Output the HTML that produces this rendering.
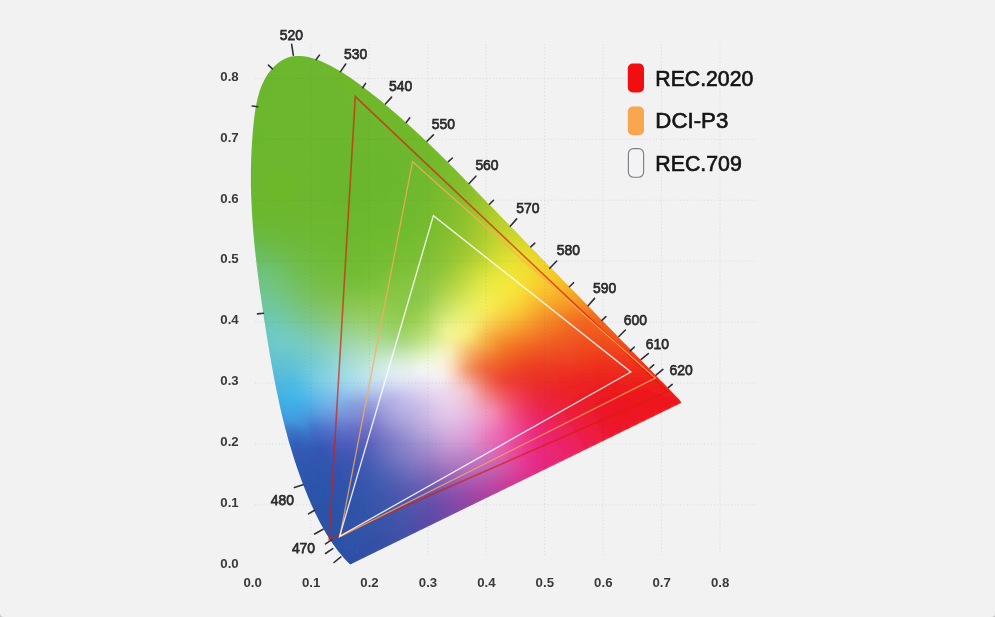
<!DOCTYPE html>
<html lang="en">
<head>
<meta charset="utf-8">
<title>CIE 1931 colour gamut comparison</title>
<style>
html,body{margin:0;padding:0;background:#c6c6c6;}
body{width:995px;height:617px;overflow:hidden;}
#card{position:absolute;left:0;top:0;width:995px;height:617px;background:#f2f2f2;border-radius:0 0 4px 4px;overflow:hidden;}
svg{position:absolute;left:0;top:0;display:block;}
text{font-family:"Liberation Sans",sans-serif;}
.grid line{stroke:#dcdcdc;stroke-width:1;stroke-dasharray:1.2 2.2;}
.grid2 line{stroke:#555;stroke-width:1;stroke-dasharray:1.2 2.2;}
.ticks line{stroke:#2e3037;stroke-width:1.6;stroke-linecap:round;}
.wl text{font-size:15.2px;fill:#2b2b2e;stroke:#2b2b2e;stroke-width:.75;}
.ax text{font-size:12.6px;fill:#3a3a3a;font-weight:700;}
.lg text{font-size:21.6px;fill:#141414;stroke:#141414;stroke-width:.65;}
</style>
</head>
<body>
<div id="card">
<svg width="995" height="617" viewBox="0 0 995 617">
<defs>
<clipPath id="locus"><path d="M350.2,564.4 346.9,561.3 343.8,558 341,554.6 338.2,551.2 335.5,547.6 332.9,544 330.4,540.3 328,536.5 325.7,532.7 323.5,528.8 321.3,524.9 319.2,520.9 317.2,516.9 315.2,512.9 313.3,508.8 311.4,504.7 309.6,500.6 307.9,496.4 306.2,492.3 304.5,488.1 302.9,483.9 301.3,479.7 299.8,475.5 298.3,471.3 296.8,467.1 295.4,462.8 294,458.6 292.7,454.3 291.4,450 290.1,445.7 288.8,441.4 287.6,437.1 286.5,432.8 285.3,428.5 284.2,424.1 283.1,419.8 282.1,415.4 281,411.1 280,406.7 279.1,402.3 278.1,397.9 277.2,393.6 276.3,389.2 275.4,384.8 274.5,380.3 273.7,375.9 272.9,371.5 272.1,367.1 271.3,362.7 270.5,358.3 269.7,353.8 269,349.4 268.2,345 267.5,340.5 266.8,336.1 266.1,331.7 265.4,327.2 264.7,322.8 264,318.4 263.4,313.9 262.7,309.5 262.1,305.1 261.4,300.6 260.8,296.2 260.1,291.8 259.5,287.3 258.9,282.9 258.4,278.5 257.8,274 257.2,269.6 256.7,265.2 256.2,260.7 255.7,256.3 255.2,251.8 254.7,247.4 254.3,242.9 253.9,238.5 253.5,234.1 253.1,229.6 252.8,225.2 252.5,220.7 252.2,216.2 251.9,211.8 251.7,207.3 251.5,202.9 251.3,198.4 251.1,193.9 251,189.4 250.9,185 250.9,180.5 250.9,176 250.9,171.5 251,167 251.1,162.5 251.2,158 251.4,153.5 251.6,149 251.9,144.5 252.2,139.9 252.5,135.4 252.9,130.9 253.3,126.3 253.8,121.8 254.3,117.3 254.9,112.7 255.6,108.2 256.4,103.7 257.4,99.3 258.5,94.9 259.8,90.6 261.3,86.4 263.1,82.4 265.1,78.4 267.5,74.6 270.1,71 273.1,67.6 276.3,64.5 279.7,61.8 283.4,59.5 287.2,57.8 291.2,56.6 295.3,56 299.5,55.9 303.8,56.3 308.1,57 312.5,58.2 316.8,59.6 321.2,61.3 325.4,63.3 329.6,65.3 333.7,67.5 337.7,69.7 341.6,72.1 345.4,74.5 349.2,77 352.9,79.6 356.6,82.2 360.2,84.8 363.8,87.5 367.3,90.2 370.9,92.9 374.4,95.7 377.9,98.5 381.4,101.3 384.8,104.2 388.2,107 391.6,109.9 395,112.8 398.4,115.8 401.8,118.7 405.1,121.7 408.5,124.7 411.8,127.7 415.1,130.7 418.3,133.7 421.6,136.8 424.9,139.9 428.1,143 431.3,146.1 434.6,149.2 437.8,152.3 441,155.4 444.2,158.6 447.4,161.7 450.5,164.9 453.7,168.1 456.9,171.3 460,174.5 463.2,177.7 466.3,180.9 469.4,184.1 472.6,187.3 475.7,190.5 478.8,193.7 482,196.9 485.1,200.2 488.2,203.4 491.3,206.6 494.5,209.8 497.6,213 500.7,216.3 503.8,219.5 507,222.7 510.1,225.9 513.2,229.1 516.3,232.3 519.5,235.5 522.6,238.8 525.7,242 528.8,245.2 532,248.4 535.1,251.6 538.2,254.8 541.3,258 544.5,261.2 547.6,264.4 550.7,267.6 553.8,270.8 557,274.1 560.1,277.3 563.2,280.5 566.4,283.7 569.5,286.9 572.6,290.1 575.7,293.3 578.9,296.5 582,299.7 585.1,302.9 588.2,306.1 591.4,309.3 594.5,312.5 597.6,315.7 600.7,318.9 603.9,322.1 607,325.4 610.1,328.6 613.3,331.8 616.4,335 619.5,338.2 622.6,341.4 625.8,344.6 628.9,347.8 632,351 635.2,354.2 638.3,357.4 641.4,360.6 644.5,363.8 647.7,367 650.8,370.2 653.9,373.5 657,376.7 660.2,379.9 663.3,383.1 666.4,386.3 669.6,389.5 672.7,392.7 675.8,395.9 678.9,399.1 681.6,402.8Z"/></clipPath>
<filter id="soft" x="-5%" y="-5%" width="110%" height="110%"><feGaussianBlur stdDeviation="1.5 2.4"/></filter>
<linearGradient id="g0" gradientUnits="userSpaceOnUse" x1="286.9" x2="310.8" y1="0" y2="0"><stop offset="0%" stop-color="#6cb72e"/><stop offset="33.3%" stop-color="#6cb72e"/><stop offset="66.7%" stop-color="#6db72d"/><stop offset="100%" stop-color="#6db72d"/></linearGradient><linearGradient id="g1" gradientUnits="userSpaceOnUse" x1="278.1" x2="323.2" y1="0" y2="0"><stop offset="0%" stop-color="#6bb72e"/><stop offset="20%" stop-color="#6cb72e"/><stop offset="40%" stop-color="#6cb72e"/><stop offset="60%" stop-color="#6db72d"/><stop offset="80%" stop-color="#6db72d"/><stop offset="100%" stop-color="#6eb72c"/></linearGradient><linearGradient id="g2" gradientUnits="userSpaceOnUse" x1="272.8" x2="332" y1="0" y2="0"><stop offset="0%" stop-color="#6bb72f"/><stop offset="16.7%" stop-color="#6cb72e"/><stop offset="33.3%" stop-color="#6cb72e"/><stop offset="50%" stop-color="#6db72d"/><stop offset="66.7%" stop-color="#6db72d"/><stop offset="83.3%" stop-color="#6eb72c"/><stop offset="100%" stop-color="#6eb72c"/></linearGradient><linearGradient id="g3" gradientUnits="userSpaceOnUse" x1="268.9" x2="339.4" y1="0" y2="0"><stop offset="0%" stop-color="#6bb72f"/><stop offset="14.3%" stop-color="#6bb72e"/><stop offset="28.6%" stop-color="#6cb72e"/><stop offset="42.9%" stop-color="#6cb72e"/><stop offset="57.1%" stop-color="#6db72d"/><stop offset="71.4%" stop-color="#6db72d"/><stop offset="85.7%" stop-color="#6eb72c"/><stop offset="100%" stop-color="#6fb72c"/></linearGradient><linearGradient id="g4" gradientUnits="userSpaceOnUse" x1="265.7" x2="346" y1="0" y2="0"><stop offset="0%" stop-color="#6bb72f"/><stop offset="12.5%" stop-color="#6bb72e"/><stop offset="25%" stop-color="#6cb72e"/><stop offset="37.5%" stop-color="#6cb72e"/><stop offset="50%" stop-color="#6cb72d"/><stop offset="62.5%" stop-color="#6db72d"/><stop offset="75%" stop-color="#6eb72d"/><stop offset="87.5%" stop-color="#6eb72c"/><stop offset="100%" stop-color="#6fb72c"/></linearGradient><linearGradient id="g5" gradientUnits="userSpaceOnUse" x1="263" x2="352.2" y1="0" y2="0"><stop offset="0%" stop-color="#6bb72f"/><stop offset="11.1%" stop-color="#6bb72e"/><stop offset="22.2%" stop-color="#6cb72e"/><stop offset="33.3%" stop-color="#6cb72e"/><stop offset="44.4%" stop-color="#6cb72e"/><stop offset="55.6%" stop-color="#6db72d"/><stop offset="66.7%" stop-color="#6db72d"/><stop offset="77.8%" stop-color="#6eb72c"/><stop offset="88.9%" stop-color="#6eb72c"/><stop offset="100%" stop-color="#6fb72b"/></linearGradient><linearGradient id="g6" gradientUnits="userSpaceOnUse" x1="260.8" x2="357.9" y1="0" y2="0"><stop offset="0%" stop-color="#6bb72f"/><stop offset="11.1%" stop-color="#6bb72e"/><stop offset="22.2%" stop-color="#6cb72e"/><stop offset="33.3%" stop-color="#6cb72e"/><stop offset="44.4%" stop-color="#6cb72e"/><stop offset="55.6%" stop-color="#6db72d"/><stop offset="66.7%" stop-color="#6db72d"/><stop offset="77.8%" stop-color="#6eb72c"/><stop offset="88.9%" stop-color="#6fb72c"/><stop offset="100%" stop-color="#70b72b"/></linearGradient><linearGradient id="g7" gradientUnits="userSpaceOnUse" x1="258.9" x2="363.4" y1="0" y2="0"><stop offset="0%" stop-color="#6bb72f"/><stop offset="10%" stop-color="#6bb72f"/><stop offset="20%" stop-color="#6cb72e"/><stop offset="30%" stop-color="#6cb72e"/><stop offset="40%" stop-color="#6cb72e"/><stop offset="50%" stop-color="#6cb72d"/><stop offset="60%" stop-color="#6db72d"/><stop offset="70%" stop-color="#6db72d"/><stop offset="80%" stop-color="#6eb72c"/><stop offset="90%" stop-color="#6fb72c"/><stop offset="100%" stop-color="#70b82b"/></linearGradient><linearGradient id="g8" gradientUnits="userSpaceOnUse" x1="257.4" x2="368.7" y1="0" y2="0"><stop offset="0%" stop-color="#6bb72f"/><stop offset="9.1%" stop-color="#6bb72f"/><stop offset="18.2%" stop-color="#6cb72e"/><stop offset="27.3%" stop-color="#6cb72e"/><stop offset="36.4%" stop-color="#6cb72e"/><stop offset="45.5%" stop-color="#6cb72e"/><stop offset="54.5%" stop-color="#6cb72d"/><stop offset="63.6%" stop-color="#6db72d"/><stop offset="72.7%" stop-color="#6db72d"/><stop offset="81.8%" stop-color="#6eb72c"/><stop offset="90.9%" stop-color="#6fb72c"/><stop offset="100%" stop-color="#70b82b"/></linearGradient><linearGradient id="g9" gradientUnits="userSpaceOnUse" x1="256.1" x2="373.9" y1="0" y2="0"><stop offset="0%" stop-color="#6bb72f"/><stop offset="9.1%" stop-color="#6bb72e"/><stop offset="18.2%" stop-color="#6cb72e"/><stop offset="27.3%" stop-color="#6cb72e"/><stop offset="36.4%" stop-color="#6cb72e"/><stop offset="45.5%" stop-color="#6cb72e"/><stop offset="54.5%" stop-color="#6cb72e"/><stop offset="63.6%" stop-color="#6db72d"/><stop offset="72.7%" stop-color="#6db72d"/><stop offset="81.8%" stop-color="#6eb72c"/><stop offset="90.9%" stop-color="#6fb72c"/><stop offset="100%" stop-color="#70b82b"/></linearGradient><linearGradient id="g10" gradientUnits="userSpaceOnUse" x1="254.9" x2="379" y1="0" y2="0"><stop offset="0%" stop-color="#6bb72f"/><stop offset="8.3%" stop-color="#6bb72e"/><stop offset="16.7%" stop-color="#6cb72e"/><stop offset="25%" stop-color="#6cb72e"/><stop offset="33.3%" stop-color="#6cb72e"/><stop offset="41.7%" stop-color="#6cb72e"/><stop offset="50%" stop-color="#6cb72e"/><stop offset="58.3%" stop-color="#6cb72e"/><stop offset="66.7%" stop-color="#6db72d"/><stop offset="75%" stop-color="#6eb72d"/><stop offset="83.3%" stop-color="#6eb72c"/><stop offset="91.7%" stop-color="#6fb72c"/><stop offset="100%" stop-color="#71b82b"/></linearGradient><linearGradient id="g11" gradientUnits="userSpaceOnUse" x1="254" x2="383.9" y1="0" y2="0"><stop offset="0%" stop-color="#6bb72f"/><stop offset="8.3%" stop-color="#6bb72e"/><stop offset="16.7%" stop-color="#6cb72e"/><stop offset="25%" stop-color="#6cb72e"/><stop offset="33.3%" stop-color="#6cb72e"/><stop offset="41.7%" stop-color="#6cb72e"/><stop offset="50%" stop-color="#6cb72e"/><stop offset="58.3%" stop-color="#6cb72e"/><stop offset="66.7%" stop-color="#6db72d"/><stop offset="75%" stop-color="#6eb72d"/><stop offset="83.3%" stop-color="#6eb72c"/><stop offset="91.7%" stop-color="#6fb82c"/><stop offset="100%" stop-color="#71b82b"/></linearGradient><linearGradient id="g12" gradientUnits="userSpaceOnUse" x1="253.2" x2="388.8" y1="0" y2="0"><stop offset="0%" stop-color="#6bb72f"/><stop offset="7.7%" stop-color="#6cb72e"/><stop offset="15.4%" stop-color="#6cb72e"/><stop offset="23.1%" stop-color="#6cb72e"/><stop offset="30.8%" stop-color="#6cb72e"/><stop offset="38.5%" stop-color="#6cb72e"/><stop offset="46.2%" stop-color="#6cb72e"/><stop offset="53.8%" stop-color="#6cb72e"/><stop offset="61.5%" stop-color="#6cb72e"/><stop offset="69.2%" stop-color="#6db72d"/><stop offset="76.9%" stop-color="#6eb72d"/><stop offset="84.6%" stop-color="#6fb72c"/><stop offset="92.3%" stop-color="#70b82c"/><stop offset="100%" stop-color="#71b82b"/></linearGradient><linearGradient id="g13" gradientUnits="userSpaceOnUse" x1="252.5" x2="393.6" y1="0" y2="0"><stop offset="0%" stop-color="#6bb72f"/><stop offset="7.7%" stop-color="#6cb72e"/><stop offset="15.4%" stop-color="#6cb72e"/><stop offset="23.1%" stop-color="#6cb72d"/><stop offset="30.8%" stop-color="#6cb72d"/><stop offset="38.5%" stop-color="#6cb72e"/><stop offset="46.2%" stop-color="#6cb72e"/><stop offset="53.8%" stop-color="#6cb72e"/><stop offset="61.5%" stop-color="#6cb72d"/><stop offset="69.2%" stop-color="#6db72d"/><stop offset="76.9%" stop-color="#6eb72d"/><stop offset="84.6%" stop-color="#6fb72c"/><stop offset="92.3%" stop-color="#70b82c"/><stop offset="100%" stop-color="#71b82b"/></linearGradient><linearGradient id="g14" gradientUnits="userSpaceOnUse" x1="251.9" x2="398.2" y1="0" y2="0"><stop offset="0%" stop-color="#6bb72f"/><stop offset="7.1%" stop-color="#6cb72e"/><stop offset="14.3%" stop-color="#6cb72e"/><stop offset="21.4%" stop-color="#6cb72d"/><stop offset="28.6%" stop-color="#6cb72d"/><stop offset="35.7%" stop-color="#6cb72d"/><stop offset="42.9%" stop-color="#6cb72e"/><stop offset="50%" stop-color="#6cb72e"/><stop offset="57.1%" stop-color="#6cb72e"/><stop offset="64.3%" stop-color="#6db72d"/><stop offset="71.4%" stop-color="#6db72d"/><stop offset="78.6%" stop-color="#6eb72d"/><stop offset="85.7%" stop-color="#6fb72c"/><stop offset="92.9%" stop-color="#70b82b"/><stop offset="100%" stop-color="#71b82b"/></linearGradient><linearGradient id="g15" gradientUnits="userSpaceOnUse" x1="251.4" x2="402.8" y1="0" y2="0"><stop offset="0%" stop-color="#6bb72f"/><stop offset="7.1%" stop-color="#6cb72e"/><stop offset="14.3%" stop-color="#6cb72e"/><stop offset="21.4%" stop-color="#6cb72d"/><stop offset="28.6%" stop-color="#6cb72d"/><stop offset="35.7%" stop-color="#6cb72d"/><stop offset="42.9%" stop-color="#6cb72e"/><stop offset="50%" stop-color="#6cb72e"/><stop offset="57.1%" stop-color="#6cb72e"/><stop offset="64.3%" stop-color="#6db72d"/><stop offset="71.4%" stop-color="#6db72d"/><stop offset="78.6%" stop-color="#6eb72d"/><stop offset="85.7%" stop-color="#6fb72c"/><stop offset="92.9%" stop-color="#70b82c"/><stop offset="100%" stop-color="#72b82b"/></linearGradient><linearGradient id="g16" gradientUnits="userSpaceOnUse" x1="250.9" x2="407.4" y1="0" y2="0"><stop offset="0%" stop-color="#6bb72f"/><stop offset="6.7%" stop-color="#6cb72e"/><stop offset="13.3%" stop-color="#6cb72e"/><stop offset="20%" stop-color="#6cb72d"/><stop offset="26.7%" stop-color="#6cb72d"/><stop offset="33.3%" stop-color="#6cb72d"/><stop offset="40%" stop-color="#6cb72d"/><stop offset="46.7%" stop-color="#6cb72e"/><stop offset="53.3%" stop-color="#6cb72e"/><stop offset="60%" stop-color="#6cb72d"/><stop offset="66.7%" stop-color="#6db72d"/><stop offset="73.3%" stop-color="#6db72d"/><stop offset="80%" stop-color="#6eb72d"/><stop offset="86.7%" stop-color="#6fb82c"/><stop offset="93.3%" stop-color="#70b82c"/><stop offset="100%" stop-color="#72b82b"/></linearGradient><linearGradient id="g17" gradientUnits="userSpaceOnUse" x1="250.5" x2="411.8" y1="0" y2="0"><stop offset="0%" stop-color="#6bb72f"/><stop offset="6.7%" stop-color="#6cb72e"/><stop offset="13.3%" stop-color="#6cb72e"/><stop offset="20%" stop-color="#6cb72d"/><stop offset="26.7%" stop-color="#6cb72d"/><stop offset="33.3%" stop-color="#6cb72d"/><stop offset="40%" stop-color="#6cb72d"/><stop offset="46.7%" stop-color="#6cb72e"/><stop offset="53.3%" stop-color="#6cb72e"/><stop offset="60%" stop-color="#6cb72d"/><stop offset="66.7%" stop-color="#6db72d"/><stop offset="73.3%" stop-color="#6db72d"/><stop offset="80%" stop-color="#6eb72d"/><stop offset="86.7%" stop-color="#6fb82c"/><stop offset="93.3%" stop-color="#70b82c"/><stop offset="100%" stop-color="#72b82b"/></linearGradient><linearGradient id="g18" gradientUnits="userSpaceOnUse" x1="250.1" x2="416.2" y1="0" y2="0"><stop offset="0%" stop-color="#6bb72f"/><stop offset="6.2%" stop-color="#6cb72e"/><stop offset="12.5%" stop-color="#6cb72e"/><stop offset="18.8%" stop-color="#6cb72d"/><stop offset="25%" stop-color="#6cb72d"/><stop offset="31.2%" stop-color="#6cb72d"/><stop offset="37.5%" stop-color="#6cb72d"/><stop offset="43.8%" stop-color="#6cb72d"/><stop offset="50%" stop-color="#6cb72e"/><stop offset="56.3%" stop-color="#6cb72e"/><stop offset="62.5%" stop-color="#6cb72e"/><stop offset="68.8%" stop-color="#6db72d"/><stop offset="75%" stop-color="#6db72d"/><stop offset="81.2%" stop-color="#6eb72d"/><stop offset="87.5%" stop-color="#6fb82c"/><stop offset="93.8%" stop-color="#71b82c"/><stop offset="100%" stop-color="#73b82b"/></linearGradient><linearGradient id="g19" gradientUnits="userSpaceOnUse" x1="249.7" x2="420.5" y1="0" y2="0"><stop offset="0%" stop-color="#6bb72f"/><stop offset="6.2%" stop-color="#6bb72e"/><stop offset="12.5%" stop-color="#6cb72d"/><stop offset="18.8%" stop-color="#6cb72d"/><stop offset="25%" stop-color="#6cb72d"/><stop offset="31.3%" stop-color="#6cb72d"/><stop offset="37.5%" stop-color="#6cb72d"/><stop offset="43.7%" stop-color="#6cb72d"/><stop offset="50%" stop-color="#6cb72e"/><stop offset="56.3%" stop-color="#6cb72e"/><stop offset="62.5%" stop-color="#6cb72e"/><stop offset="68.8%" stop-color="#6db72d"/><stop offset="75%" stop-color="#6db72d"/><stop offset="81.2%" stop-color="#6eb72d"/><stop offset="87.5%" stop-color="#6fb82c"/><stop offset="93.7%" stop-color="#71b82c"/><stop offset="100%" stop-color="#73b92b"/></linearGradient><linearGradient id="g20" gradientUnits="userSpaceOnUse" x1="249.4" x2="424.8" y1="0" y2="0"><stop offset="0%" stop-color="#6bb730"/><stop offset="6.3%" stop-color="#6bb72e"/><stop offset="12.5%" stop-color="#6cb72d"/><stop offset="18.8%" stop-color="#6cb72d"/><stop offset="25%" stop-color="#6cb72d"/><stop offset="31.3%" stop-color="#6cb72d"/><stop offset="37.5%" stop-color="#6cb72d"/><stop offset="43.8%" stop-color="#6cb72d"/><stop offset="50%" stop-color="#6cb72e"/><stop offset="56.3%" stop-color="#6cb72e"/><stop offset="62.5%" stop-color="#6cb72e"/><stop offset="68.8%" stop-color="#6cb72d"/><stop offset="75%" stop-color="#6db72d"/><stop offset="81.3%" stop-color="#6eb72d"/><stop offset="87.5%" stop-color="#6fb82c"/><stop offset="93.7%" stop-color="#71b82c"/><stop offset="100%" stop-color="#73b92b"/></linearGradient><linearGradient id="g21" gradientUnits="userSpaceOnUse" x1="249.1" x2="429" y1="0" y2="0"><stop offset="0%" stop-color="#6bb730"/><stop offset="5.9%" stop-color="#6bb72e"/><stop offset="11.8%" stop-color="#6cb72d"/><stop offset="17.6%" stop-color="#6cb72d"/><stop offset="23.5%" stop-color="#6cb72d"/><stop offset="29.4%" stop-color="#6cb72d"/><stop offset="35.3%" stop-color="#6cb72d"/><stop offset="41.2%" stop-color="#6bb72d"/><stop offset="47.1%" stop-color="#6bb72d"/><stop offset="52.9%" stop-color="#6cb72e"/><stop offset="58.8%" stop-color="#6cb72e"/><stop offset="64.7%" stop-color="#6cb72e"/><stop offset="70.6%" stop-color="#6cb72d"/><stop offset="76.5%" stop-color="#6db72d"/><stop offset="82.4%" stop-color="#6eb72d"/><stop offset="88.2%" stop-color="#6fb82c"/><stop offset="94.1%" stop-color="#71b82c"/><stop offset="100%" stop-color="#74b92b"/></linearGradient><linearGradient id="g22" gradientUnits="userSpaceOnUse" x1="248.8" x2="433.2" y1="0" y2="0"><stop offset="0%" stop-color="#6bb730"/><stop offset="5.9%" stop-color="#6bb72e"/><stop offset="11.8%" stop-color="#6cb72d"/><stop offset="17.6%" stop-color="#6cb72d"/><stop offset="23.5%" stop-color="#6cb72d"/><stop offset="29.4%" stop-color="#6cb72d"/><stop offset="35.3%" stop-color="#6cb72d"/><stop offset="41.2%" stop-color="#6bb72d"/><stop offset="47.1%" stop-color="#6bb72d"/><stop offset="52.9%" stop-color="#6bb72e"/><stop offset="58.8%" stop-color="#6cb72e"/><stop offset="64.7%" stop-color="#6cb72e"/><stop offset="70.6%" stop-color="#6cb72d"/><stop offset="76.5%" stop-color="#6db72d"/><stop offset="82.4%" stop-color="#6eb72d"/><stop offset="88.2%" stop-color="#6fb82d"/><stop offset="94.1%" stop-color="#71b92c"/><stop offset="100%" stop-color="#75b92b"/></linearGradient><linearGradient id="g23" gradientUnits="userSpaceOnUse" x1="248.6" x2="437.4" y1="0" y2="0"><stop offset="0%" stop-color="#6bb730"/><stop offset="5.6%" stop-color="#6cb72e"/><stop offset="11.1%" stop-color="#6cb72d"/><stop offset="16.7%" stop-color="#6cb72d"/><stop offset="22.2%" stop-color="#6cb72d"/><stop offset="27.8%" stop-color="#6cb72d"/><stop offset="33.3%" stop-color="#6cb72d"/><stop offset="38.9%" stop-color="#6bb72d"/><stop offset="44.4%" stop-color="#6bb72d"/><stop offset="50%" stop-color="#6bb72d"/><stop offset="55.6%" stop-color="#6bb72e"/><stop offset="61.1%" stop-color="#6cb72e"/><stop offset="66.7%" stop-color="#6cb72e"/><stop offset="72.2%" stop-color="#6cb72d"/><stop offset="77.8%" stop-color="#6db72d"/><stop offset="83.3%" stop-color="#6eb82d"/><stop offset="88.9%" stop-color="#6fb82d"/><stop offset="94.4%" stop-color="#72b92c"/><stop offset="100%" stop-color="#76ba2b"/></linearGradient><linearGradient id="g24" gradientUnits="userSpaceOnUse" x1="248.4" x2="441.5" y1="0" y2="0"><stop offset="0%" stop-color="#6bb730"/><stop offset="5.6%" stop-color="#6cb72e"/><stop offset="11.1%" stop-color="#6cb72d"/><stop offset="16.7%" stop-color="#6cb72d"/><stop offset="22.2%" stop-color="#6cb72d"/><stop offset="27.8%" stop-color="#6cb72d"/><stop offset="33.3%" stop-color="#6cb72d"/><stop offset="38.9%" stop-color="#6bb72d"/><stop offset="44.4%" stop-color="#6bb72d"/><stop offset="50%" stop-color="#6bb72d"/><stop offset="55.6%" stop-color="#6bb72e"/><stop offset="61.1%" stop-color="#6bb72e"/><stop offset="66.7%" stop-color="#6cb72e"/><stop offset="72.2%" stop-color="#6cb72e"/><stop offset="77.8%" stop-color="#6db72d"/><stop offset="83.3%" stop-color="#6eb82d"/><stop offset="88.9%" stop-color="#70b82d"/><stop offset="94.4%" stop-color="#72b92c"/><stop offset="100%" stop-color="#77ba2b"/></linearGradient><linearGradient id="g25" gradientUnits="userSpaceOnUse" x1="248.3" x2="445.5" y1="0" y2="0"><stop offset="0%" stop-color="#6bb730"/><stop offset="5.6%" stop-color="#6cb72e"/><stop offset="11.1%" stop-color="#6cb72d"/><stop offset="16.7%" stop-color="#6cb72d"/><stop offset="22.2%" stop-color="#6cb72d"/><stop offset="27.8%" stop-color="#6cb72d"/><stop offset="33.3%" stop-color="#6cb72d"/><stop offset="38.9%" stop-color="#6bb72d"/><stop offset="44.4%" stop-color="#6bb72d"/><stop offset="50%" stop-color="#6bb72d"/><stop offset="55.6%" stop-color="#6bb72e"/><stop offset="61.1%" stop-color="#6bb72e"/><stop offset="66.7%" stop-color="#6bb72e"/><stop offset="72.2%" stop-color="#6cb72e"/><stop offset="77.8%" stop-color="#6db72e"/><stop offset="83.3%" stop-color="#6eb82d"/><stop offset="88.9%" stop-color="#70b92d"/><stop offset="94.4%" stop-color="#73b92c"/><stop offset="100%" stop-color="#79bb2b"/></linearGradient><linearGradient id="g26" gradientUnits="userSpaceOnUse" x1="248.1" x2="449.6" y1="0" y2="0"><stop offset="0%" stop-color="#6bb72f"/><stop offset="5.3%" stop-color="#6cb72e"/><stop offset="10.5%" stop-color="#6cb72d"/><stop offset="15.8%" stop-color="#6cb72d"/><stop offset="21.1%" stop-color="#6cb72d"/><stop offset="26.3%" stop-color="#6cb72d"/><stop offset="31.6%" stop-color="#6cb72d"/><stop offset="36.8%" stop-color="#6bb72d"/><stop offset="42.1%" stop-color="#6bb72d"/><stop offset="47.4%" stop-color="#6bb72d"/><stop offset="52.6%" stop-color="#6bb72d"/><stop offset="57.9%" stop-color="#6bb72e"/><stop offset="63.2%" stop-color="#6bb72e"/><stop offset="68.4%" stop-color="#6bb72e"/><stop offset="73.7%" stop-color="#6cb72e"/><stop offset="78.9%" stop-color="#6db72e"/><stop offset="84.2%" stop-color="#6eb82d"/><stop offset="89.5%" stop-color="#70b92d"/><stop offset="94.7%" stop-color="#75ba2c"/><stop offset="100%" stop-color="#7bbb2b"/></linearGradient><linearGradient id="g27" gradientUnits="userSpaceOnUse" x1="248" x2="453.6" y1="0" y2="0"><stop offset="0%" stop-color="#6bb72f"/><stop offset="5.3%" stop-color="#6cb72e"/><stop offset="10.5%" stop-color="#6cb72d"/><stop offset="15.8%" stop-color="#6cb72d"/><stop offset="21.1%" stop-color="#6cb72d"/><stop offset="26.3%" stop-color="#6cb72d"/><stop offset="31.6%" stop-color="#6cb72d"/><stop offset="36.8%" stop-color="#6bb72d"/><stop offset="42.1%" stop-color="#6bb72d"/><stop offset="47.4%" stop-color="#6bb72d"/><stop offset="52.6%" stop-color="#6bb72d"/><stop offset="57.9%" stop-color="#6bb72e"/><stop offset="63.2%" stop-color="#6bb72e"/><stop offset="68.4%" stop-color="#6bb72e"/><stop offset="73.7%" stop-color="#6cb72e"/><stop offset="78.9%" stop-color="#6db82e"/><stop offset="84.2%" stop-color="#6fb82d"/><stop offset="89.5%" stop-color="#72b92d"/><stop offset="94.7%" stop-color="#77ba2c"/><stop offset="100%" stop-color="#7ebc2b"/></linearGradient><linearGradient id="g28" gradientUnits="userSpaceOnUse" x1="248" x2="457.6" y1="0" y2="0"><stop offset="0%" stop-color="#6bb72f"/><stop offset="5%" stop-color="#6cb72e"/><stop offset="10%" stop-color="#6cb72d"/><stop offset="15%" stop-color="#6cb72d"/><stop offset="20%" stop-color="#6cb72d"/><stop offset="25%" stop-color="#6cb72e"/><stop offset="30%" stop-color="#6cb72d"/><stop offset="35%" stop-color="#6bb72d"/><stop offset="40%" stop-color="#6bb72d"/><stop offset="45%" stop-color="#6bb72d"/><stop offset="50%" stop-color="#6bb72d"/><stop offset="55%" stop-color="#6bb72d"/><stop offset="60%" stop-color="#6bb72e"/><stop offset="65%" stop-color="#6bb72e"/><stop offset="70%" stop-color="#6bb72e"/><stop offset="75%" stop-color="#6cb72e"/><stop offset="80%" stop-color="#6eb82d"/><stop offset="85%" stop-color="#70b92d"/><stop offset="90%" stop-color="#74ba2d"/><stop offset="95%" stop-color="#7abb2c"/><stop offset="100%" stop-color="#80bc2b"/></linearGradient><linearGradient id="g29" gradientUnits="userSpaceOnUse" x1="247.9" x2="461.5" y1="0" y2="0"><stop offset="0%" stop-color="#6bb72f"/><stop offset="5%" stop-color="#6cb72d"/><stop offset="10%" stop-color="#6cb72c"/><stop offset="15%" stop-color="#6cb72c"/><stop offset="20%" stop-color="#6cb72d"/><stop offset="25%" stop-color="#6cb72e"/><stop offset="30%" stop-color="#6cb72d"/><stop offset="35%" stop-color="#6bb72d"/><stop offset="40%" stop-color="#6bb72d"/><stop offset="45%" stop-color="#6bb72d"/><stop offset="50%" stop-color="#6bb72d"/><stop offset="55%" stop-color="#6bb72d"/><stop offset="60%" stop-color="#6bb72e"/><stop offset="65%" stop-color="#6bb72e"/><stop offset="70%" stop-color="#6cb72e"/><stop offset="75%" stop-color="#6db82e"/><stop offset="80%" stop-color="#6eb82d"/><stop offset="85%" stop-color="#71b92d"/><stop offset="90%" stop-color="#76ba2d"/><stop offset="95%" stop-color="#7cbc2c"/><stop offset="100%" stop-color="#83bd2b"/></linearGradient><linearGradient id="g30" gradientUnits="userSpaceOnUse" x1="247.9" x2="465.5" y1="0" y2="0"><stop offset="0%" stop-color="#6bb730"/><stop offset="5%" stop-color="#6cb72d"/><stop offset="10%" stop-color="#6cb72c"/><stop offset="15%" stop-color="#6cb72c"/><stop offset="20%" stop-color="#6cb72d"/><stop offset="25%" stop-color="#6cb72d"/><stop offset="30%" stop-color="#6cb72d"/><stop offset="35%" stop-color="#6bb72d"/><stop offset="40%" stop-color="#6bb72d"/><stop offset="45%" stop-color="#6bb72d"/><stop offset="50%" stop-color="#6bb72d"/><stop offset="55%" stop-color="#6bb72d"/><stop offset="60%" stop-color="#6bb72e"/><stop offset="65%" stop-color="#6bb72e"/><stop offset="70%" stop-color="#6cb72e"/><stop offset="75%" stop-color="#6db82d"/><stop offset="80%" stop-color="#6fb92d"/><stop offset="85%" stop-color="#73ba2d"/><stop offset="90%" stop-color="#78bb2d"/><stop offset="95%" stop-color="#7fbc2c"/><stop offset="100%" stop-color="#86be2b"/></linearGradient><linearGradient id="g31" gradientUnits="userSpaceOnUse" x1="247.9" x2="469.4" y1="0" y2="0"><stop offset="0%" stop-color="#6bb730"/><stop offset="4.8%" stop-color="#6cb72d"/><stop offset="9.5%" stop-color="#6cb72c"/><stop offset="14.3%" stop-color="#6cb72c"/><stop offset="19%" stop-color="#6cb72c"/><stop offset="23.8%" stop-color="#6cb72d"/><stop offset="28.6%" stop-color="#6cb72d"/><stop offset="33.3%" stop-color="#6bb72d"/><stop offset="38.1%" stop-color="#6bb72d"/><stop offset="42.9%" stop-color="#6bb72d"/><stop offset="47.6%" stop-color="#6bb72d"/><stop offset="52.4%" stop-color="#6bb72d"/><stop offset="57.1%" stop-color="#6bb72d"/><stop offset="61.9%" stop-color="#6bb72e"/><stop offset="66.7%" stop-color="#6bb72e"/><stop offset="71.4%" stop-color="#6cb82e"/><stop offset="76.2%" stop-color="#6eb82d"/><stop offset="81%" stop-color="#71b92d"/><stop offset="85.7%" stop-color="#76ba2d"/><stop offset="90.5%" stop-color="#7bbc2d"/><stop offset="95.2%" stop-color="#82bd2c"/><stop offset="100%" stop-color="#8abf2b"/></linearGradient><linearGradient id="g32" gradientUnits="userSpaceOnUse" x1="247.9" x2="473.3" y1="0" y2="0"><stop offset="0%" stop-color="#6bb730"/><stop offset="4.8%" stop-color="#6cb72d"/><stop offset="9.5%" stop-color="#6cb72c"/><stop offset="14.3%" stop-color="#6cb72c"/><stop offset="19%" stop-color="#6cb72c"/><stop offset="23.8%" stop-color="#6cb72d"/><stop offset="28.6%" stop-color="#6cb72d"/><stop offset="33.3%" stop-color="#6bb72d"/><stop offset="38.1%" stop-color="#6bb72d"/><stop offset="42.9%" stop-color="#6bb72d"/><stop offset="47.6%" stop-color="#6bb72d"/><stop offset="52.4%" stop-color="#6bb72d"/><stop offset="57.1%" stop-color="#6bb72e"/><stop offset="61.9%" stop-color="#6bb72e"/><stop offset="66.7%" stop-color="#6cb72e"/><stop offset="71.4%" stop-color="#6db82d"/><stop offset="76.2%" stop-color="#6fb92d"/><stop offset="81%" stop-color="#73ba2d"/><stop offset="85.7%" stop-color="#78bb2d"/><stop offset="90.5%" stop-color="#7ebc2d"/><stop offset="95.2%" stop-color="#85be2c"/><stop offset="100%" stop-color="#8ec02c"/></linearGradient><linearGradient id="g33" gradientUnits="userSpaceOnUse" x1="247.9" x2="477.2" y1="0" y2="0"><stop offset="0%" stop-color="#6bb730"/><stop offset="4.8%" stop-color="#6cb72d"/><stop offset="9.5%" stop-color="#6cb72c"/><stop offset="14.3%" stop-color="#6cb72c"/><stop offset="19%" stop-color="#6cb72c"/><stop offset="23.8%" stop-color="#6cb72d"/><stop offset="28.6%" stop-color="#6cb72d"/><stop offset="33.3%" stop-color="#6bb72d"/><stop offset="38.1%" stop-color="#6bb72d"/><stop offset="42.9%" stop-color="#6bb72d"/><stop offset="47.6%" stop-color="#6bb72d"/><stop offset="52.4%" stop-color="#6bb72d"/><stop offset="57.1%" stop-color="#6bb72e"/><stop offset="61.9%" stop-color="#6bb72e"/><stop offset="66.7%" stop-color="#6cb82d"/><stop offset="71.4%" stop-color="#6eb82d"/><stop offset="76.2%" stop-color="#70b92d"/><stop offset="81%" stop-color="#74ba2d"/><stop offset="85.7%" stop-color="#7abb2d"/><stop offset="90.5%" stop-color="#81bd2d"/><stop offset="95.2%" stop-color="#88bf2c"/><stop offset="100%" stop-color="#92c12c"/></linearGradient><linearGradient id="g34" gradientUnits="userSpaceOnUse" x1="248" x2="481.1" y1="0" y2="0"><stop offset="0%" stop-color="#6bb730"/><stop offset="4.5%" stop-color="#6cb72d"/><stop offset="9.1%" stop-color="#6cb72c"/><stop offset="13.6%" stop-color="#6cb72c"/><stop offset="18.2%" stop-color="#6cb72c"/><stop offset="22.7%" stop-color="#6cb72c"/><stop offset="27.3%" stop-color="#6cb72d"/><stop offset="31.8%" stop-color="#6bb72d"/><stop offset="36.4%" stop-color="#6bb72d"/><stop offset="40.9%" stop-color="#6bb72d"/><stop offset="45.5%" stop-color="#6bb72d"/><stop offset="50%" stop-color="#6bb72d"/><stop offset="54.5%" stop-color="#6bb72e"/><stop offset="59.1%" stop-color="#6bb72e"/><stop offset="63.6%" stop-color="#6cb82d"/><stop offset="68.2%" stop-color="#6db82d"/><stop offset="72.7%" stop-color="#6fb92d"/><stop offset="77.3%" stop-color="#73ba2d"/><stop offset="81.8%" stop-color="#77bb2d"/><stop offset="86.4%" stop-color="#7dbc2d"/><stop offset="90.9%" stop-color="#84be2d"/><stop offset="95.5%" stop-color="#8cc02c"/><stop offset="100%" stop-color="#97c32c"/></linearGradient><linearGradient id="g35" gradientUnits="userSpaceOnUse" x1="248.1" x2="485" y1="0" y2="0"><stop offset="0%" stop-color="#6bb730"/><stop offset="4.5%" stop-color="#6cb72d"/><stop offset="9.1%" stop-color="#6cb72c"/><stop offset="13.6%" stop-color="#6cb72c"/><stop offset="18.2%" stop-color="#6cb72c"/><stop offset="22.7%" stop-color="#6cb72d"/><stop offset="27.3%" stop-color="#6cb72d"/><stop offset="31.8%" stop-color="#6bb72d"/><stop offset="36.4%" stop-color="#6bb72d"/><stop offset="40.9%" stop-color="#6bb72d"/><stop offset="45.5%" stop-color="#6bb72d"/><stop offset="50%" stop-color="#6bb72d"/><stop offset="54.5%" stop-color="#6bb72e"/><stop offset="59.1%" stop-color="#6cb72e"/><stop offset="63.6%" stop-color="#6cb82d"/><stop offset="68.2%" stop-color="#6db82d"/><stop offset="72.7%" stop-color="#70b92d"/><stop offset="77.3%" stop-color="#74ba2d"/><stop offset="81.8%" stop-color="#7abb2d"/><stop offset="86.4%" stop-color="#80bd2d"/><stop offset="90.9%" stop-color="#87bf2d"/><stop offset="95.5%" stop-color="#91c12c"/><stop offset="100%" stop-color="#9cc52b"/></linearGradient><linearGradient id="g36" gradientUnits="userSpaceOnUse" x1="248.2" x2="488.9" y1="0" y2="0"><stop offset="0%" stop-color="#6bb730"/><stop offset="4.5%" stop-color="#6cb72d"/><stop offset="9.1%" stop-color="#6cb72c"/><stop offset="13.6%" stop-color="#6cb72c"/><stop offset="18.2%" stop-color="#6cb72c"/><stop offset="22.7%" stop-color="#6cb72d"/><stop offset="27.3%" stop-color="#6cb72d"/><stop offset="31.8%" stop-color="#6cb72d"/><stop offset="36.4%" stop-color="#6bb72d"/><stop offset="40.9%" stop-color="#6bb72d"/><stop offset="45.5%" stop-color="#6bb72d"/><stop offset="50%" stop-color="#6bb72d"/><stop offset="54.5%" stop-color="#6cb72e"/><stop offset="59.1%" stop-color="#6cb82d"/><stop offset="63.6%" stop-color="#6db82d"/><stop offset="68.2%" stop-color="#6eb92d"/><stop offset="72.7%" stop-color="#71ba2d"/><stop offset="77.3%" stop-color="#76bb2d"/><stop offset="81.8%" stop-color="#7cbc2d"/><stop offset="86.4%" stop-color="#83be2d"/><stop offset="90.9%" stop-color="#8bc02d"/><stop offset="95.5%" stop-color="#96c32c"/><stop offset="100%" stop-color="#a2c72b"/></linearGradient><linearGradient id="g37" gradientUnits="userSpaceOnUse" x1="248.4" x2="492.8" y1="0" y2="0"><stop offset="0%" stop-color="#6bb731"/><stop offset="4.3%" stop-color="#6cb72d"/><stop offset="8.7%" stop-color="#6cb72d"/><stop offset="13%" stop-color="#6cb72d"/><stop offset="17.4%" stop-color="#6cb72d"/><stop offset="21.7%" stop-color="#6cb72d"/><stop offset="26.1%" stop-color="#6cb72d"/><stop offset="30.4%" stop-color="#6cb72d"/><stop offset="34.8%" stop-color="#6bb72d"/><stop offset="39.1%" stop-color="#6bb72d"/><stop offset="43.5%" stop-color="#6bb72d"/><stop offset="47.8%" stop-color="#6bb72d"/><stop offset="52.2%" stop-color="#6cb72e"/><stop offset="56.5%" stop-color="#6cb72e"/><stop offset="60.9%" stop-color="#6cb82d"/><stop offset="65.2%" stop-color="#6db92d"/><stop offset="69.6%" stop-color="#70b92d"/><stop offset="73.9%" stop-color="#74ba2d"/><stop offset="78.3%" stop-color="#79bc2d"/><stop offset="82.6%" stop-color="#80bd2d"/><stop offset="87%" stop-color="#87bf2d"/><stop offset="91.3%" stop-color="#91c22d"/><stop offset="95.7%" stop-color="#9dc62c"/><stop offset="100%" stop-color="#a8c92b"/></linearGradient><linearGradient id="g38" gradientUnits="userSpaceOnUse" x1="248.6" x2="496.7" y1="0" y2="0"><stop offset="0%" stop-color="#6bb731"/><stop offset="4.3%" stop-color="#6cb72e"/><stop offset="8.7%" stop-color="#6cb72d"/><stop offset="13%" stop-color="#6cb72d"/><stop offset="17.4%" stop-color="#6cb72d"/><stop offset="21.7%" stop-color="#6cb72d"/><stop offset="26.1%" stop-color="#6cb72d"/><stop offset="30.4%" stop-color="#6cb72d"/><stop offset="34.8%" stop-color="#6bb72d"/><stop offset="39.1%" stop-color="#6bb72d"/><stop offset="43.5%" stop-color="#6bb72d"/><stop offset="47.8%" stop-color="#6bb72d"/><stop offset="52.2%" stop-color="#6cb72d"/><stop offset="56.5%" stop-color="#6cb82d"/><stop offset="60.9%" stop-color="#6db82d"/><stop offset="65.2%" stop-color="#6eb92d"/><stop offset="69.6%" stop-color="#72ba2d"/><stop offset="73.9%" stop-color="#76bb2d"/><stop offset="78.3%" stop-color="#7cbc2d"/><stop offset="82.6%" stop-color="#83be2d"/><stop offset="87%" stop-color="#8bc02d"/><stop offset="91.3%" stop-color="#96c42d"/><stop offset="95.7%" stop-color="#a3c82c"/><stop offset="100%" stop-color="#aecb2b"/></linearGradient><linearGradient id="g39" gradientUnits="userSpaceOnUse" x1="248.8" x2="500.5" y1="0" y2="0"><stop offset="0%" stop-color="#6bb732"/><stop offset="4.3%" stop-color="#6cb72e"/><stop offset="8.7%" stop-color="#6cb72e"/><stop offset="13%" stop-color="#6cb72e"/><stop offset="17.4%" stop-color="#6cb72e"/><stop offset="21.7%" stop-color="#6cb72e"/><stop offset="26.1%" stop-color="#6cb72e"/><stop offset="30.4%" stop-color="#6cb72e"/><stop offset="34.8%" stop-color="#6cb72d"/><stop offset="39.1%" stop-color="#6bb72d"/><stop offset="43.5%" stop-color="#6bb72d"/><stop offset="47.8%" stop-color="#6cb72d"/><stop offset="52.2%" stop-color="#6cb82d"/><stop offset="56.5%" stop-color="#6db82d"/><stop offset="60.9%" stop-color="#6eb92d"/><stop offset="65.2%" stop-color="#70b92d"/><stop offset="69.6%" stop-color="#73ba2d"/><stop offset="73.9%" stop-color="#78bc2d"/><stop offset="78.3%" stop-color="#7ebd2d"/><stop offset="82.6%" stop-color="#86bf2d"/><stop offset="87%" stop-color="#90c12d"/><stop offset="91.3%" stop-color="#9cc62d"/><stop offset="95.7%" stop-color="#aacb2c"/><stop offset="100%" stop-color="#b4cd2b"/></linearGradient><linearGradient id="g40" gradientUnits="userSpaceOnUse" x1="249" x2="504.4" y1="0" y2="0"><stop offset="0%" stop-color="#6bb733"/><stop offset="4.2%" stop-color="#6cb72f"/><stop offset="8.3%" stop-color="#6cb72f"/><stop offset="12.5%" stop-color="#6cb72f"/><stop offset="16.7%" stop-color="#6cb72f"/><stop offset="20.8%" stop-color="#6cb72e"/><stop offset="25%" stop-color="#6cb72e"/><stop offset="29.2%" stop-color="#6cb72e"/><stop offset="33.3%" stop-color="#6cb72e"/><stop offset="37.5%" stop-color="#6cb72d"/><stop offset="41.7%" stop-color="#6cb72d"/><stop offset="45.8%" stop-color="#6cb82d"/><stop offset="50%" stop-color="#6cb82d"/><stop offset="54.2%" stop-color="#6db82d"/><stop offset="58.3%" stop-color="#6eb92d"/><stop offset="62.5%" stop-color="#6fb92d"/><stop offset="66.7%" stop-color="#72ba2d"/><stop offset="70.8%" stop-color="#76bb2d"/><stop offset="75%" stop-color="#7cbc2d"/><stop offset="79.2%" stop-color="#83be2d"/><stop offset="83.3%" stop-color="#8bc02d"/><stop offset="87.5%" stop-color="#96c32d"/><stop offset="91.7%" stop-color="#a4c92d"/><stop offset="95.8%" stop-color="#b1cd2c"/><stop offset="100%" stop-color="#b9ce2b"/></linearGradient><linearGradient id="g41" gradientUnits="userSpaceOnUse" x1="249.2" x2="508.3" y1="0" y2="0"><stop offset="0%" stop-color="#6bb836"/><stop offset="4.2%" stop-color="#6cb732"/><stop offset="8.3%" stop-color="#6cb831"/><stop offset="12.5%" stop-color="#6cb830"/><stop offset="16.7%" stop-color="#6cb830"/><stop offset="20.8%" stop-color="#6cb72f"/><stop offset="25%" stop-color="#6cb72f"/><stop offset="29.2%" stop-color="#6cb72e"/><stop offset="33.3%" stop-color="#6cb72e"/><stop offset="37.5%" stop-color="#6cb72d"/><stop offset="41.7%" stop-color="#6cb82d"/><stop offset="45.8%" stop-color="#6cb82d"/><stop offset="50%" stop-color="#6db82d"/><stop offset="54.2%" stop-color="#6db92d"/><stop offset="58.3%" stop-color="#6eb92d"/><stop offset="62.5%" stop-color="#70ba2d"/><stop offset="66.7%" stop-color="#74bb2e"/><stop offset="70.8%" stop-color="#78bc2e"/><stop offset="75%" stop-color="#7fbd2e"/><stop offset="79.2%" stop-color="#86bf2e"/><stop offset="83.3%" stop-color="#90c22d"/><stop offset="87.5%" stop-color="#9cc62d"/><stop offset="91.7%" stop-color="#abcb2d"/><stop offset="95.8%" stop-color="#b6cf2c"/><stop offset="100%" stop-color="#bed02b"/></linearGradient><linearGradient id="g42" gradientUnits="userSpaceOnUse" x1="249.5" x2="512.2" y1="0" y2="0"><stop offset="0%" stop-color="#6bb839"/><stop offset="4.2%" stop-color="#6bb835"/><stop offset="8.3%" stop-color="#6cb833"/><stop offset="12.5%" stop-color="#6cb832"/><stop offset="16.7%" stop-color="#6cb831"/><stop offset="20.8%" stop-color="#6cb830"/><stop offset="25%" stop-color="#6cb82f"/><stop offset="29.2%" stop-color="#6cb82f"/><stop offset="33.3%" stop-color="#6cb82e"/><stop offset="37.5%" stop-color="#6cb82d"/><stop offset="41.7%" stop-color="#6cb82d"/><stop offset="45.8%" stop-color="#6cb82d"/><stop offset="50%" stop-color="#6db92d"/><stop offset="54.2%" stop-color="#6eb92d"/><stop offset="58.3%" stop-color="#6fba2d"/><stop offset="62.5%" stop-color="#72ba2e"/><stop offset="66.7%" stop-color="#76bb2e"/><stop offset="70.8%" stop-color="#7bbc2e"/><stop offset="75%" stop-color="#81be2e"/><stop offset="79.2%" stop-color="#8ac02e"/><stop offset="83.3%" stop-color="#95c32d"/><stop offset="87.5%" stop-color="#a2c82d"/><stop offset="91.7%" stop-color="#b1cd2d"/><stop offset="95.8%" stop-color="#bbd02c"/><stop offset="100%" stop-color="#c3d12b"/></linearGradient><linearGradient id="g43" gradientUnits="userSpaceOnUse" x1="249.8" x2="516.1" y1="0" y2="0"><stop offset="0%" stop-color="#6ab83d"/><stop offset="4%" stop-color="#6bb838"/><stop offset="8%" stop-color="#6cb836"/><stop offset="12%" stop-color="#6cb834"/><stop offset="16%" stop-color="#6cb832"/><stop offset="20%" stop-color="#6cb831"/><stop offset="24%" stop-color="#6cb830"/><stop offset="28%" stop-color="#6cb82f"/><stop offset="32%" stop-color="#6cb82f"/><stop offset="36%" stop-color="#6cb82e"/><stop offset="40%" stop-color="#6cb82d"/><stop offset="44%" stop-color="#6db82d"/><stop offset="48%" stop-color="#6db92d"/><stop offset="52%" stop-color="#6eb92d"/><stop offset="56%" stop-color="#6fba2e"/><stop offset="60%" stop-color="#71ba2e"/><stop offset="64%" stop-color="#75bb2e"/><stop offset="68%" stop-color="#79bc2e"/><stop offset="72%" stop-color="#7fbe2e"/><stop offset="76%" stop-color="#87c02e"/><stop offset="80%" stop-color="#91c22e"/><stop offset="84%" stop-color="#9dc62d"/><stop offset="88%" stop-color="#aacb2d"/><stop offset="92%" stop-color="#b7d02d"/><stop offset="96%" stop-color="#c1d22c"/><stop offset="100%" stop-color="#c9d22b"/></linearGradient><linearGradient id="g44" gradientUnits="userSpaceOnUse" x1="250.1" x2="520" y1="0" y2="0"><stop offset="0%" stop-color="#6ab940"/><stop offset="4%" stop-color="#6bb93c"/><stop offset="8%" stop-color="#6cb839"/><stop offset="12%" stop-color="#6cb836"/><stop offset="16%" stop-color="#6cb834"/><stop offset="20%" stop-color="#6cb833"/><stop offset="24%" stop-color="#6cb831"/><stop offset="28%" stop-color="#6cb830"/><stop offset="32%" stop-color="#6cb82f"/><stop offset="36%" stop-color="#6db82e"/><stop offset="40%" stop-color="#6db82e"/><stop offset="44%" stop-color="#6db92d"/><stop offset="48%" stop-color="#6eb92e"/><stop offset="52%" stop-color="#6fba2e"/><stop offset="56%" stop-color="#70ba2e"/><stop offset="60%" stop-color="#73bb2e"/><stop offset="64%" stop-color="#76bc2f"/><stop offset="68%" stop-color="#7bbd2f"/><stop offset="72%" stop-color="#82be2f"/><stop offset="76%" stop-color="#8bc12e"/><stop offset="80%" stop-color="#96c42e"/><stop offset="84%" stop-color="#a3c92e"/><stop offset="88%" stop-color="#b1ce2d"/><stop offset="92%" stop-color="#bdd22d"/><stop offset="96%" stop-color="#c6d42c"/><stop offset="100%" stop-color="#ced42b"/></linearGradient><linearGradient id="g45" gradientUnits="userSpaceOnUse" x1="250.4" x2="523.9" y1="0" y2="0"><stop offset="0%" stop-color="#6ab945"/><stop offset="4%" stop-color="#6bb940"/><stop offset="8%" stop-color="#6bb93c"/><stop offset="12%" stop-color="#6cb939"/><stop offset="16%" stop-color="#6cb936"/><stop offset="20%" stop-color="#6cb934"/><stop offset="24%" stop-color="#6db832"/><stop offset="28%" stop-color="#6db831"/><stop offset="32%" stop-color="#6db82f"/><stop offset="36%" stop-color="#6db82f"/><stop offset="40%" stop-color="#6db92e"/><stop offset="44%" stop-color="#6eb92e"/><stop offset="48%" stop-color="#6fba2e"/><stop offset="52%" stop-color="#70ba2e"/><stop offset="56%" stop-color="#72bb2e"/><stop offset="60%" stop-color="#74bc2f"/><stop offset="64%" stop-color="#78bc2f"/><stop offset="68%" stop-color="#7ebe2f"/><stop offset="72%" stop-color="#85bf2f"/><stop offset="76%" stop-color="#8fc22f"/><stop offset="80%" stop-color="#9bc62e"/><stop offset="84%" stop-color="#a9cb2e"/><stop offset="88%" stop-color="#b7d02e"/><stop offset="92%" stop-color="#c3d42d"/><stop offset="96%" stop-color="#ccd52c"/><stop offset="100%" stop-color="#d4d52b"/></linearGradient><linearGradient id="g46" gradientUnits="userSpaceOnUse" x1="250.7" x2="527.8" y1="0" y2="0"><stop offset="0%" stop-color="#6aba49"/><stop offset="3.8%" stop-color="#6bb944"/><stop offset="7.7%" stop-color="#6bb940"/><stop offset="11.5%" stop-color="#6cb93c"/><stop offset="15.4%" stop-color="#6cb938"/><stop offset="19.2%" stop-color="#6db936"/><stop offset="23.1%" stop-color="#6db934"/><stop offset="26.9%" stop-color="#6db932"/><stop offset="30.8%" stop-color="#6db930"/><stop offset="34.6%" stop-color="#6db92f"/><stop offset="38.5%" stop-color="#6eb92e"/><stop offset="42.3%" stop-color="#6eb92e"/><stop offset="46.2%" stop-color="#6fba2e"/><stop offset="50%" stop-color="#70ba2e"/><stop offset="53.8%" stop-color="#72bb2f"/><stop offset="57.7%" stop-color="#74bc2f"/><stop offset="61.5%" stop-color="#78bd30"/><stop offset="65.4%" stop-color="#7cbe30"/><stop offset="69.2%" stop-color="#83bf30"/><stop offset="73.1%" stop-color="#8bc12f"/><stop offset="76.9%" stop-color="#97c52f"/><stop offset="80.8%" stop-color="#a4c92e"/><stop offset="84.6%" stop-color="#b2cf2e"/><stop offset="88.5%" stop-color="#bfd42e"/><stop offset="92.3%" stop-color="#cad62d"/><stop offset="96.2%" stop-color="#d2d72c"/><stop offset="100%" stop-color="#d9d52b"/></linearGradient><linearGradient id="g47" gradientUnits="userSpaceOnUse" x1="251.1" x2="531.7" y1="0" y2="0"><stop offset="0%" stop-color="#6aba4e"/><stop offset="3.8%" stop-color="#6bba48"/><stop offset="7.7%" stop-color="#6cba45"/><stop offset="11.5%" stop-color="#6cba3f"/><stop offset="15.4%" stop-color="#6cb93b"/><stop offset="19.2%" stop-color="#6db938"/><stop offset="23.1%" stop-color="#6db935"/><stop offset="26.9%" stop-color="#6db933"/><stop offset="30.8%" stop-color="#6db931"/><stop offset="34.6%" stop-color="#6eb930"/><stop offset="38.5%" stop-color="#6eb92f"/><stop offset="42.3%" stop-color="#6fba2e"/><stop offset="46.2%" stop-color="#70ba2f"/><stop offset="50%" stop-color="#71bb2f"/><stop offset="53.8%" stop-color="#73bc2f"/><stop offset="57.7%" stop-color="#76bc30"/><stop offset="61.5%" stop-color="#7abd31"/><stop offset="65.4%" stop-color="#7fbe31"/><stop offset="69.2%" stop-color="#86c031"/><stop offset="73.1%" stop-color="#90c330"/><stop offset="76.9%" stop-color="#9cc72f"/><stop offset="80.8%" stop-color="#aacc2f"/><stop offset="84.6%" stop-color="#b9d22f"/><stop offset="88.5%" stop-color="#c6d62e"/><stop offset="92.3%" stop-color="#d0d82d"/><stop offset="96.2%" stop-color="#d8d82c"/><stop offset="100%" stop-color="#ded52b"/></linearGradient><linearGradient id="g48" gradientUnits="userSpaceOnUse" x1="251.5" x2="535.6" y1="0" y2="0"><stop offset="0%" stop-color="#6abb53"/><stop offset="3.8%" stop-color="#6bbb4e"/><stop offset="7.7%" stop-color="#6cbb49"/><stop offset="11.5%" stop-color="#6cba43"/><stop offset="15.4%" stop-color="#6dba3e"/><stop offset="19.2%" stop-color="#6dba3a"/><stop offset="23.1%" stop-color="#6eba36"/><stop offset="26.9%" stop-color="#6eb934"/><stop offset="30.8%" stop-color="#6eb931"/><stop offset="34.6%" stop-color="#6eb930"/><stop offset="38.5%" stop-color="#6fba2f"/><stop offset="42.3%" stop-color="#70ba2f"/><stop offset="46.2%" stop-color="#71bb2f"/><stop offset="50%" stop-color="#73bc30"/><stop offset="53.8%" stop-color="#75bc30"/><stop offset="57.7%" stop-color="#78bd31"/><stop offset="61.5%" stop-color="#7cbe32"/><stop offset="65.4%" stop-color="#82bf32"/><stop offset="69.2%" stop-color="#8ac231"/><stop offset="73.1%" stop-color="#96c531"/><stop offset="76.9%" stop-color="#a2c930"/><stop offset="80.8%" stop-color="#b2cf30"/><stop offset="84.6%" stop-color="#c1d530"/><stop offset="88.5%" stop-color="#ced92f"/><stop offset="92.3%" stop-color="#d7da2e"/><stop offset="96.2%" stop-color="#ded92c"/><stop offset="100%" stop-color="#e2d52a"/></linearGradient><linearGradient id="g49" gradientUnits="userSpaceOnUse" x1="251.9" x2="539.4" y1="0" y2="0"><stop offset="0%" stop-color="#6abc59"/><stop offset="3.7%" stop-color="#6bbc54"/><stop offset="7.4%" stop-color="#6cbc4f"/><stop offset="11.1%" stop-color="#6dbb48"/><stop offset="14.8%" stop-color="#6dbb42"/><stop offset="18.5%" stop-color="#6eba3d"/><stop offset="22.2%" stop-color="#6eba39"/><stop offset="25.9%" stop-color="#6eba35"/><stop offset="29.6%" stop-color="#6eb933"/><stop offset="33.3%" stop-color="#6fb931"/><stop offset="37%" stop-color="#6fba30"/><stop offset="40.7%" stop-color="#70ba30"/><stop offset="44.4%" stop-color="#72bb30"/><stop offset="48.1%" stop-color="#73bc30"/><stop offset="51.9%" stop-color="#75bd31"/><stop offset="55.6%" stop-color="#77be32"/><stop offset="59.3%" stop-color="#7bbe33"/><stop offset="63%" stop-color="#81bf33"/><stop offset="66.7%" stop-color="#89c133"/><stop offset="70.4%" stop-color="#93c432"/><stop offset="74.1%" stop-color="#9fc831"/><stop offset="77.8%" stop-color="#accc30"/><stop offset="81.5%" stop-color="#bdd431"/><stop offset="85.2%" stop-color="#ccd930"/><stop offset="88.9%" stop-color="#d7dc2f"/><stop offset="92.6%" stop-color="#dedc2e"/><stop offset="96.3%" stop-color="#e3d92c"/><stop offset="100%" stop-color="#e6d42a"/></linearGradient><linearGradient id="g50" gradientUnits="userSpaceOnUse" x1="252.3" x2="543.3" y1="0" y2="0"><stop offset="0%" stop-color="#6abd5f"/><stop offset="3.7%" stop-color="#6cbd5b"/><stop offset="7.4%" stop-color="#6dbd54"/><stop offset="11.1%" stop-color="#6dbc4c"/><stop offset="14.8%" stop-color="#6ebb45"/><stop offset="18.5%" stop-color="#6ebb3f"/><stop offset="22.2%" stop-color="#6fba3a"/><stop offset="25.9%" stop-color="#6fba36"/><stop offset="29.6%" stop-color="#6fba33"/><stop offset="33.3%" stop-color="#6fba32"/><stop offset="37%" stop-color="#70ba30"/><stop offset="40.7%" stop-color="#71bb30"/><stop offset="44.4%" stop-color="#73bc31"/><stop offset="48.1%" stop-color="#75bd32"/><stop offset="51.9%" stop-color="#77be32"/><stop offset="55.6%" stop-color="#7abe33"/><stop offset="59.3%" stop-color="#7ebf34"/><stop offset="63%" stop-color="#84c035"/><stop offset="66.7%" stop-color="#8dc334"/><stop offset="70.4%" stop-color="#99c733"/><stop offset="74.1%" stop-color="#a6cb32"/><stop offset="77.8%" stop-color="#b5d132"/><stop offset="81.5%" stop-color="#c6d832"/><stop offset="85.2%" stop-color="#d4dd31"/><stop offset="88.9%" stop-color="#dede30"/><stop offset="92.6%" stop-color="#e4dc2e"/><stop offset="96.3%" stop-color="#e7d82c"/><stop offset="100%" stop-color="#e9d22a"/></linearGradient><linearGradient id="g51" gradientUnits="userSpaceOnUse" x1="252.8" x2="547.2" y1="0" y2="0"><stop offset="0%" stop-color="#6abe66"/><stop offset="3.7%" stop-color="#6cbe62"/><stop offset="7.4%" stop-color="#6dbe5a"/><stop offset="11.1%" stop-color="#6ebd51"/><stop offset="14.8%" stop-color="#6ebc48"/><stop offset="18.5%" stop-color="#6fbb41"/><stop offset="22.2%" stop-color="#6fbb3b"/><stop offset="25.9%" stop-color="#70ba37"/><stop offset="29.6%" stop-color="#70ba34"/><stop offset="33.3%" stop-color="#70ba32"/><stop offset="37%" stop-color="#71bb31"/><stop offset="40.7%" stop-color="#73bc31"/><stop offset="44.4%" stop-color="#75bd32"/><stop offset="48.1%" stop-color="#77be33"/><stop offset="51.9%" stop-color="#79bf34"/><stop offset="55.6%" stop-color="#7cbf35"/><stop offset="59.3%" stop-color="#81c036"/><stop offset="63%" stop-color="#88c237"/><stop offset="66.7%" stop-color="#93c535"/><stop offset="70.4%" stop-color="#a0ca34"/><stop offset="74.1%" stop-color="#aece34"/><stop offset="77.8%" stop-color="#bfd534"/><stop offset="81.5%" stop-color="#cfdc33"/><stop offset="85.2%" stop-color="#dde032"/><stop offset="88.9%" stop-color="#e5e030"/><stop offset="92.6%" stop-color="#e9dc2e"/><stop offset="96.3%" stop-color="#ebd62c"/><stop offset="100%" stop-color="#ecd02a"/></linearGradient><linearGradient id="g52" gradientUnits="userSpaceOnUse" x1="253.2" x2="551.1" y1="0" y2="0"><stop offset="0%" stop-color="#6bbf6d"/><stop offset="3.6%" stop-color="#6cbf69"/><stop offset="7.1%" stop-color="#6ebf61"/><stop offset="10.7%" stop-color="#6ebe56"/><stop offset="14.3%" stop-color="#6fbd4c"/><stop offset="17.9%" stop-color="#6fbc44"/><stop offset="21.4%" stop-color="#70bb3e"/><stop offset="25%" stop-color="#70bb39"/><stop offset="28.6%" stop-color="#71bb36"/><stop offset="32.1%" stop-color="#71ba33"/><stop offset="35.7%" stop-color="#71bb32"/><stop offset="39.3%" stop-color="#73bc32"/><stop offset="42.9%" stop-color="#75bd33"/><stop offset="46.4%" stop-color="#78be34"/><stop offset="50%" stop-color="#7abf35"/><stop offset="53.6%" stop-color="#7dc036"/><stop offset="57.1%" stop-color="#81c138"/><stop offset="60.7%" stop-color="#87c239"/><stop offset="64.3%" stop-color="#90c537"/><stop offset="67.9%" stop-color="#9eca36"/><stop offset="71.4%" stop-color="#accf36"/><stop offset="75%" stop-color="#bcd536"/><stop offset="78.6%" stop-color="#cddc36"/><stop offset="82.1%" stop-color="#dbe034"/><stop offset="85.7%" stop-color="#e7e232"/><stop offset="89.3%" stop-color="#eadf30"/><stop offset="92.9%" stop-color="#ecda2e"/><stop offset="96.4%" stop-color="#eed42b"/><stop offset="100%" stop-color="#efcd29"/></linearGradient><linearGradient id="g53" gradientUnits="userSpaceOnUse" x1="253.7" x2="555" y1="0" y2="0"><stop offset="0%" stop-color="#6bc074"/><stop offset="3.6%" stop-color="#6dc171"/><stop offset="7.1%" stop-color="#6ec066"/><stop offset="10.7%" stop-color="#6fbf5a"/><stop offset="14.3%" stop-color="#6fbe4f"/><stop offset="17.9%" stop-color="#70bd46"/><stop offset="21.4%" stop-color="#71bc40"/><stop offset="25%" stop-color="#71bb3b"/><stop offset="28.6%" stop-color="#72bb37"/><stop offset="32.1%" stop-color="#72bb34"/><stop offset="35.7%" stop-color="#73bb33"/><stop offset="39.3%" stop-color="#75bd33"/><stop offset="42.9%" stop-color="#77be34"/><stop offset="46.4%" stop-color="#7abf36"/><stop offset="50%" stop-color="#7cc037"/><stop offset="53.6%" stop-color="#7fc139"/><stop offset="57.1%" stop-color="#84c23a"/><stop offset="60.7%" stop-color="#8ac33b"/><stop offset="64.3%" stop-color="#96c738"/><stop offset="67.9%" stop-color="#a5cd38"/><stop offset="71.4%" stop-color="#b6d338"/><stop offset="75%" stop-color="#c6da39"/><stop offset="78.6%" stop-color="#d6e038"/><stop offset="82.1%" stop-color="#e3e335"/><stop offset="85.7%" stop-color="#ece332"/><stop offset="89.3%" stop-color="#eede30"/><stop offset="92.9%" stop-color="#efd82d"/><stop offset="96.4%" stop-color="#f0d12b"/><stop offset="100%" stop-color="#f1ca29"/></linearGradient><linearGradient id="g54" gradientUnits="userSpaceOnUse" x1="254.2" x2="558.9" y1="0" y2="0"><stop offset="0%" stop-color="#6cc17a"/><stop offset="3.6%" stop-color="#6ec278"/><stop offset="7.1%" stop-color="#6fc16b"/><stop offset="10.7%" stop-color="#70bf5e"/><stop offset="14.3%" stop-color="#70be51"/><stop offset="17.9%" stop-color="#71bd48"/><stop offset="21.4%" stop-color="#72bc42"/><stop offset="25%" stop-color="#73bc3c"/><stop offset="28.6%" stop-color="#73bb38"/><stop offset="32.1%" stop-color="#72bb35"/><stop offset="35.7%" stop-color="#74bc34"/><stop offset="39.3%" stop-color="#77be35"/><stop offset="42.9%" stop-color="#79bf36"/><stop offset="46.4%" stop-color="#7cc038"/><stop offset="50%" stop-color="#7fc139"/><stop offset="53.6%" stop-color="#82c23b"/><stop offset="57.1%" stop-color="#87c33c"/><stop offset="60.7%" stop-color="#8fc53c"/><stop offset="64.3%" stop-color="#9dcb39"/><stop offset="67.9%" stop-color="#aed13a"/><stop offset="71.4%" stop-color="#bfd83b"/><stop offset="75%" stop-color="#d1df3b"/><stop offset="78.6%" stop-color="#dee339"/><stop offset="82.1%" stop-color="#e9e536"/><stop offset="85.7%" stop-color="#efe333"/><stop offset="89.3%" stop-color="#f1dd30"/><stop offset="92.9%" stop-color="#f2d52d"/><stop offset="96.4%" stop-color="#f2ce2b"/><stop offset="100%" stop-color="#f2c628"/></linearGradient><linearGradient id="g55" gradientUnits="userSpaceOnUse" x1="254.7" x2="562.8" y1="0" y2="0"><stop offset="0%" stop-color="#6cc280"/><stop offset="3.4%" stop-color="#6ec37e"/><stop offset="6.9%" stop-color="#70c270"/><stop offset="10.3%" stop-color="#70c063"/><stop offset="13.8%" stop-color="#70bf56"/><stop offset="17.2%" stop-color="#72be4c"/><stop offset="20.7%" stop-color="#73bd45"/><stop offset="24.1%" stop-color="#74bc3f"/><stop offset="27.6%" stop-color="#74bc3a"/><stop offset="31%" stop-color="#74bc37"/><stop offset="34.5%" stop-color="#75bc36"/><stop offset="37.9%" stop-color="#78be36"/><stop offset="41.4%" stop-color="#7bc038"/><stop offset="44.8%" stop-color="#7dc139"/><stop offset="48.3%" stop-color="#80c23b"/><stop offset="51.7%" stop-color="#83c33d"/><stop offset="55.2%" stop-color="#87c43e"/><stop offset="58.6%" stop-color="#8fc63e"/><stop offset="62.1%" stop-color="#9bca3b"/><stop offset="65.5%" stop-color="#acd03c"/><stop offset="69%" stop-color="#bdd83d"/><stop offset="72.4%" stop-color="#cfdf3e"/><stop offset="75.9%" stop-color="#dde43d"/><stop offset="79.3%" stop-color="#e8e63a"/><stop offset="82.8%" stop-color="#efe636"/><stop offset="86.2%" stop-color="#f2e132"/><stop offset="89.7%" stop-color="#f3d92f"/><stop offset="93.1%" stop-color="#f4d12d"/><stop offset="96.6%" stop-color="#f4cb2a"/><stop offset="100%" stop-color="#f3c128"/></linearGradient><linearGradient id="g56" gradientUnits="userSpaceOnUse" x1="255.2" x2="566.7" y1="0" y2="0"><stop offset="0%" stop-color="#6dc284"/><stop offset="3.4%" stop-color="#6fc381"/><stop offset="6.9%" stop-color="#71c274"/><stop offset="10.3%" stop-color="#71c166"/><stop offset="13.8%" stop-color="#71bf59"/><stop offset="17.2%" stop-color="#73be4e"/><stop offset="20.7%" stop-color="#74be47"/><stop offset="24.1%" stop-color="#75bd41"/><stop offset="27.6%" stop-color="#76bd3c"/><stop offset="31%" stop-color="#75bc39"/><stop offset="34.5%" stop-color="#77bd37"/><stop offset="37.9%" stop-color="#7abf39"/><stop offset="41.4%" stop-color="#7dc13a"/><stop offset="44.8%" stop-color="#80c23b"/><stop offset="48.3%" stop-color="#83c33d"/><stop offset="51.7%" stop-color="#85c43f"/><stop offset="55.2%" stop-color="#8bc540"/><stop offset="58.6%" stop-color="#95c940"/><stop offset="62.1%" stop-color="#a3ce3d"/><stop offset="65.5%" stop-color="#b5d43f"/><stop offset="69%" stop-color="#c7dc41"/><stop offset="72.4%" stop-color="#d9e342"/><stop offset="75.9%" stop-color="#e5e73f"/><stop offset="79.3%" stop-color="#ede83b"/><stop offset="82.8%" stop-color="#f3e536"/><stop offset="86.2%" stop-color="#f5de32"/><stop offset="89.7%" stop-color="#f5d52f"/><stop offset="93.1%" stop-color="#f5cd2c"/><stop offset="96.6%" stop-color="#f5c62a"/><stop offset="100%" stop-color="#f4ba27"/></linearGradient><linearGradient id="g57" gradientUnits="userSpaceOnUse" x1="255.7" x2="570.6" y1="0" y2="0"><stop offset="0%" stop-color="#6dc388"/><stop offset="3.4%" stop-color="#70c383"/><stop offset="6.9%" stop-color="#71c377"/><stop offset="10.3%" stop-color="#72c169"/><stop offset="13.8%" stop-color="#73c05c"/><stop offset="17.2%" stop-color="#74bf51"/><stop offset="20.7%" stop-color="#76be49"/><stop offset="24.1%" stop-color="#77be43"/><stop offset="27.6%" stop-color="#77be3e"/><stop offset="31%" stop-color="#77bd3b"/><stop offset="34.5%" stop-color="#7abf3a"/><stop offset="37.9%" stop-color="#7dc13b"/><stop offset="41.4%" stop-color="#80c23c"/><stop offset="44.8%" stop-color="#82c43e"/><stop offset="48.3%" stop-color="#85c540"/><stop offset="51.7%" stop-color="#88c542"/><stop offset="55.2%" stop-color="#8fc743"/><stop offset="58.6%" stop-color="#9ccc43"/><stop offset="62.1%" stop-color="#acd242"/><stop offset="65.5%" stop-color="#bfd943"/><stop offset="69%" stop-color="#d1e145"/><stop offset="72.4%" stop-color="#e2e745"/><stop offset="75.9%" stop-color="#ebe941"/><stop offset="79.3%" stop-color="#f1e83b"/><stop offset="82.8%" stop-color="#f5e436"/><stop offset="86.2%" stop-color="#f6da32"/><stop offset="89.7%" stop-color="#f7d02e"/><stop offset="93.1%" stop-color="#f7c82c"/><stop offset="96.6%" stop-color="#f6bf29"/><stop offset="100%" stop-color="#f4b326"/></linearGradient><linearGradient id="g58" gradientUnits="userSpaceOnUse" x1="256.2" x2="574.5" y1="0" y2="0"><stop offset="0%" stop-color="#6dc38c"/><stop offset="3.4%" stop-color="#71c486"/><stop offset="6.9%" stop-color="#72c37b"/><stop offset="10.3%" stop-color="#73c26d"/><stop offset="13.8%" stop-color="#74c05f"/><stop offset="17.2%" stop-color="#76bf54"/><stop offset="20.7%" stop-color="#77bf4c"/><stop offset="24.1%" stop-color="#79be45"/><stop offset="27.6%" stop-color="#7abf41"/><stop offset="31%" stop-color="#7abf3e"/><stop offset="34.5%" stop-color="#7dc13d"/><stop offset="37.9%" stop-color="#80c23e"/><stop offset="41.4%" stop-color="#83c43f"/><stop offset="44.8%" stop-color="#85c540"/><stop offset="48.3%" stop-color="#88c643"/><stop offset="51.7%" stop-color="#89c645"/><stop offset="55.2%" stop-color="#94ca46"/><stop offset="58.6%" stop-color="#a4d047"/><stop offset="62.1%" stop-color="#b6d546"/><stop offset="65.5%" stop-color="#c8dd48"/><stop offset="69%" stop-color="#dae549"/><stop offset="72.4%" stop-color="#e8ea47"/><stop offset="75.9%" stop-color="#f0e941"/><stop offset="79.3%" stop-color="#f5e73b"/><stop offset="82.8%" stop-color="#f7e035"/><stop offset="86.2%" stop-color="#f7d431"/><stop offset="89.7%" stop-color="#f7c92e"/><stop offset="93.1%" stop-color="#f7c12b"/><stop offset="96.6%" stop-color="#f6b728"/><stop offset="100%" stop-color="#f4ac25"/></linearGradient><linearGradient id="g59" gradientUnits="userSpaceOnUse" x1="256.8" x2="578.4" y1="0" y2="0"><stop offset="0%" stop-color="#6ec490"/><stop offset="3.3%" stop-color="#72c48a"/><stop offset="6.7%" stop-color="#73c480"/><stop offset="10%" stop-color="#73c372"/><stop offset="13.3%" stop-color="#75c164"/><stop offset="16.7%" stop-color="#77c058"/><stop offset="20%" stop-color="#79c050"/><stop offset="23.3%" stop-color="#7bbf49"/><stop offset="26.7%" stop-color="#7cc045"/><stop offset="30%" stop-color="#7dc042"/><stop offset="33.3%" stop-color="#80c241"/><stop offset="36.7%" stop-color="#83c341"/><stop offset="40%" stop-color="#85c541"/><stop offset="43.3%" stop-color="#86c542"/><stop offset="46.7%" stop-color="#88c644"/><stop offset="50%" stop-color="#88c647"/><stop offset="53.3%" stop-color="#92c949"/><stop offset="56.7%" stop-color="#a2d04b"/><stop offset="60%" stop-color="#b4d64c"/><stop offset="63.3%" stop-color="#c6dd4c"/><stop offset="66.7%" stop-color="#d7e54e"/><stop offset="70%" stop-color="#e6ea4c"/><stop offset="73.3%" stop-color="#efea47"/><stop offset="76.7%" stop-color="#f4e740"/><stop offset="80%" stop-color="#f7e339"/><stop offset="83.3%" stop-color="#f8d833"/><stop offset="86.7%" stop-color="#f8cb2f"/><stop offset="90%" stop-color="#f8c12d"/><stop offset="93.3%" stop-color="#f7b829"/><stop offset="96.7%" stop-color="#f5ae27"/><stop offset="100%" stop-color="#f4a424"/></linearGradient><linearGradient id="g60" gradientUnits="userSpaceOnUse" x1="257.3" x2="582.3" y1="0" y2="0"><stop offset="0%" stop-color="#6dc494"/><stop offset="3.3%" stop-color="#72c58d"/><stop offset="6.7%" stop-color="#73c584"/><stop offset="10%" stop-color="#74c376"/><stop offset="13.3%" stop-color="#76c267"/><stop offset="16.7%" stop-color="#78c15c"/><stop offset="20%" stop-color="#7bc054"/><stop offset="23.3%" stop-color="#7dc04c"/><stop offset="26.7%" stop-color="#7fc149"/><stop offset="30%" stop-color="#81c246"/><stop offset="33.3%" stop-color="#83c445"/><stop offset="36.7%" stop-color="#86c544"/><stop offset="40%" stop-color="#88c644"/><stop offset="43.3%" stop-color="#88c644"/><stop offset="46.7%" stop-color="#88c646"/><stop offset="50%" stop-color="#87c54a"/><stop offset="53.3%" stop-color="#98cc4d"/><stop offset="56.7%" stop-color="#abd450"/><stop offset="60%" stop-color="#bedb52"/><stop offset="63.3%" stop-color="#d0e252"/><stop offset="66.7%" stop-color="#dfe952"/><stop offset="70%" stop-color="#ecec4e"/><stop offset="73.3%" stop-color="#f3e947"/><stop offset="76.7%" stop-color="#f7e43f"/><stop offset="80%" stop-color="#f9dd38"/><stop offset="83.3%" stop-color="#f9d032"/><stop offset="86.7%" stop-color="#f8c22e"/><stop offset="90%" stop-color="#f7b82b"/><stop offset="93.3%" stop-color="#f6af28"/><stop offset="96.7%" stop-color="#f5a626"/><stop offset="100%" stop-color="#f49b23"/></linearGradient><linearGradient id="g61" gradientUnits="userSpaceOnUse" x1="257.9" x2="586.2" y1="0" y2="0"><stop offset="0%" stop-color="#6dc599"/><stop offset="3.3%" stop-color="#71c693"/><stop offset="6.7%" stop-color="#72c58a"/><stop offset="10%" stop-color="#74c47b"/><stop offset="13.3%" stop-color="#77c26b"/><stop offset="16.7%" stop-color="#7ac161"/><stop offset="20%" stop-color="#7dc158"/><stop offset="23.3%" stop-color="#7fc251"/><stop offset="26.7%" stop-color="#82c34e"/><stop offset="30%" stop-color="#85c44b"/><stop offset="33.3%" stop-color="#87c649"/><stop offset="36.7%" stop-color="#89c747"/><stop offset="40%" stop-color="#8bc747"/><stop offset="43.3%" stop-color="#89c746"/><stop offset="46.7%" stop-color="#88c748"/><stop offset="50%" stop-color="#8cc74c"/><stop offset="53.3%" stop-color="#a0d051"/><stop offset="56.7%" stop-color="#b5d856"/><stop offset="60%" stop-color="#c8e058"/><stop offset="63.3%" stop-color="#d8e758"/><stop offset="66.7%" stop-color="#e7ec56"/><stop offset="70%" stop-color="#f1ec50"/><stop offset="73.3%" stop-color="#f6e746"/><stop offset="76.7%" stop-color="#f8df3d"/><stop offset="80%" stop-color="#f9d536"/><stop offset="83.3%" stop-color="#f9c630"/><stop offset="86.7%" stop-color="#f8b82d"/><stop offset="90%" stop-color="#f7ae29"/><stop offset="93.3%" stop-color="#f6a627"/><stop offset="96.7%" stop-color="#f59d25"/><stop offset="100%" stop-color="#f49222"/></linearGradient><linearGradient id="g62" gradientUnits="userSpaceOnUse" x1="258.5" x2="590.1" y1="0" y2="0"><stop offset="0%" stop-color="#6dc59d"/><stop offset="3.2%" stop-color="#6fc69a"/><stop offset="6.5%" stop-color="#72c690"/><stop offset="9.7%" stop-color="#74c581"/><stop offset="12.9%" stop-color="#77c372"/><stop offset="16.1%" stop-color="#7ac267"/><stop offset="19.4%" stop-color="#7ec25e"/><stop offset="22.6%" stop-color="#81c357"/><stop offset="25.8%" stop-color="#84c453"/><stop offset="29%" stop-color="#87c651"/><stop offset="32.3%" stop-color="#8ac74e"/><stop offset="35.5%" stop-color="#8cc84b"/><stop offset="38.7%" stop-color="#8dc94a"/><stop offset="41.9%" stop-color="#8bc848"/><stop offset="45.2%" stop-color="#8ac748"/><stop offset="48.4%" stop-color="#8dc84c"/><stop offset="51.6%" stop-color="#9ed053"/><stop offset="54.8%" stop-color="#b3d85a"/><stop offset="58.1%" stop-color="#c7e05f"/><stop offset="61.3%" stop-color="#d7e75f"/><stop offset="64.5%" stop-color="#e5ec5c"/><stop offset="67.7%" stop-color="#f0ee57"/><stop offset="71%" stop-color="#f6e84d"/><stop offset="74.2%" stop-color="#f8df42"/><stop offset="77.4%" stop-color="#f9d639"/><stop offset="80.6%" stop-color="#f9c833"/><stop offset="83.9%" stop-color="#f8b92e"/><stop offset="87.1%" stop-color="#f7ac2a"/><stop offset="90.3%" stop-color="#f6a328"/><stop offset="93.5%" stop-color="#f59c26"/><stop offset="96.8%" stop-color="#f49223"/><stop offset="100%" stop-color="#f38821"/></linearGradient><linearGradient id="g63" gradientUnits="userSpaceOnUse" x1="259" x2="594" y1="0" y2="0"><stop offset="0%" stop-color="#6cc6a2"/><stop offset="3.2%" stop-color="#6ec7a0"/><stop offset="6.5%" stop-color="#71c795"/><stop offset="9.7%" stop-color="#75c586"/><stop offset="12.9%" stop-color="#78c377"/><stop offset="16.1%" stop-color="#7cc36c"/><stop offset="19.4%" stop-color="#80c364"/><stop offset="22.6%" stop-color="#84c45d"/><stop offset="25.8%" stop-color="#88c659"/><stop offset="29%" stop-color="#8bc756"/><stop offset="32.3%" stop-color="#8ec952"/><stop offset="35.5%" stop-color="#8fca4f"/><stop offset="38.7%" stop-color="#8eca4d"/><stop offset="41.9%" stop-color="#8dc94a"/><stop offset="45.2%" stop-color="#8cc949"/><stop offset="48.4%" stop-color="#94cc4f"/><stop offset="51.6%" stop-color="#a8d459"/><stop offset="54.8%" stop-color="#bedd62"/><stop offset="58.1%" stop-color="#d1e566"/><stop offset="61.3%" stop-color="#e0eb64"/><stop offset="64.5%" stop-color="#ebee5f"/><stop offset="67.7%" stop-color="#f5ed58"/><stop offset="71%" stop-color="#f7e24a"/><stop offset="74.2%" stop-color="#f8d83f"/><stop offset="77.4%" stop-color="#f9cd37"/><stop offset="80.6%" stop-color="#f8bd31"/><stop offset="83.9%" stop-color="#f7ad2c"/><stop offset="87.1%" stop-color="#f6a129"/><stop offset="90.3%" stop-color="#f59826"/><stop offset="93.5%" stop-color="#f49025"/><stop offset="96.8%" stop-color="#f48822"/><stop offset="100%" stop-color="#f37e20"/></linearGradient><linearGradient id="g64" gradientUnits="userSpaceOnUse" x1="259.6" x2="597.9" y1="0" y2="0"><stop offset="0%" stop-color="#6bc6a7"/><stop offset="3.2%" stop-color="#6ec8a5"/><stop offset="6.5%" stop-color="#71c79a"/><stop offset="9.7%" stop-color="#75c68c"/><stop offset="12.9%" stop-color="#79c47c"/><stop offset="16.1%" stop-color="#7dc473"/><stop offset="19.4%" stop-color="#82c56a"/><stop offset="22.6%" stop-color="#87c663"/><stop offset="25.8%" stop-color="#8bc760"/><stop offset="29%" stop-color="#8fc95c"/><stop offset="32.3%" stop-color="#92cb57"/><stop offset="35.5%" stop-color="#92cb54"/><stop offset="38.7%" stop-color="#90cb50"/><stop offset="41.9%" stop-color="#8eca4c"/><stop offset="45.2%" stop-color="#90ca4b"/><stop offset="48.4%" stop-color="#9cd053"/><stop offset="51.6%" stop-color="#b2d960"/><stop offset="54.8%" stop-color="#c9e26a"/><stop offset="58.1%" stop-color="#dbea6c"/><stop offset="61.3%" stop-color="#e7ed69"/><stop offset="64.5%" stop-color="#f1ed61"/><stop offset="67.7%" stop-color="#f7e655"/><stop offset="71%" stop-color="#f8da47"/><stop offset="74.2%" stop-color="#f9d03c"/><stop offset="77.4%" stop-color="#f8c334"/><stop offset="80.6%" stop-color="#f7b12e"/><stop offset="83.9%" stop-color="#f6a02a"/><stop offset="87.1%" stop-color="#f59527"/><stop offset="90.3%" stop-color="#f48c25"/><stop offset="93.5%" stop-color="#f48423"/><stop offset="96.8%" stop-color="#f37c21"/><stop offset="100%" stop-color="#f3751f"/></linearGradient><linearGradient id="g65" gradientUnits="userSpaceOnUse" x1="260.2" x2="601.8" y1="0" y2="0"><stop offset="0%" stop-color="#6ac7ac"/><stop offset="3.1%" stop-color="#6dc8a9"/><stop offset="6.3%" stop-color="#71c8a1"/><stop offset="9.4%" stop-color="#75c793"/><stop offset="12.5%" stop-color="#79c583"/><stop offset="15.6%" stop-color="#7dc57b"/><stop offset="18.8%" stop-color="#83c672"/><stop offset="21.9%" stop-color="#88c76b"/><stop offset="25%" stop-color="#8dc968"/><stop offset="28.1%" stop-color="#91cb64"/><stop offset="31.3%" stop-color="#95cd5e"/><stop offset="34.4%" stop-color="#94cd5a"/><stop offset="37.5%" stop-color="#92cc55"/><stop offset="40.6%" stop-color="#90cb50"/><stop offset="43.8%" stop-color="#91cb4c"/><stop offset="46.9%" stop-color="#9cd052"/><stop offset="50%" stop-color="#b1d961"/><stop offset="53.1%" stop-color="#c9e36e"/><stop offset="56.2%" stop-color="#dceb74"/><stop offset="59.4%" stop-color="#e8ee70"/><stop offset="62.5%" stop-color="#f0ed68"/><stop offset="65.6%" stop-color="#f6e65b"/><stop offset="68.8%" stop-color="#f8d94c"/><stop offset="71.9%" stop-color="#f8cd3f"/><stop offset="75%" stop-color="#f8c336"/><stop offset="78.1%" stop-color="#f7b230"/><stop offset="81.2%" stop-color="#f6a12b"/><stop offset="84.4%" stop-color="#f59227"/><stop offset="87.5%" stop-color="#f48826"/><stop offset="90.6%" stop-color="#f37f24"/><stop offset="93.7%" stop-color="#f37721"/><stop offset="96.9%" stop-color="#f36f1f"/><stop offset="100%" stop-color="#f26e1e"/></linearGradient><linearGradient id="g66" gradientUnits="userSpaceOnUse" x1="260.8" x2="605.7" y1="0" y2="0"><stop offset="0%" stop-color="#6ac7b1"/><stop offset="3.1%" stop-color="#6dc9af"/><stop offset="6.3%" stop-color="#71c9a6"/><stop offset="9.4%" stop-color="#75c799"/><stop offset="12.5%" stop-color="#79c68c"/><stop offset="15.6%" stop-color="#7fc682"/><stop offset="18.8%" stop-color="#84c77a"/><stop offset="21.9%" stop-color="#8bc873"/><stop offset="25%" stop-color="#90cb70"/><stop offset="28.1%" stop-color="#95cd6b"/><stop offset="31.3%" stop-color="#98ce65"/><stop offset="34.4%" stop-color="#97ce60"/><stop offset="37.5%" stop-color="#94cd59"/><stop offset="40.6%" stop-color="#93cc53"/><stop offset="43.8%" stop-color="#95cd4f"/><stop offset="46.9%" stop-color="#a4d459"/><stop offset="50%" stop-color="#bbde6a"/><stop offset="53.1%" stop-color="#d5e878"/><stop offset="56.2%" stop-color="#e6ee7b"/><stop offset="59.4%" stop-color="#edf074"/><stop offset="62.5%" stop-color="#f3ea67"/><stop offset="65.6%" stop-color="#f7dd57"/><stop offset="68.8%" stop-color="#f8ce46"/><stop offset="71.9%" stop-color="#f8c13a"/><stop offset="75%" stop-color="#f7b533"/><stop offset="78.1%" stop-color="#f7a42d"/><stop offset="81.3%" stop-color="#f59429"/><stop offset="84.4%" stop-color="#f48726"/><stop offset="87.5%" stop-color="#f37d24"/><stop offset="90.6%" stop-color="#f37322"/><stop offset="93.7%" stop-color="#f26c20"/><stop offset="96.9%" stop-color="#f2671e"/><stop offset="100%" stop-color="#f2681e"/></linearGradient><linearGradient id="g67" gradientUnits="userSpaceOnUse" x1="261.4" x2="609.7" y1="0" y2="0"><stop offset="0%" stop-color="#6ac7b5"/><stop offset="3.1%" stop-color="#6dc9b4"/><stop offset="6.3%" stop-color="#72caac"/><stop offset="9.4%" stop-color="#76c8a0"/><stop offset="12.5%" stop-color="#7ac794"/><stop offset="15.6%" stop-color="#80c88a"/><stop offset="18.8%" stop-color="#86c882"/><stop offset="21.9%" stop-color="#8dca7c"/><stop offset="25%" stop-color="#93cd78"/><stop offset="28.1%" stop-color="#98cf74"/><stop offset="31.2%" stop-color="#9ad06d"/><stop offset="34.4%" stop-color="#99d066"/><stop offset="37.5%" stop-color="#96ce5e"/><stop offset="40.6%" stop-color="#96ce57"/><stop offset="43.8%" stop-color="#9bd055"/><stop offset="46.9%" stop-color="#add862"/><stop offset="50%" stop-color="#c6e374"/><stop offset="53.1%" stop-color="#e2ed82"/><stop offset="56.2%" stop-color="#edf180"/><stop offset="59.4%" stop-color="#f2ef76"/><stop offset="62.5%" stop-color="#f6e364"/><stop offset="65.6%" stop-color="#f8d150"/><stop offset="68.8%" stop-color="#f8c140"/><stop offset="71.9%" stop-color="#f7b436"/><stop offset="75%" stop-color="#f7a72f"/><stop offset="78.1%" stop-color="#f6972a"/><stop offset="81.2%" stop-color="#f48827"/><stop offset="84.4%" stop-color="#f37d25"/><stop offset="87.5%" stop-color="#f27123"/><stop offset="90.6%" stop-color="#f26a21"/><stop offset="93.7%" stop-color="#f2631f"/><stop offset="96.9%" stop-color="#f2631e"/><stop offset="100%" stop-color="#f2641e"/></linearGradient><linearGradient id="g68" gradientUnits="userSpaceOnUse" x1="262.1" x2="613.6" y1="0" y2="0"><stop offset="0%" stop-color="#69c7ba"/><stop offset="3.1%" stop-color="#6dcaba"/><stop offset="6.3%" stop-color="#72cab2"/><stop offset="9.4%" stop-color="#76c9a7"/><stop offset="12.5%" stop-color="#7ac89c"/><stop offset="15.6%" stop-color="#81c992"/><stop offset="18.7%" stop-color="#88ca8a"/><stop offset="21.9%" stop-color="#8fcc85"/><stop offset="25%" stop-color="#96cf81"/><stop offset="28.1%" stop-color="#9bd17c"/><stop offset="31.2%" stop-color="#9dd275"/><stop offset="34.4%" stop-color="#9bd16d"/><stop offset="37.5%" stop-color="#98d063"/><stop offset="40.6%" stop-color="#9ad05d"/><stop offset="43.8%" stop-color="#a4d45f"/><stop offset="46.9%" stop-color="#b6dc6c"/><stop offset="50%" stop-color="#d2e87e"/><stop offset="53.1%" stop-color="#edf18c"/><stop offset="56.3%" stop-color="#f2f282"/><stop offset="59.4%" stop-color="#f4ec76"/><stop offset="62.5%" stop-color="#f7d85e"/><stop offset="65.6%" stop-color="#f8c348"/><stop offset="68.8%" stop-color="#f7b339"/><stop offset="71.9%" stop-color="#f6a631"/><stop offset="75%" stop-color="#f6992c"/><stop offset="78.1%" stop-color="#f58a28"/><stop offset="81.2%" stop-color="#f37d25"/><stop offset="84.4%" stop-color="#f27323"/><stop offset="87.5%" stop-color="#f26822"/><stop offset="90.6%" stop-color="#f26220"/><stop offset="93.8%" stop-color="#f25e1e"/><stop offset="96.9%" stop-color="#f2601e"/><stop offset="100%" stop-color="#f25f1d"/></linearGradient><linearGradient id="g69" gradientUnits="userSpaceOnUse" x1="262.7" x2="617.5" y1="0" y2="0"><stop offset="0%" stop-color="#69c7be"/><stop offset="3%" stop-color="#6dcabf"/><stop offset="6.1%" stop-color="#72cbb8"/><stop offset="9.1%" stop-color="#76caae"/><stop offset="12.1%" stop-color="#7ac9a5"/><stop offset="15.2%" stop-color="#81ca9c"/><stop offset="18.2%" stop-color="#88cb94"/><stop offset="21.2%" stop-color="#90cd8f"/><stop offset="24.2%" stop-color="#98d08c"/><stop offset="27.3%" stop-color="#9ed287"/><stop offset="30.3%" stop-color="#a0d481"/><stop offset="33.3%" stop-color="#9fd378"/><stop offset="36.4%" stop-color="#9cd26c"/><stop offset="39.4%" stop-color="#9dd266"/><stop offset="42.4%" stop-color="#a6d567"/><stop offset="45.5%" stop-color="#b6dc70"/><stop offset="48.5%" stop-color="#cce67f"/><stop offset="51.5%" stop-color="#edf392"/><stop offset="54.5%" stop-color="#f4f28a"/><stop offset="57.6%" stop-color="#f6f07e"/><stop offset="60.6%" stop-color="#f6d964"/><stop offset="63.6%" stop-color="#f7be4b"/><stop offset="66.7%" stop-color="#f7ae3a"/><stop offset="69.7%" stop-color="#f6a131"/><stop offset="72.7%" stop-color="#f5952c"/><stop offset="75.8%" stop-color="#f48829"/><stop offset="78.8%" stop-color="#f37c26"/><stop offset="81.8%" stop-color="#f27124"/><stop offset="84.8%" stop-color="#f26822"/><stop offset="87.9%" stop-color="#f16021"/><stop offset="90.9%" stop-color="#f15c1f"/><stop offset="93.9%" stop-color="#f15b1e"/><stop offset="97%" stop-color="#f25c1e"/><stop offset="100%" stop-color="#f15a1d"/></linearGradient><linearGradient id="g70" gradientUnits="userSpaceOnUse" x1="263.3" x2="621.4" y1="0" y2="0"><stop offset="0%" stop-color="#69c7c2"/><stop offset="3%" stop-color="#6ecac3"/><stop offset="6.1%" stop-color="#73cbbd"/><stop offset="9.1%" stop-color="#76cab5"/><stop offset="12.1%" stop-color="#7bcaac"/><stop offset="15.2%" stop-color="#81cba4"/><stop offset="18.2%" stop-color="#89cd9d"/><stop offset="21.2%" stop-color="#92cf99"/><stop offset="24.2%" stop-color="#9bd295"/><stop offset="27.3%" stop-color="#a1d591"/><stop offset="30.3%" stop-color="#a3d68a"/><stop offset="33.3%" stop-color="#a2d580"/><stop offset="36.4%" stop-color="#9fd373"/><stop offset="39.4%" stop-color="#a3d46f"/><stop offset="42.4%" stop-color="#afd972"/><stop offset="45.5%" stop-color="#bfe17b"/><stop offset="48.5%" stop-color="#d5ea8b"/><stop offset="51.5%" stop-color="#f1f396"/><stop offset="54.5%" stop-color="#f7f088"/><stop offset="57.6%" stop-color="#f7e875"/><stop offset="60.6%" stop-color="#f6c959"/><stop offset="63.6%" stop-color="#f6ae40"/><stop offset="66.7%" stop-color="#f59f33"/><stop offset="69.7%" stop-color="#f5932c"/><stop offset="72.7%" stop-color="#f48729"/><stop offset="75.8%" stop-color="#f37c27"/><stop offset="78.8%" stop-color="#f27124"/><stop offset="81.8%" stop-color="#f26823"/><stop offset="84.8%" stop-color="#f16021"/><stop offset="87.9%" stop-color="#f15a20"/><stop offset="90.9%" stop-color="#f1571f"/><stop offset="93.9%" stop-color="#f1571e"/><stop offset="97%" stop-color="#f1571e"/><stop offset="100%" stop-color="#f1551d"/></linearGradient><linearGradient id="g71" gradientUnits="userSpaceOnUse" x1="264" x2="625.3" y1="0" y2="0"><stop offset="0%" stop-color="#68c7c5"/><stop offset="3%" stop-color="#6fcac7"/><stop offset="6.1%" stop-color="#73cbc2"/><stop offset="9.1%" stop-color="#76cabb"/><stop offset="12.1%" stop-color="#7bcbb3"/><stop offset="15.2%" stop-color="#82ccab"/><stop offset="18.2%" stop-color="#8acea6"/><stop offset="21.2%" stop-color="#94d1a2"/><stop offset="24.2%" stop-color="#9fd4a0"/><stop offset="27.3%" stop-color="#a5d79b"/><stop offset="30.3%" stop-color="#a7d894"/><stop offset="33.3%" stop-color="#a6d88a"/><stop offset="36.4%" stop-color="#a4d67e"/><stop offset="39.4%" stop-color="#a9d77b"/><stop offset="42.4%" stop-color="#b8de7d"/><stop offset="45.5%" stop-color="#c9e588"/><stop offset="48.5%" stop-color="#e0ee98"/><stop offset="51.5%" stop-color="#f3f199"/><stop offset="54.5%" stop-color="#f8e984"/><stop offset="57.6%" stop-color="#f8d76a"/><stop offset="60.6%" stop-color="#f6b84e"/><stop offset="63.6%" stop-color="#f5a238"/><stop offset="66.7%" stop-color="#f4902d"/><stop offset="69.7%" stop-color="#f48529"/><stop offset="72.7%" stop-color="#f37a27"/><stop offset="75.8%" stop-color="#f27025"/><stop offset="78.8%" stop-color="#f16723"/><stop offset="81.8%" stop-color="#f16022"/><stop offset="84.8%" stop-color="#f05a20"/><stop offset="87.9%" stop-color="#f0551f"/><stop offset="90.9%" stop-color="#f1521e"/><stop offset="93.9%" stop-color="#f1521e"/><stop offset="97%" stop-color="#f1511e"/><stop offset="100%" stop-color="#f1501d"/></linearGradient><linearGradient id="g72" gradientUnits="userSpaceOnUse" x1="264.6" x2="629.2" y1="0" y2="0"><stop offset="0%" stop-color="#67c6c8"/><stop offset="2.9%" stop-color="#6ecaca"/><stop offset="5.9%" stop-color="#72cac6"/><stop offset="8.8%" stop-color="#75cac0"/><stop offset="11.8%" stop-color="#7acbbb"/><stop offset="14.7%" stop-color="#81cdb3"/><stop offset="17.6%" stop-color="#89cfaf"/><stop offset="20.6%" stop-color="#94d2ac"/><stop offset="23.5%" stop-color="#a0d5ab"/><stop offset="26.5%" stop-color="#a7d9a7"/><stop offset="29.4%" stop-color="#abdba0"/><stop offset="32.4%" stop-color="#acdb99"/><stop offset="35.3%" stop-color="#abd98f"/><stop offset="38.2%" stop-color="#adda88"/><stop offset="41.2%" stop-color="#bbdf89"/><stop offset="44.1%" stop-color="#cce790"/><stop offset="47.1%" stop-color="#deefa0"/><stop offset="50%" stop-color="#f1f1a4"/><stop offset="52.9%" stop-color="#f8e78f"/><stop offset="55.9%" stop-color="#f8d470"/><stop offset="58.8%" stop-color="#f6ba54"/><stop offset="61.8%" stop-color="#f5a53b"/><stop offset="64.7%" stop-color="#f48c2d"/><stop offset="67.6%" stop-color="#f37f27"/><stop offset="70.6%" stop-color="#f27526"/><stop offset="73.5%" stop-color="#f26c25"/><stop offset="76.5%" stop-color="#f16423"/><stop offset="79.4%" stop-color="#f05d22"/><stop offset="82.4%" stop-color="#f05821"/><stop offset="85.3%" stop-color="#f05320"/><stop offset="88.2%" stop-color="#f04f1f"/><stop offset="91.2%" stop-color="#f04d1e"/><stop offset="94.1%" stop-color="#f14d1e"/><stop offset="97.1%" stop-color="#f14d1e"/><stop offset="100%" stop-color="#f14b1d"/></linearGradient><linearGradient id="g73" gradientUnits="userSpaceOnUse" x1="265.2" x2="633.1" y1="0" y2="0"><stop offset="0%" stop-color="#66c5ca"/><stop offset="2.9%" stop-color="#6dc9cc"/><stop offset="5.9%" stop-color="#70c9c8"/><stop offset="8.8%" stop-color="#73cac4"/><stop offset="11.8%" stop-color="#7acbbf"/><stop offset="14.7%" stop-color="#81cdb9"/><stop offset="17.6%" stop-color="#8bd0b6"/><stop offset="20.6%" stop-color="#97d4b5"/><stop offset="23.5%" stop-color="#a3d8b4"/><stop offset="26.5%" stop-color="#abdbb0"/><stop offset="29.4%" stop-color="#b0ddab"/><stop offset="32.4%" stop-color="#b2dea5"/><stop offset="35.3%" stop-color="#b3dd9d"/><stop offset="38.2%" stop-color="#b7de97"/><stop offset="41.2%" stop-color="#c6e598"/><stop offset="44.1%" stop-color="#d6eca3"/><stop offset="47.1%" stop-color="#e7f3b0"/><stop offset="50%" stop-color="#f5efa9"/><stop offset="52.9%" stop-color="#f8db8a"/><stop offset="55.9%" stop-color="#f6c069"/><stop offset="58.8%" stop-color="#f5aa4a"/><stop offset="61.8%" stop-color="#f49534"/><stop offset="64.7%" stop-color="#f27e28"/><stop offset="67.6%" stop-color="#f27325"/><stop offset="70.6%" stop-color="#f16924"/><stop offset="73.5%" stop-color="#f16124"/><stop offset="76.5%" stop-color="#f05b22"/><stop offset="79.4%" stop-color="#f05621"/><stop offset="82.4%" stop-color="#ef5220"/><stop offset="85.3%" stop-color="#ef4d1f"/><stop offset="88.2%" stop-color="#f0491f"/><stop offset="91.2%" stop-color="#f0481e"/><stop offset="94.1%" stop-color="#f0481e"/><stop offset="97.1%" stop-color="#f0481e"/><stop offset="100%" stop-color="#f0461e"/></linearGradient><linearGradient id="g74" gradientUnits="userSpaceOnUse" x1="265.9" x2="637" y1="0" y2="0"><stop offset="0%" stop-color="#65c4cc"/><stop offset="2.9%" stop-color="#6ac7cd"/><stop offset="5.9%" stop-color="#6dc8ca"/><stop offset="8.8%" stop-color="#71c9c7"/><stop offset="11.8%" stop-color="#79cbc4"/><stop offset="14.7%" stop-color="#82cebf"/><stop offset="17.6%" stop-color="#8cd2bd"/><stop offset="20.6%" stop-color="#99d6bd"/><stop offset="23.5%" stop-color="#a6dabd"/><stop offset="26.5%" stop-color="#afdeba"/><stop offset="29.4%" stop-color="#b6e0b6"/><stop offset="32.4%" stop-color="#bae1b2"/><stop offset="35.3%" stop-color="#bde2ac"/><stop offset="38.2%" stop-color="#c3e4a8"/><stop offset="41.2%" stop-color="#d2eaab"/><stop offset="44.1%" stop-color="#e0f1b5"/><stop offset="47.1%" stop-color="#eff5be"/><stop offset="50%" stop-color="#f8e9ac"/><stop offset="52.9%" stop-color="#f7cd83"/><stop offset="55.9%" stop-color="#f5af5d"/><stop offset="58.8%" stop-color="#f49941"/><stop offset="61.8%" stop-color="#f3852f"/><stop offset="64.7%" stop-color="#f17226"/><stop offset="67.6%" stop-color="#f16723"/><stop offset="70.6%" stop-color="#f05e23"/><stop offset="73.5%" stop-color="#f05722"/><stop offset="76.5%" stop-color="#ef5321"/><stop offset="79.4%" stop-color="#ef4f20"/><stop offset="82.4%" stop-color="#ef4c20"/><stop offset="85.3%" stop-color="#ef471f"/><stop offset="88.2%" stop-color="#ef441f"/><stop offset="91.2%" stop-color="#f0431e"/><stop offset="94.1%" stop-color="#f0431e"/><stop offset="97.1%" stop-color="#f0441e"/><stop offset="100%" stop-color="#f0401e"/></linearGradient><linearGradient id="g75" gradientUnits="userSpaceOnUse" x1="266.6" x2="640.9" y1="0" y2="0"><stop offset="0%" stop-color="#63c2ce"/><stop offset="2.9%" stop-color="#67c5ce"/><stop offset="5.7%" stop-color="#69c6cb"/><stop offset="8.6%" stop-color="#6ec8ca"/><stop offset="11.4%" stop-color="#76cbc8"/><stop offset="14.3%" stop-color="#80cec5"/><stop offset="17.1%" stop-color="#8cd2c4"/><stop offset="20%" stop-color="#99d7c5"/><stop offset="22.9%" stop-color="#a7dbc5"/><stop offset="25.7%" stop-color="#b1dfc4"/><stop offset="28.6%" stop-color="#bae3c2"/><stop offset="31.4%" stop-color="#c1e5c0"/><stop offset="34.3%" stop-color="#c6e6bd"/><stop offset="37.1%" stop-color="#cbe8b9"/><stop offset="40%" stop-color="#d7edbb"/><stop offset="42.9%" stop-color="#e3f3c3"/><stop offset="45.7%" stop-color="#f0f7cb"/><stop offset="48.6%" stop-color="#f8efc0"/><stop offset="51.4%" stop-color="#f8d091"/><stop offset="54.3%" stop-color="#f5ad64"/><stop offset="57.1%" stop-color="#f39446"/><stop offset="60%" stop-color="#f28132"/><stop offset="62.9%" stop-color="#f17027"/><stop offset="65.7%" stop-color="#f06323"/><stop offset="68.6%" stop-color="#ef5922"/><stop offset="71.4%" stop-color="#ef5222"/><stop offset="74.3%" stop-color="#ef4e21"/><stop offset="77.1%" stop-color="#ee4b21"/><stop offset="80%" stop-color="#ee4920"/><stop offset="82.9%" stop-color="#ee451f"/><stop offset="85.7%" stop-color="#ef411f"/><stop offset="88.6%" stop-color="#ef3e1f"/><stop offset="91.4%" stop-color="#ef3d1f"/><stop offset="94.3%" stop-color="#f03e1e"/><stop offset="97.1%" stop-color="#f03d1e"/><stop offset="100%" stop-color="#f03b1e"/></linearGradient><linearGradient id="g76" gradientUnits="userSpaceOnUse" x1="267.3" x2="644.8" y1="0" y2="0"><stop offset="0%" stop-color="#60c1d0"/><stop offset="2.9%" stop-color="#64c3cf"/><stop offset="5.7%" stop-color="#65c4cb"/><stop offset="8.6%" stop-color="#6cc7cd"/><stop offset="11.4%" stop-color="#75cbcc"/><stop offset="14.3%" stop-color="#80ceca"/><stop offset="17.1%" stop-color="#8dd3cb"/><stop offset="20%" stop-color="#9cd8cc"/><stop offset="22.9%" stop-color="#aaddcd"/><stop offset="25.7%" stop-color="#b5e1cd"/><stop offset="28.6%" stop-color="#bfe5cc"/><stop offset="31.4%" stop-color="#c9e8cd"/><stop offset="34.3%" stop-color="#cfeacb"/><stop offset="37.1%" stop-color="#d6ecc9"/><stop offset="40%" stop-color="#e1f1cd"/><stop offset="42.9%" stop-color="#ebf6d3"/><stop offset="45.7%" stop-color="#f5f7d6"/><stop offset="48.6%" stop-color="#f9e6bd"/><stop offset="51.4%" stop-color="#f7c286"/><stop offset="54.3%" stop-color="#f49d57"/><stop offset="57.1%" stop-color="#f2843e"/><stop offset="60%" stop-color="#f1722e"/><stop offset="62.9%" stop-color="#f06426"/><stop offset="65.7%" stop-color="#ef5823"/><stop offset="68.6%" stop-color="#ee4f22"/><stop offset="71.4%" stop-color="#ee4922"/><stop offset="74.3%" stop-color="#ee4621"/><stop offset="77.1%" stop-color="#ee4421"/><stop offset="80%" stop-color="#ee4320"/><stop offset="82.9%" stop-color="#ee3e1f"/><stop offset="85.7%" stop-color="#ee3b1f"/><stop offset="88.6%" stop-color="#ef381f"/><stop offset="91.4%" stop-color="#ef381f"/><stop offset="94.3%" stop-color="#ef391e"/><stop offset="97.1%" stop-color="#f0381e"/><stop offset="100%" stop-color="#f0361e"/></linearGradient><linearGradient id="g77" gradientUnits="userSpaceOnUse" x1="268" x2="648.7" y1="0" y2="0"><stop offset="0%" stop-color="#5ebfd1"/><stop offset="2.9%" stop-color="#61c2d1"/><stop offset="5.7%" stop-color="#63c3cf"/><stop offset="8.6%" stop-color="#69c7d1"/><stop offset="11.4%" stop-color="#74cbd1"/><stop offset="14.3%" stop-color="#80ced0"/><stop offset="17.1%" stop-color="#8fd4d1"/><stop offset="20%" stop-color="#9edad3"/><stop offset="22.9%" stop-color="#added4"/><stop offset="25.7%" stop-color="#b9e3d5"/><stop offset="28.6%" stop-color="#c5e8d6"/><stop offset="31.4%" stop-color="#d1ebda"/><stop offset="34.3%" stop-color="#d8edd8"/><stop offset="37.1%" stop-color="#deefd8"/><stop offset="40%" stop-color="#eaf4de"/><stop offset="42.9%" stop-color="#f1f7df"/><stop offset="45.7%" stop-color="#f8f4db"/><stop offset="48.6%" stop-color="#f9dcb6"/><stop offset="51.4%" stop-color="#f6b279"/><stop offset="54.3%" stop-color="#f28c4e"/><stop offset="57.1%" stop-color="#f17439"/><stop offset="60%" stop-color="#f0672c"/><stop offset="62.9%" stop-color="#ef5925"/><stop offset="65.7%" stop-color="#ee4e23"/><stop offset="68.6%" stop-color="#ed4622"/><stop offset="71.4%" stop-color="#ed4122"/><stop offset="74.3%" stop-color="#ed4021"/><stop offset="77.1%" stop-color="#ed3e21"/><stop offset="80%" stop-color="#ed3c20"/><stop offset="82.9%" stop-color="#ee381f"/><stop offset="85.7%" stop-color="#ee351f"/><stop offset="88.6%" stop-color="#ee321f"/><stop offset="91.4%" stop-color="#ef331f"/><stop offset="94.3%" stop-color="#ef341e"/><stop offset="97.1%" stop-color="#f0331f"/><stop offset="100%" stop-color="#f0321f"/></linearGradient><linearGradient id="g78" gradientUnits="userSpaceOnUse" x1="268.7" x2="652.6" y1="0" y2="0"><stop offset="0%" stop-color="#5bbdd3"/><stop offset="2.9%" stop-color="#5fc0d3"/><stop offset="5.7%" stop-color="#60c2d4"/><stop offset="8.6%" stop-color="#67c6d5"/><stop offset="11.4%" stop-color="#74cbd5"/><stop offset="14.3%" stop-color="#80ced5"/><stop offset="17.1%" stop-color="#90d5d7"/><stop offset="20%" stop-color="#a1dbda"/><stop offset="22.9%" stop-color="#b0dfdb"/><stop offset="25.7%" stop-color="#bde5dd"/><stop offset="28.6%" stop-color="#cae9e0"/><stop offset="31.4%" stop-color="#daede7"/><stop offset="34.3%" stop-color="#dfeee3"/><stop offset="37.1%" stop-color="#e5f0e4"/><stop offset="40%" stop-color="#f1f6ec"/><stop offset="42.9%" stop-color="#f4f6e8"/><stop offset="45.7%" stop-color="#f9efdc"/><stop offset="48.6%" stop-color="#f8d1b0"/><stop offset="51.4%" stop-color="#f39f6c"/><stop offset="54.3%" stop-color="#f17f4a"/><stop offset="57.1%" stop-color="#ef6435"/><stop offset="60%" stop-color="#ef5d2b"/><stop offset="62.9%" stop-color="#ee4f26"/><stop offset="65.7%" stop-color="#ed4524"/><stop offset="68.6%" stop-color="#ec3d23"/><stop offset="71.4%" stop-color="#ed3b22"/><stop offset="74.3%" stop-color="#ed3a22"/><stop offset="77.1%" stop-color="#ed3821"/><stop offset="80%" stop-color="#ed3520"/><stop offset="82.9%" stop-color="#ed321f"/><stop offset="85.7%" stop-color="#ee2f1f"/><stop offset="88.6%" stop-color="#ee2d1f"/><stop offset="91.4%" stop-color="#ef2f1f"/><stop offset="94.3%" stop-color="#ef2f1f"/><stop offset="97.1%" stop-color="#f02e1f"/><stop offset="100%" stop-color="#f02d1e"/></linearGradient><linearGradient id="g79" gradientUnits="userSpaceOnUse" x1="269.4" x2="656.5" y1="0" y2="0"><stop offset="0%" stop-color="#58bcd5"/><stop offset="2.8%" stop-color="#5bbed6"/><stop offset="5.6%" stop-color="#5cc0d8"/><stop offset="8.3%" stop-color="#63c6da"/><stop offset="11.1%" stop-color="#72cbd9"/><stop offset="13.9%" stop-color="#80cfda"/><stop offset="16.7%" stop-color="#8fd5dd"/><stop offset="19.4%" stop-color="#9fdadf"/><stop offset="22.2%" stop-color="#afdfe1"/><stop offset="25%" stop-color="#bde5e3"/><stop offset="27.8%" stop-color="#cae8e6"/><stop offset="30.6%" stop-color="#d9eced"/><stop offset="33.3%" stop-color="#e1eeec"/><stop offset="36.1%" stop-color="#e6efeb"/><stop offset="38.9%" stop-color="#f1f4f3"/><stop offset="41.7%" stop-color="#f4f4f0"/><stop offset="44.4%" stop-color="#f8f1e8"/><stop offset="47.2%" stop-color="#f8dac6"/><stop offset="50%" stop-color="#f4ae8a"/><stop offset="52.8%" stop-color="#f18459"/><stop offset="55.6%" stop-color="#ef6a42"/><stop offset="58.3%" stop-color="#ef5931"/><stop offset="61.1%" stop-color="#ee4c29"/><stop offset="63.9%" stop-color="#ed4326"/><stop offset="66.7%" stop-color="#ec3c25"/><stop offset="69.4%" stop-color="#ec3724"/><stop offset="72.2%" stop-color="#ec3623"/><stop offset="75%" stop-color="#ed3422"/><stop offset="77.8%" stop-color="#ed3121"/><stop offset="80.6%" stop-color="#ed2f20"/><stop offset="83.3%" stop-color="#ed2d1f"/><stop offset="86.1%" stop-color="#ed2a1f"/><stop offset="88.9%" stop-color="#ee2a1f"/><stop offset="91.7%" stop-color="#ee2b1e"/><stop offset="94.4%" stop-color="#ef2a1f"/><stop offset="97.2%" stop-color="#f02a1f"/><stop offset="100%" stop-color="#ef291e"/></linearGradient><linearGradient id="g80" gradientUnits="userSpaceOnUse" x1="270.1" x2="660.4" y1="0" y2="0"><stop offset="0%" stop-color="#55bad7"/><stop offset="2.8%" stop-color="#56bcd9"/><stop offset="5.6%" stop-color="#57bfdc"/><stop offset="8.3%" stop-color="#5fc5de"/><stop offset="11.1%" stop-color="#73cbdd"/><stop offset="13.9%" stop-color="#83d0e0"/><stop offset="16.7%" stop-color="#91d5e2"/><stop offset="19.4%" stop-color="#a1dbe4"/><stop offset="22.2%" stop-color="#b1dfe6"/><stop offset="25%" stop-color="#bfe4e8"/><stop offset="27.8%" stop-color="#cce7ec"/><stop offset="30.6%" stop-color="#dbe9f1"/><stop offset="33.3%" stop-color="#e3ecf1"/><stop offset="36.1%" stop-color="#e8ecf1"/><stop offset="38.9%" stop-color="#f0eff5"/><stop offset="41.7%" stop-color="#f4f1f3"/><stop offset="44.4%" stop-color="#f7eeec"/><stop offset="47.2%" stop-color="#f7d2c3"/><stop offset="50%" stop-color="#f3a78b"/><stop offset="52.8%" stop-color="#f18361"/><stop offset="55.6%" stop-color="#ef6645"/><stop offset="58.3%" stop-color="#ee5133"/><stop offset="61.1%" stop-color="#ed432b"/><stop offset="63.9%" stop-color="#ec3d29"/><stop offset="66.7%" stop-color="#ec3627"/><stop offset="69.4%" stop-color="#ec3325"/><stop offset="72.2%" stop-color="#ec3124"/><stop offset="75%" stop-color="#ec2e23"/><stop offset="77.8%" stop-color="#ec2c21"/><stop offset="80.6%" stop-color="#ed2a20"/><stop offset="83.3%" stop-color="#ed281f"/><stop offset="86.1%" stop-color="#ed261f"/><stop offset="88.9%" stop-color="#ee261e"/><stop offset="91.7%" stop-color="#ee271e"/><stop offset="94.4%" stop-color="#ef261f"/><stop offset="97.2%" stop-color="#ef261e"/><stop offset="100%" stop-color="#ef261d"/></linearGradient><linearGradient id="g81" gradientUnits="userSpaceOnUse" x1="270.9" x2="664.3" y1="0" y2="0"><stop offset="0%" stop-color="#51b8d9"/><stop offset="2.8%" stop-color="#52badc"/><stop offset="5.6%" stop-color="#52bce0"/><stop offset="8.3%" stop-color="#5cc4e1"/><stop offset="11.1%" stop-color="#75cbe1"/><stop offset="13.9%" stop-color="#84d1e5"/><stop offset="16.7%" stop-color="#91d4e5"/><stop offset="19.4%" stop-color="#a1dae8"/><stop offset="22.2%" stop-color="#b2dde9"/><stop offset="25%" stop-color="#c0e3ed"/><stop offset="27.8%" stop-color="#cce3ef"/><stop offset="30.6%" stop-color="#dae5f2"/><stop offset="33.3%" stop-color="#e2e7f3"/><stop offset="36.1%" stop-color="#e6e7f3"/><stop offset="38.9%" stop-color="#edeaf5"/><stop offset="41.7%" stop-color="#f2ecf4"/><stop offset="44.4%" stop-color="#f6e7ea"/><stop offset="47.2%" stop-color="#f5ccc2"/><stop offset="50%" stop-color="#f3a793"/><stop offset="52.8%" stop-color="#f18269"/><stop offset="55.6%" stop-color="#ef6349"/><stop offset="58.3%" stop-color="#ed4936"/><stop offset="61.1%" stop-color="#ec3e2f"/><stop offset="63.9%" stop-color="#ec382c"/><stop offset="66.7%" stop-color="#ec3229"/><stop offset="69.4%" stop-color="#ec2f27"/><stop offset="72.2%" stop-color="#ec2d25"/><stop offset="75%" stop-color="#ec2a24"/><stop offset="77.8%" stop-color="#ec2822"/><stop offset="80.6%" stop-color="#ec2620"/><stop offset="83.3%" stop-color="#ed241f"/><stop offset="86.1%" stop-color="#ed221e"/><stop offset="88.9%" stop-color="#ee231e"/><stop offset="91.7%" stop-color="#ee231e"/><stop offset="94.4%" stop-color="#ef221e"/><stop offset="97.2%" stop-color="#ef231e"/><stop offset="100%" stop-color="#ef231d"/></linearGradient><linearGradient id="g82" gradientUnits="userSpaceOnUse" x1="271.7" x2="668.2" y1="0" y2="0"><stop offset="0%" stop-color="#4eb6db"/><stop offset="2.7%" stop-color="#4eb8df"/><stop offset="5.4%" stop-color="#4ebbe3"/><stop offset="8.1%" stop-color="#59c2e4"/><stop offset="10.8%" stop-color="#71c8e3"/><stop offset="13.5%" stop-color="#81cfe7"/><stop offset="16.2%" stop-color="#8ed0e8"/><stop offset="18.9%" stop-color="#9ed6ea"/><stop offset="21.6%" stop-color="#aed8eb"/><stop offset="24.3%" stop-color="#bbdced"/><stop offset="27%" stop-color="#c7dcf0"/><stop offset="29.7%" stop-color="#d3dcf1"/><stop offset="32.4%" stop-color="#dce1f3"/><stop offset="35.1%" stop-color="#e1e0f3"/><stop offset="37.8%" stop-color="#e8e2f4"/><stop offset="40.5%" stop-color="#eee6f5"/><stop offset="43.2%" stop-color="#f2e5ee"/><stop offset="45.9%" stop-color="#f4d4d5"/><stop offset="48.6%" stop-color="#f3b9b1"/><stop offset="51.4%" stop-color="#f29586"/><stop offset="54.1%" stop-color="#f0715d"/><stop offset="56.8%" stop-color="#ee5544"/><stop offset="59.5%" stop-color="#ec4038"/><stop offset="62.2%" stop-color="#ec3a33"/><stop offset="64.9%" stop-color="#ec322e"/><stop offset="67.6%" stop-color="#eb2e2a"/><stop offset="70.3%" stop-color="#ec2b28"/><stop offset="73%" stop-color="#ec2826"/><stop offset="75.7%" stop-color="#ec2624"/><stop offset="78.4%" stop-color="#ec2422"/><stop offset="81.1%" stop-color="#ec2220"/><stop offset="83.8%" stop-color="#ec201e"/><stop offset="86.5%" stop-color="#ed1f1e"/><stop offset="89.2%" stop-color="#ed201e"/><stop offset="91.9%" stop-color="#ee1f1e"/><stop offset="94.6%" stop-color="#ee1f1e"/><stop offset="97.3%" stop-color="#ef201d"/><stop offset="100%" stop-color="#ee211d"/></linearGradient><linearGradient id="g83" gradientUnits="userSpaceOnUse" x1="272.4" x2="672.1" y1="0" y2="0"><stop offset="0%" stop-color="#4bb4dc"/><stop offset="2.7%" stop-color="#4bb7e1"/><stop offset="5.4%" stop-color="#4cbae5"/><stop offset="8.1%" stop-color="#58c0e6"/><stop offset="10.8%" stop-color="#6ec5e6"/><stop offset="13.5%" stop-color="#7ecae8"/><stop offset="16.2%" stop-color="#8dcce9"/><stop offset="18.9%" stop-color="#9cd0eb"/><stop offset="21.6%" stop-color="#abd0ea"/><stop offset="24.3%" stop-color="#b8d3ed"/><stop offset="27%" stop-color="#c3d3ee"/><stop offset="29.7%" stop-color="#ced3ef"/><stop offset="32.4%" stop-color="#d6d7f1"/><stop offset="35.1%" stop-color="#ddd9f2"/><stop offset="37.8%" stop-color="#e5dcf2"/><stop offset="40.5%" stop-color="#ece1f3"/><stop offset="43.2%" stop-color="#f0deeb"/><stop offset="45.9%" stop-color="#f2d0d6"/><stop offset="48.6%" stop-color="#f3bbbb"/><stop offset="51.4%" stop-color="#f1948c"/><stop offset="54.1%" stop-color="#f06f60"/><stop offset="56.8%" stop-color="#ee544c"/><stop offset="59.5%" stop-color="#ed4140"/><stop offset="62.2%" stop-color="#ec3738"/><stop offset="64.9%" stop-color="#eb2f30"/><stop offset="67.6%" stop-color="#eb2a2d"/><stop offset="70.3%" stop-color="#ec282a"/><stop offset="73%" stop-color="#ec2527"/><stop offset="75.7%" stop-color="#ec2324"/><stop offset="78.4%" stop-color="#ec2122"/><stop offset="81.1%" stop-color="#ec1f20"/><stop offset="83.8%" stop-color="#ec1d1e"/><stop offset="86.5%" stop-color="#ed1d1e"/><stop offset="89.2%" stop-color="#ed1d1e"/><stop offset="91.9%" stop-color="#ee1b1e"/><stop offset="94.6%" stop-color="#ee1c1e"/><stop offset="97.3%" stop-color="#ee1d1d"/><stop offset="100%" stop-color="#ee1e1d"/></linearGradient><linearGradient id="g84" gradientUnits="userSpaceOnUse" x1="273.2" x2="676" y1="0" y2="0"><stop offset="0%" stop-color="#48b2de"/><stop offset="2.7%" stop-color="#48b5e3"/><stop offset="5.4%" stop-color="#49b8e6"/><stop offset="8.1%" stop-color="#56bde7"/><stop offset="10.8%" stop-color="#6ac1e7"/><stop offset="13.5%" stop-color="#7bc5e9"/><stop offset="16.2%" stop-color="#8ac6ea"/><stop offset="18.9%" stop-color="#99c8eb"/><stop offset="21.6%" stop-color="#a5c6e8"/><stop offset="24.3%" stop-color="#b4c8ec"/><stop offset="27%" stop-color="#bec7ec"/><stop offset="29.7%" stop-color="#c6c8ec"/><stop offset="32.4%" stop-color="#cfcdef"/><stop offset="35.1%" stop-color="#d9d2ef"/><stop offset="37.8%" stop-color="#e2d6f1"/><stop offset="40.5%" stop-color="#e9dbf1"/><stop offset="43.2%" stop-color="#eed8e9"/><stop offset="45.9%" stop-color="#f1ced9"/><stop offset="48.6%" stop-color="#f2bdc4"/><stop offset="51.4%" stop-color="#f19291"/><stop offset="54.1%" stop-color="#f06f69"/><stop offset="56.8%" stop-color="#ef5555"/><stop offset="59.5%" stop-color="#ed4248"/><stop offset="62.2%" stop-color="#ec353d"/><stop offset="64.9%" stop-color="#eb2c33"/><stop offset="67.6%" stop-color="#eb2831"/><stop offset="70.3%" stop-color="#ec252d"/><stop offset="73%" stop-color="#ec2328"/><stop offset="75.7%" stop-color="#ec2125"/><stop offset="78.4%" stop-color="#ec1f23"/><stop offset="81.1%" stop-color="#ec1c20"/><stop offset="83.8%" stop-color="#ec1a1e"/><stop offset="86.5%" stop-color="#ed1b1e"/><stop offset="89.2%" stop-color="#ed1a1e"/><stop offset="91.9%" stop-color="#ed181e"/><stop offset="94.6%" stop-color="#ee1a1d"/><stop offset="97.3%" stop-color="#ee1b1d"/><stop offset="100%" stop-color="#ee1c1d"/></linearGradient><linearGradient id="g85" gradientUnits="userSpaceOnUse" x1="274.1" x2="679.9" y1="0" y2="0"><stop offset="0%" stop-color="#45afdf"/><stop offset="2.7%" stop-color="#45b3e4"/><stop offset="5.4%" stop-color="#47b6e7"/><stop offset="8.1%" stop-color="#54b9e8"/><stop offset="10.8%" stop-color="#67bde8"/><stop offset="13.5%" stop-color="#79c0e9"/><stop offset="16.2%" stop-color="#88bfe9"/><stop offset="18.9%" stop-color="#94bde8"/><stop offset="21.6%" stop-color="#9fb9e5"/><stop offset="24.3%" stop-color="#adbbe8"/><stop offset="27%" stop-color="#b7bce8"/><stop offset="29.7%" stop-color="#bfbee9"/><stop offset="32.4%" stop-color="#cbc6ec"/><stop offset="35.1%" stop-color="#d5cbed"/><stop offset="37.8%" stop-color="#dfd2ef"/><stop offset="40.5%" stop-color="#e7d6ef"/><stop offset="43.2%" stop-color="#edd4e8"/><stop offset="45.9%" stop-color="#f0ccdb"/><stop offset="48.6%" stop-color="#f1b6c2"/><stop offset="51.4%" stop-color="#f18f95"/><stop offset="54.1%" stop-color="#f17073"/><stop offset="56.8%" stop-color="#ef555e"/><stop offset="59.5%" stop-color="#ee414f"/><stop offset="62.2%" stop-color="#ec3342"/><stop offset="64.9%" stop-color="#eb2a39"/><stop offset="67.6%" stop-color="#eb2534"/><stop offset="70.3%" stop-color="#ec232f"/><stop offset="73%" stop-color="#ec2129"/><stop offset="75.7%" stop-color="#ec1f26"/><stop offset="78.4%" stop-color="#ec1c23"/><stop offset="81.1%" stop-color="#eb1a20"/><stop offset="83.8%" stop-color="#ec191f"/><stop offset="86.5%" stop-color="#ed191e"/><stop offset="89.2%" stop-color="#ed181e"/><stop offset="91.9%" stop-color="#ed181e"/><stop offset="94.6%" stop-color="#ee191e"/><stop offset="97.3%" stop-color="#ee1a1d"/><stop offset="100%" stop-color="#ed1b1d"/></linearGradient><linearGradient id="g86" gradientUnits="userSpaceOnUse" x1="274.9" x2="683.3" y1="0" y2="0"><stop offset="0%" stop-color="#43ade0"/><stop offset="2.6%" stop-color="#43b1e5"/><stop offset="5.3%" stop-color="#43b3e8"/><stop offset="7.9%" stop-color="#50b5e8"/><stop offset="10.5%" stop-color="#64b7e8"/><stop offset="13.2%" stop-color="#76bae9"/><stop offset="15.8%" stop-color="#83b7e7"/><stop offset="18.4%" stop-color="#8cb1e3"/><stop offset="21.1%" stop-color="#96ace1"/><stop offset="23.7%" stop-color="#a3aee3"/><stop offset="26.3%" stop-color="#afb2e5"/><stop offset="28.9%" stop-color="#b7b3e5"/><stop offset="31.6%" stop-color="#c3bee9"/><stop offset="34.2%" stop-color="#cec4ea"/><stop offset="36.8%" stop-color="#d8caec"/><stop offset="39.5%" stop-color="#e2d1ee"/><stop offset="42.1%" stop-color="#ead2ea"/><stop offset="44.7%" stop-color="#eecce2"/><stop offset="47.4%" stop-color="#f0bed1"/><stop offset="50%" stop-color="#f19fae"/><stop offset="52.6%" stop-color="#f1808c"/><stop offset="55.3%" stop-color="#f16473"/><stop offset="57.9%" stop-color="#ef4b5f"/><stop offset="60.5%" stop-color="#ed3950"/><stop offset="63.2%" stop-color="#ec2c44"/><stop offset="65.8%" stop-color="#eb263c"/><stop offset="68.4%" stop-color="#ec2336"/><stop offset="71.1%" stop-color="#ec212e"/><stop offset="73.7%" stop-color="#ec1f2a"/><stop offset="76.3%" stop-color="#ec1d27"/><stop offset="78.9%" stop-color="#ec1a23"/><stop offset="81.6%" stop-color="#ec1820"/><stop offset="84.2%" stop-color="#ec181f"/><stop offset="86.8%" stop-color="#ed171f"/><stop offset="89.5%" stop-color="#ed171e"/><stop offset="92.1%" stop-color="#ed171e"/><stop offset="94.7%" stop-color="#ed171e"/><stop offset="97.4%" stop-color="#ed181e"/><stop offset="100%" stop-color="#ed191e"/></linearGradient><linearGradient id="g87" gradientUnits="userSpaceOnUse" x1="275.8" x2="684.2" y1="0" y2="0"><stop offset="0%" stop-color="#41aae0"/><stop offset="2.6%" stop-color="#41aee6"/><stop offset="5.3%" stop-color="#3fafe8"/><stop offset="7.9%" stop-color="#4eafe7"/><stop offset="10.5%" stop-color="#63b2e7"/><stop offset="13.2%" stop-color="#74b4e8"/><stop offset="15.8%" stop-color="#7faee4"/><stop offset="18.4%" stop-color="#86a4de"/><stop offset="21.1%" stop-color="#90a1dd"/><stop offset="23.7%" stop-color="#9ca3df"/><stop offset="26.3%" stop-color="#a9a9e1"/><stop offset="28.9%" stop-color="#b4afe3"/><stop offset="31.6%" stop-color="#c0b9e7"/><stop offset="34.2%" stop-color="#cabee7"/><stop offset="36.8%" stop-color="#d5c5ea"/><stop offset="39.5%" stop-color="#e0cdec"/><stop offset="42.1%" stop-color="#e8cfea"/><stop offset="44.7%" stop-color="#ecc9e2"/><stop offset="47.4%" stop-color="#eebad2"/><stop offset="50%" stop-color="#f1a0b5"/><stop offset="52.6%" stop-color="#f28498"/><stop offset="55.3%" stop-color="#f1677e"/><stop offset="57.9%" stop-color="#ef4c69"/><stop offset="60.5%" stop-color="#ed3958"/><stop offset="63.2%" stop-color="#ec2b4b"/><stop offset="65.8%" stop-color="#eb2542"/><stop offset="68.4%" stop-color="#ec223a"/><stop offset="71.1%" stop-color="#ec2031"/><stop offset="73.7%" stop-color="#ec1e2c"/><stop offset="76.3%" stop-color="#ec1c29"/><stop offset="78.9%" stop-color="#ec1925"/><stop offset="81.6%" stop-color="#ec1722"/><stop offset="84.2%" stop-color="#ec1720"/><stop offset="86.8%" stop-color="#ed161f"/><stop offset="89.5%" stop-color="#ed161e"/><stop offset="92.1%" stop-color="#ed161e"/><stop offset="94.7%" stop-color="#ed161e"/><stop offset="97.4%" stop-color="#ed161e"/><stop offset="100%" stop-color="#ed181e"/></linearGradient><linearGradient id="g88" gradientUnits="userSpaceOnUse" x1="276.7" x2="680.1" y1="0" y2="0"><stop offset="0%" stop-color="#3fa6e0"/><stop offset="2.7%" stop-color="#40aae5"/><stop offset="5.4%" stop-color="#3faae7"/><stop offset="8.1%" stop-color="#4ea9e5"/><stop offset="10.8%" stop-color="#62abe5"/><stop offset="13.5%" stop-color="#72abe5"/><stop offset="16.2%" stop-color="#7da5e1"/><stop offset="18.9%" stop-color="#839ada"/><stop offset="21.6%" stop-color="#8c98d9"/><stop offset="24.3%" stop-color="#989bdb"/><stop offset="27%" stop-color="#a6a4df"/><stop offset="29.7%" stop-color="#b5b0e3"/><stop offset="32.4%" stop-color="#beb6e5"/><stop offset="35.1%" stop-color="#c8bae5"/><stop offset="37.8%" stop-color="#d5c3e9"/><stop offset="40.5%" stop-color="#e1cbeb"/><stop offset="43.2%" stop-color="#e8cbe8"/><stop offset="45.9%" stop-color="#ebc3e0"/><stop offset="48.6%" stop-color="#eeb1ce"/><stop offset="51.4%" stop-color="#f199b5"/><stop offset="54.1%" stop-color="#f37f9c"/><stop offset="56.8%" stop-color="#f16081"/><stop offset="59.5%" stop-color="#ee466b"/><stop offset="62.2%" stop-color="#ec325b"/><stop offset="64.9%" stop-color="#eb274e"/><stop offset="67.6%" stop-color="#ec2244"/><stop offset="70.3%" stop-color="#ec203b"/><stop offset="73%" stop-color="#ec1f33"/><stop offset="75.7%" stop-color="#ec1c2e"/><stop offset="78.4%" stop-color="#ec1a29"/><stop offset="81.1%" stop-color="#eb1825"/><stop offset="83.8%" stop-color="#ec1722"/><stop offset="86.5%" stop-color="#ec1621"/><stop offset="89.2%" stop-color="#ed161f"/><stop offset="91.9%" stop-color="#ed161f"/><stop offset="94.6%" stop-color="#ed151f"/><stop offset="97.3%" stop-color="#ed151f"/><stop offset="100%" stop-color="#ed161f"/></linearGradient><linearGradient id="g89" gradientUnits="userSpaceOnUse" x1="277.6" x2="671.9" y1="0" y2="0"><stop offset="0%" stop-color="#3ea2de"/><stop offset="2.8%" stop-color="#3fa6e4"/><stop offset="5.6%" stop-color="#41a5e5"/><stop offset="8.3%" stop-color="#4da1e2"/><stop offset="11.1%" stop-color="#60a2e2"/><stop offset="13.9%" stop-color="#6fa1e1"/><stop offset="16.7%" stop-color="#7a9cdd"/><stop offset="19.4%" stop-color="#8195d8"/><stop offset="22.2%" stop-color="#8790d6"/><stop offset="25%" stop-color="#9394d8"/><stop offset="27.8%" stop-color="#a4a1dd"/><stop offset="30.6%" stop-color="#b2ace1"/><stop offset="33.3%" stop-color="#bcb2e3"/><stop offset="36.1%" stop-color="#c6b7e4"/><stop offset="38.9%" stop-color="#d4c1e7"/><stop offset="41.7%" stop-color="#e1c8e9"/><stop offset="44.4%" stop-color="#e7c7e7"/><stop offset="47.2%" stop-color="#e9bedf"/><stop offset="50%" stop-color="#edadce"/><stop offset="52.8%" stop-color="#f298bb"/><stop offset="55.6%" stop-color="#f37fa4"/><stop offset="58.3%" stop-color="#f15d87"/><stop offset="61.1%" stop-color="#ee4371"/><stop offset="63.9%" stop-color="#ec2f61"/><stop offset="66.7%" stop-color="#eb2554"/><stop offset="69.4%" stop-color="#ec2249"/><stop offset="72.2%" stop-color="#ec203f"/><stop offset="75%" stop-color="#ec1e37"/><stop offset="77.8%" stop-color="#ec1c31"/><stop offset="80.6%" stop-color="#ec192b"/><stop offset="83.3%" stop-color="#eb1726"/><stop offset="86.1%" stop-color="#ec1623"/><stop offset="88.9%" stop-color="#ec1621"/><stop offset="91.7%" stop-color="#ed1620"/><stop offset="94.4%" stop-color="#ed151f"/><stop offset="97.2%" stop-color="#ed1420"/><stop offset="100%" stop-color="#ec1420"/></linearGradient><linearGradient id="g90" gradientUnits="userSpaceOnUse" x1="278.5" x2="663.7" y1="0" y2="0"><stop offset="0%" stop-color="#3d9ddc"/><stop offset="2.8%" stop-color="#3fa2e2"/><stop offset="5.6%" stop-color="#419fe2"/><stop offset="8.3%" stop-color="#4b99dd"/><stop offset="11.1%" stop-color="#5c98dd"/><stop offset="13.9%" stop-color="#6b97dd"/><stop offset="16.7%" stop-color="#7594da"/><stop offset="19.4%" stop-color="#7d8fd6"/><stop offset="22.2%" stop-color="#8189d2"/><stop offset="25%" stop-color="#8b8cd3"/><stop offset="27.8%" stop-color="#9d9ad9"/><stop offset="30.6%" stop-color="#aca6de"/><stop offset="33.3%" stop-color="#b6ace1"/><stop offset="36.1%" stop-color="#c1b3e2"/><stop offset="38.9%" stop-color="#cebbe5"/><stop offset="41.7%" stop-color="#dcc3e7"/><stop offset="44.4%" stop-color="#e4c4e7"/><stop offset="47.2%" stop-color="#e6bee2"/><stop offset="50%" stop-color="#e8b1d7"/><stop offset="52.8%" stop-color="#ef9ec6"/><stop offset="55.6%" stop-color="#f38bb5"/><stop offset="58.3%" stop-color="#f16a9a"/><stop offset="61.1%" stop-color="#ef4e82"/><stop offset="63.9%" stop-color="#ed376f"/><stop offset="66.7%" stop-color="#eb2861"/><stop offset="69.4%" stop-color="#ec2354"/><stop offset="72.2%" stop-color="#ec214a"/><stop offset="75%" stop-color="#ec1f40"/><stop offset="77.8%" stop-color="#ec1d39"/><stop offset="80.6%" stop-color="#ec1b32"/><stop offset="83.3%" stop-color="#ec182b"/><stop offset="86.1%" stop-color="#eb1726"/><stop offset="88.9%" stop-color="#ec1624"/><stop offset="91.7%" stop-color="#ec1522"/><stop offset="94.4%" stop-color="#ed1620"/><stop offset="97.2%" stop-color="#ed1421"/><stop offset="100%" stop-color="#ec1421"/></linearGradient><linearGradient id="g91" gradientUnits="userSpaceOnUse" x1="279.4" x2="655.5" y1="0" y2="0"><stop offset="0%" stop-color="#3c98d9"/><stop offset="2.9%" stop-color="#409ee0"/><stop offset="5.7%" stop-color="#4199df"/><stop offset="8.6%" stop-color="#498ed7"/><stop offset="11.4%" stop-color="#5b8ed8"/><stop offset="14.3%" stop-color="#678dd8"/><stop offset="17.1%" stop-color="#708ad5"/><stop offset="20%" stop-color="#7787d2"/><stop offset="22.9%" stop-color="#7b81ce"/><stop offset="25.7%" stop-color="#8786d0"/><stop offset="28.6%" stop-color="#9b97d7"/><stop offset="31.4%" stop-color="#a9a2dc"/><stop offset="34.3%" stop-color="#b3a9df"/><stop offset="37.1%" stop-color="#bfb0e0"/><stop offset="40%" stop-color="#cdb8e3"/><stop offset="42.9%" stop-color="#dbbfe6"/><stop offset="45.7%" stop-color="#e2bfe5"/><stop offset="48.6%" stop-color="#e4b8e1"/><stop offset="51.4%" stop-color="#e8abd6"/><stop offset="54.3%" stop-color="#ee98c6"/><stop offset="57.1%" stop-color="#f183b5"/><stop offset="60%" stop-color="#f0649c"/><stop offset="62.9%" stop-color="#ee4a85"/><stop offset="65.7%" stop-color="#ec3574"/><stop offset="68.6%" stop-color="#eb2765"/><stop offset="71.4%" stop-color="#ec2358"/><stop offset="74.3%" stop-color="#ec204d"/><stop offset="77.1%" stop-color="#ec1f44"/><stop offset="80%" stop-color="#ec1d3c"/><stop offset="82.9%" stop-color="#ec1b34"/><stop offset="85.7%" stop-color="#ec182d"/><stop offset="88.6%" stop-color="#ec1628"/><stop offset="91.4%" stop-color="#ec1525"/><stop offset="94.3%" stop-color="#ec1523"/><stop offset="97.1%" stop-color="#ec1522"/><stop offset="100%" stop-color="#ec1422"/></linearGradient><linearGradient id="g92" gradientUnits="userSpaceOnUse" x1="280.4" x2="647.3" y1="0" y2="0"><stop offset="0%" stop-color="#3b90d5"/><stop offset="2.9%" stop-color="#3f93da"/><stop offset="5.9%" stop-color="#4092db"/><stop offset="8.8%" stop-color="#4682d0"/><stop offset="11.8%" stop-color="#5782d2"/><stop offset="14.7%" stop-color="#6283d3"/><stop offset="17.6%" stop-color="#6b80d0"/><stop offset="20.6%" stop-color="#707ccc"/><stop offset="23.5%" stop-color="#7679ca"/><stop offset="26.5%" stop-color="#8382cd"/><stop offset="29.4%" stop-color="#9894d4"/><stop offset="32.4%" stop-color="#a49ed9"/><stop offset="35.3%" stop-color="#b0a5dc"/><stop offset="38.2%" stop-color="#beadde"/><stop offset="41.2%" stop-color="#cbb4e1"/><stop offset="44.1%" stop-color="#d8bbe4"/><stop offset="47.1%" stop-color="#dfb9e3"/><stop offset="50%" stop-color="#e2b1de"/><stop offset="52.9%" stop-color="#e7a3d3"/><stop offset="55.9%" stop-color="#ee90c4"/><stop offset="58.8%" stop-color="#f07ab2"/><stop offset="61.8%" stop-color="#ef5e9c"/><stop offset="64.7%" stop-color="#ee4688"/><stop offset="67.6%" stop-color="#ec3277"/><stop offset="70.6%" stop-color="#ec2769"/><stop offset="73.5%" stop-color="#ec225c"/><stop offset="76.5%" stop-color="#ec2051"/><stop offset="79.4%" stop-color="#ec1f48"/><stop offset="82.4%" stop-color="#ec1d3f"/><stop offset="85.3%" stop-color="#ec1a36"/><stop offset="88.2%" stop-color="#ec182e"/><stop offset="91.2%" stop-color="#ec162a"/><stop offset="94.1%" stop-color="#ec1527"/><stop offset="97.1%" stop-color="#ec1525"/><stop offset="100%" stop-color="#ec1423"/></linearGradient><linearGradient id="g93" gradientUnits="userSpaceOnUse" x1="281.4" x2="639.1" y1="0" y2="0"><stop offset="0%" stop-color="#3a87d0"/><stop offset="3%" stop-color="#3d81cf"/><stop offset="6.1%" stop-color="#3d89d5"/><stop offset="9.1%" stop-color="#4377ca"/><stop offset="12.1%" stop-color="#5276cc"/><stop offset="15.2%" stop-color="#5e79cd"/><stop offset="18.2%" stop-color="#6676cb"/><stop offset="21.2%" stop-color="#6972c6"/><stop offset="24.2%" stop-color="#7173c6"/><stop offset="27.3%" stop-color="#807ecb"/><stop offset="30.3%" stop-color="#938fd2"/><stop offset="33.3%" stop-color="#9f99d6"/><stop offset="36.4%" stop-color="#ada1d9"/><stop offset="39.4%" stop-color="#bcaadc"/><stop offset="42.4%" stop-color="#c8b0df"/><stop offset="45.5%" stop-color="#d5b5e1"/><stop offset="48.5%" stop-color="#ddb3e1"/><stop offset="51.5%" stop-color="#e1aadc"/><stop offset="54.5%" stop-color="#e79bd0"/><stop offset="57.6%" stop-color="#ed86c0"/><stop offset="60.6%" stop-color="#ee71b0"/><stop offset="63.6%" stop-color="#ee589c"/><stop offset="66.7%" stop-color="#ed428a"/><stop offset="69.7%" stop-color="#ec307a"/><stop offset="72.7%" stop-color="#ec266c"/><stop offset="75.8%" stop-color="#ec225f"/><stop offset="78.8%" stop-color="#ec2155"/><stop offset="81.8%" stop-color="#ec1f4b"/><stop offset="84.8%" stop-color="#ed1d41"/><stop offset="87.9%" stop-color="#ec1a38"/><stop offset="90.9%" stop-color="#ec1830"/><stop offset="93.9%" stop-color="#ec162b"/><stop offset="97%" stop-color="#ec1529"/><stop offset="100%" stop-color="#ec1426"/></linearGradient><linearGradient id="g94" gradientUnits="userSpaceOnUse" x1="282.5" x2="630.9" y1="0" y2="0"><stop offset="0%" stop-color="#387ecb"/><stop offset="3.1%" stop-color="#3a73c6"/><stop offset="6.2%" stop-color="#3b7bcd"/><stop offset="9.4%" stop-color="#416fc6"/><stop offset="12.5%" stop-color="#4e6ec8"/><stop offset="15.6%" stop-color="#5971c8"/><stop offset="18.7%" stop-color="#606ec6"/><stop offset="21.9%" stop-color="#646cc2"/><stop offset="25%" stop-color="#6e6fc4"/><stop offset="28.1%" stop-color="#7d7bc9"/><stop offset="31.3%" stop-color="#8e8acf"/><stop offset="34.4%" stop-color="#9b94d4"/><stop offset="37.5%" stop-color="#aa9ed7"/><stop offset="40.6%" stop-color="#b9a6da"/><stop offset="43.8%" stop-color="#c6acdd"/><stop offset="46.9%" stop-color="#d3b0df"/><stop offset="50%" stop-color="#daadde"/><stop offset="53.1%" stop-color="#e0a3d8"/><stop offset="56.2%" stop-color="#e692cc"/><stop offset="59.4%" stop-color="#eb7cbc"/><stop offset="62.5%" stop-color="#ec69ae"/><stop offset="65.6%" stop-color="#ed539c"/><stop offset="68.8%" stop-color="#ec3e8b"/><stop offset="71.9%" stop-color="#eb2e7d"/><stop offset="75%" stop-color="#ec266e"/><stop offset="78.1%" stop-color="#ec2362"/><stop offset="81.2%" stop-color="#ec2158"/><stop offset="84.4%" stop-color="#ec1f4e"/><stop offset="87.5%" stop-color="#ed1d44"/><stop offset="90.6%" stop-color="#ec1a3a"/><stop offset="93.7%" stop-color="#ec1831"/><stop offset="96.9%" stop-color="#eb162d"/><stop offset="100%" stop-color="#eb142a"/></linearGradient><linearGradient id="g95" gradientUnits="userSpaceOnUse" x1="283.5" x2="622.7" y1="0" y2="0"><stop offset="0%" stop-color="#3775c5"/><stop offset="3.2%" stop-color="#376dc3"/><stop offset="6.5%" stop-color="#396fc6"/><stop offset="9.7%" stop-color="#3f69c2"/><stop offset="12.9%" stop-color="#4b67c4"/><stop offset="16.1%" stop-color="#5469c4"/><stop offset="19.4%" stop-color="#5b68c2"/><stop offset="22.6%" stop-color="#6067c0"/><stop offset="25.8%" stop-color="#6b6cc2"/><stop offset="29%" stop-color="#7a78c7"/><stop offset="32.3%" stop-color="#8985cd"/><stop offset="35.5%" stop-color="#9890d1"/><stop offset="38.7%" stop-color="#a79ad4"/><stop offset="41.9%" stop-color="#b5a1d7"/><stop offset="45.2%" stop-color="#c3a6da"/><stop offset="48.4%" stop-color="#d1aadc"/><stop offset="51.6%" stop-color="#d8a6db"/><stop offset="54.8%" stop-color="#df9cd5"/><stop offset="58.1%" stop-color="#e589c7"/><stop offset="61.3%" stop-color="#ea73b7"/><stop offset="64.5%" stop-color="#eb62ac"/><stop offset="67.7%" stop-color="#eb4e9b"/><stop offset="71%" stop-color="#eb3a8b"/><stop offset="74.2%" stop-color="#eb2c7e"/><stop offset="77.4%" stop-color="#eb266f"/><stop offset="80.6%" stop-color="#ec2364"/><stop offset="83.9%" stop-color="#ec215a"/><stop offset="87.1%" stop-color="#ed1f50"/><stop offset="90.3%" stop-color="#ed1d46"/><stop offset="93.5%" stop-color="#ec1a3b"/><stop offset="96.8%" stop-color="#eb1733"/><stop offset="100%" stop-color="#eb152f"/></linearGradient><linearGradient id="g96" gradientUnits="userSpaceOnUse" x1="284.6" x2="614.5" y1="0" y2="0"><stop offset="0%" stop-color="#356ec1"/><stop offset="3.3%" stop-color="#3567bf"/><stop offset="6.7%" stop-color="#3668c1"/><stop offset="10%" stop-color="#3c63be"/><stop offset="13.3%" stop-color="#4762c0"/><stop offset="16.7%" stop-color="#5063c0"/><stop offset="20%" stop-color="#5763be"/><stop offset="23.3%" stop-color="#5c64bd"/><stop offset="26.7%" stop-color="#6868c0"/><stop offset="30%" stop-color="#7776c6"/><stop offset="33.3%" stop-color="#8481ca"/><stop offset="36.7%" stop-color="#958ccf"/><stop offset="40%" stop-color="#a496d2"/><stop offset="43.3%" stop-color="#b19cd5"/><stop offset="46.7%" stop-color="#c0a1d8"/><stop offset="50%" stop-color="#cea4da"/><stop offset="53.3%" stop-color="#d59fd7"/><stop offset="56.7%" stop-color="#dd96d1"/><stop offset="60%" stop-color="#e381c3"/><stop offset="63.3%" stop-color="#e76db6"/><stop offset="66.7%" stop-color="#e95caa"/><stop offset="70%" stop-color="#ea499a"/><stop offset="73.3%" stop-color="#eb378b"/><stop offset="76.7%" stop-color="#eb2b7d"/><stop offset="80%" stop-color="#eb2570"/><stop offset="83.3%" stop-color="#ec2365"/><stop offset="86.7%" stop-color="#ec225c"/><stop offset="90%" stop-color="#ec1f51"/><stop offset="93.3%" stop-color="#ed1d47"/><stop offset="96.7%" stop-color="#ec193c"/><stop offset="100%" stop-color="#eb1735"/></linearGradient><linearGradient id="g97" gradientUnits="userSpaceOnUse" x1="285.7" x2="606.3" y1="0" y2="0"><stop offset="0%" stop-color="#3367bc"/><stop offset="3.3%" stop-color="#3361bb"/><stop offset="6.7%" stop-color="#3463bc"/><stop offset="10%" stop-color="#385eba"/><stop offset="13.3%" stop-color="#425dbb"/><stop offset="16.7%" stop-color="#4b5fbc"/><stop offset="20%" stop-color="#515fbc"/><stop offset="23.3%" stop-color="#5660bb"/><stop offset="26.7%" stop-color="#6164bd"/><stop offset="30%" stop-color="#6f71c3"/><stop offset="33.3%" stop-color="#7d7cc8"/><stop offset="36.7%" stop-color="#8c86cb"/><stop offset="40%" stop-color="#9c8ecf"/><stop offset="43.3%" stop-color="#a894d1"/><stop offset="46.7%" stop-color="#b599d3"/><stop offset="50%" stop-color="#c79ed6"/><stop offset="53.3%" stop-color="#cd9bd5"/><stop offset="56.7%" stop-color="#d595d2"/><stop offset="60%" stop-color="#db86c8"/><stop offset="63.3%" stop-color="#e273bb"/><stop offset="66.7%" stop-color="#e663b1"/><stop offset="70%" stop-color="#e852a3"/><stop offset="73.3%" stop-color="#e94094"/><stop offset="76.7%" stop-color="#ea3187"/><stop offset="80%" stop-color="#ea287a"/><stop offset="83.3%" stop-color="#eb256e"/><stop offset="86.7%" stop-color="#ec2366"/><stop offset="90%" stop-color="#ec215d"/><stop offset="93.3%" stop-color="#ec1f52"/><stop offset="96.7%" stop-color="#ec1c47"/><stop offset="100%" stop-color="#eb193e"/></linearGradient><linearGradient id="g98" gradientUnits="userSpaceOnUse" x1="286.9" x2="598.1" y1="0" y2="0"><stop offset="0%" stop-color="#3162b9"/><stop offset="3.4%" stop-color="#315cb6"/><stop offset="6.9%" stop-color="#325fb8"/><stop offset="10.3%" stop-color="#3558b5"/><stop offset="13.8%" stop-color="#3f5ab8"/><stop offset="17.2%" stop-color="#475bb9"/><stop offset="20.7%" stop-color="#4d5cb9"/><stop offset="24.1%" stop-color="#515fb9"/><stop offset="27.6%" stop-color="#5e64bc"/><stop offset="31%" stop-color="#6d70c2"/><stop offset="34.5%" stop-color="#7c7bc7"/><stop offset="37.9%" stop-color="#8b83ca"/><stop offset="41.4%" stop-color="#998bcd"/><stop offset="44.8%" stop-color="#a58fcf"/><stop offset="48.3%" stop-color="#b494d1"/><stop offset="51.7%" stop-color="#c297d2"/><stop offset="55.2%" stop-color="#c894d2"/><stop offset="58.6%" stop-color="#cf8dce"/><stop offset="62.1%" stop-color="#d77fc4"/><stop offset="65.5%" stop-color="#df6fb9"/><stop offset="69%" stop-color="#e560af"/><stop offset="72.4%" stop-color="#e74ea1"/><stop offset="75.9%" stop-color="#e83c92"/><stop offset="79.3%" stop-color="#e92e85"/><stop offset="82.8%" stop-color="#ea2879"/><stop offset="86.2%" stop-color="#eb256f"/><stop offset="89.7%" stop-color="#eb2367"/><stop offset="93.1%" stop-color="#ec215d"/><stop offset="96.6%" stop-color="#ec1e52"/><stop offset="100%" stop-color="#eb1b48"/></linearGradient><linearGradient id="g99" gradientUnits="userSpaceOnUse" x1="288" x2="589.9" y1="0" y2="0"><stop offset="0%" stop-color="#305eb5"/><stop offset="3.6%" stop-color="#3159b3"/><stop offset="7.1%" stop-color="#315cb5"/><stop offset="10.7%" stop-color="#3456b3"/><stop offset="14.3%" stop-color="#3d57b5"/><stop offset="17.9%" stop-color="#4359b6"/><stop offset="21.4%" stop-color="#4759b6"/><stop offset="25%" stop-color="#4c5eb7"/><stop offset="28.6%" stop-color="#5b65bb"/><stop offset="32.1%" stop-color="#6c70c1"/><stop offset="35.7%" stop-color="#7b7ac6"/><stop offset="39.3%" stop-color="#8981c8"/><stop offset="42.9%" stop-color="#9787cb"/><stop offset="46.4%" stop-color="#a38acc"/><stop offset="50%" stop-color="#b28ece"/><stop offset="53.6%" stop-color="#be90cf"/><stop offset="57.1%" stop-color="#c28dce"/><stop offset="60.7%" stop-color="#c885c9"/><stop offset="64.3%" stop-color="#d379c1"/><stop offset="67.9%" stop-color="#dc6bb7"/><stop offset="71.4%" stop-color="#e35cac"/><stop offset="75%" stop-color="#e54a9e"/><stop offset="78.6%" stop-color="#e73890"/><stop offset="82.1%" stop-color="#e82c83"/><stop offset="85.7%" stop-color="#e92778"/><stop offset="89.3%" stop-color="#ea256f"/><stop offset="92.9%" stop-color="#eb2366"/><stop offset="96.4%" stop-color="#eb205c"/><stop offset="100%" stop-color="#eb1d52"/></linearGradient><linearGradient id="g100" gradientUnits="userSpaceOnUse" x1="289.3" x2="581.7" y1="0" y2="0"><stop offset="0%" stop-color="#2f5cb3"/><stop offset="3.7%" stop-color="#3059b1"/><stop offset="7.4%" stop-color="#3059b2"/><stop offset="11.1%" stop-color="#3455b1"/><stop offset="14.8%" stop-color="#3a56b3"/><stop offset="18.5%" stop-color="#4057b4"/><stop offset="22.2%" stop-color="#4158b3"/><stop offset="25.9%" stop-color="#495eb6"/><stop offset="29.6%" stop-color="#5965bb"/><stop offset="33.3%" stop-color="#6a70c0"/><stop offset="37%" stop-color="#7978c4"/><stop offset="40.7%" stop-color="#877ec6"/><stop offset="44.4%" stop-color="#9483c8"/><stop offset="48.1%" stop-color="#a085c9"/><stop offset="51.9%" stop-color="#b088ca"/><stop offset="55.6%" stop-color="#ba89cb"/><stop offset="59.3%" stop-color="#bb85c9"/><stop offset="63%" stop-color="#c47ec5"/><stop offset="66.7%" stop-color="#cf73bd"/><stop offset="70.4%" stop-color="#d867b4"/><stop offset="74.1%" stop-color="#df57a9"/><stop offset="77.8%" stop-color="#e4469b"/><stop offset="81.5%" stop-color="#e6348d"/><stop offset="85.2%" stop-color="#e72a81"/><stop offset="88.9%" stop-color="#e92777"/><stop offset="92.6%" stop-color="#ea266e"/><stop offset="96.3%" stop-color="#ea2266"/><stop offset="100%" stop-color="#ea1f5c"/></linearGradient><linearGradient id="g101" gradientUnits="userSpaceOnUse" x1="290.5" x2="573.4" y1="0" y2="0"><stop offset="0%" stop-color="#2f5bb1"/><stop offset="3.8%" stop-color="#3058b0"/><stop offset="7.7%" stop-color="#3057b0"/><stop offset="11.5%" stop-color="#3355b0"/><stop offset="15.4%" stop-color="#3855b1"/><stop offset="19.2%" stop-color="#3c55b2"/><stop offset="23.1%" stop-color="#3f58b2"/><stop offset="26.9%" stop-color="#485db5"/><stop offset="30.8%" stop-color="#5765ba"/><stop offset="34.6%" stop-color="#676fbf"/><stop offset="38.5%" stop-color="#7676c2"/><stop offset="42.3%" stop-color="#857bc4"/><stop offset="46.2%" stop-color="#917ec6"/><stop offset="50%" stop-color="#9d7fc6"/><stop offset="53.8%" stop-color="#ae82c6"/><stop offset="57.7%" stop-color="#b582c7"/><stop offset="61.5%" stop-color="#b77ec5"/><stop offset="65.4%" stop-color="#c278c1"/><stop offset="69.2%" stop-color="#cc6eba"/><stop offset="73.1%" stop-color="#d463b2"/><stop offset="76.9%" stop-color="#dd52a6"/><stop offset="80.8%" stop-color="#e34198"/><stop offset="84.6%" stop-color="#e6308a"/><stop offset="88.5%" stop-color="#e62980"/><stop offset="92.3%" stop-color="#e82676"/><stop offset="96.2%" stop-color="#e9246d"/><stop offset="100%" stop-color="#e92164"/></linearGradient><linearGradient id="g102" gradientUnits="userSpaceOnUse" x1="291.8" x2="565.2" y1="0" y2="0"><stop offset="0%" stop-color="#2e5ab0"/><stop offset="4%" stop-color="#2f58ae"/><stop offset="8%" stop-color="#3056af"/><stop offset="12%" stop-color="#3254af"/><stop offset="16%" stop-color="#3654b0"/><stop offset="20%" stop-color="#3a55b0"/><stop offset="24%" stop-color="#3e58b1"/><stop offset="28%" stop-color="#475db4"/><stop offset="32%" stop-color="#5564b9"/><stop offset="36%" stop-color="#646dbd"/><stop offset="40%" stop-color="#7374c0"/><stop offset="44%" stop-color="#8278c2"/><stop offset="48%" stop-color="#8d79c3"/><stop offset="52%" stop-color="#9879c3"/><stop offset="56%" stop-color="#ab7bc3"/><stop offset="60%" stop-color="#b17bc3"/><stop offset="64%" stop-color="#b778c2"/><stop offset="68%" stop-color="#c172bd"/><stop offset="72%" stop-color="#c869b7"/><stop offset="76%" stop-color="#d05eae"/><stop offset="80%" stop-color="#db4da2"/><stop offset="84%" stop-color="#e23d95"/><stop offset="88%" stop-color="#e42e88"/><stop offset="92%" stop-color="#e5287e"/><stop offset="96%" stop-color="#e62575"/><stop offset="100%" stop-color="#e7236c"/></linearGradient><linearGradient id="g103" gradientUnits="userSpaceOnUse" x1="293.1" x2="557" y1="0" y2="0"><stop offset="0%" stop-color="#2e59af"/><stop offset="4.2%" stop-color="#2f58ae"/><stop offset="8.3%" stop-color="#2f56ae"/><stop offset="12.5%" stop-color="#3154ae"/><stop offset="16.7%" stop-color="#3553af"/><stop offset="20.8%" stop-color="#3854af"/><stop offset="25%" stop-color="#3d58b1"/><stop offset="29.2%" stop-color="#465db4"/><stop offset="33.3%" stop-color="#5364b7"/><stop offset="37.5%" stop-color="#606bbb"/><stop offset="41.7%" stop-color="#7071be"/><stop offset="45.8%" stop-color="#7e73bf"/><stop offset="50%" stop-color="#8973c0"/><stop offset="54.2%" stop-color="#9472c0"/><stop offset="58.3%" stop-color="#a575c0"/><stop offset="62.5%" stop-color="#ae74c0"/><stop offset="66.7%" stop-color="#b972be"/><stop offset="70.8%" stop-color="#bf6bb9"/><stop offset="75%" stop-color="#c565b3"/><stop offset="79.2%" stop-color="#ce58aa"/><stop offset="83.3%" stop-color="#db489e"/><stop offset="87.5%" stop-color="#e13992"/><stop offset="91.7%" stop-color="#e32d86"/><stop offset="95.8%" stop-color="#e4277c"/><stop offset="100%" stop-color="#e52474"/></linearGradient><linearGradient id="g104" gradientUnits="userSpaceOnUse" x1="294.5" x2="548.8" y1="0" y2="0"><stop offset="0%" stop-color="#2d59ae"/><stop offset="4.2%" stop-color="#2e57ad"/><stop offset="8.3%" stop-color="#2e55ad"/><stop offset="12.5%" stop-color="#3054ad"/><stop offset="16.7%" stop-color="#3353ae"/><stop offset="20.8%" stop-color="#3654ae"/><stop offset="25%" stop-color="#3a57b0"/><stop offset="29.2%" stop-color="#425bb2"/><stop offset="33.3%" stop-color="#4d60b5"/><stop offset="37.5%" stop-color="#5966b8"/><stop offset="41.7%" stop-color="#666bba"/><stop offset="45.8%" stop-color="#756ebc"/><stop offset="50%" stop-color="#7f6ebd"/><stop offset="54.2%" stop-color="#896dbd"/><stop offset="58.3%" stop-color="#996ebd"/><stop offset="62.5%" stop-color="#a56fbd"/><stop offset="66.7%" stop-color="#af6dbb"/><stop offset="70.8%" stop-color="#b869b8"/><stop offset="75%" stop-color="#be63b3"/><stop offset="79.2%" stop-color="#c35dae"/><stop offset="83.3%" stop-color="#d14da3"/><stop offset="87.5%" stop-color="#db4099"/><stop offset="91.7%" stop-color="#df338d"/><stop offset="95.8%" stop-color="#e12b83"/><stop offset="100%" stop-color="#e2267b"/></linearGradient><linearGradient id="g105" gradientUnits="userSpaceOnUse" x1="295.9" x2="540.6" y1="0" y2="0"><stop offset="0%" stop-color="#2c58ad"/><stop offset="4.3%" stop-color="#2d57ac"/><stop offset="8.7%" stop-color="#2e55ac"/><stop offset="13%" stop-color="#2f53ac"/><stop offset="17.4%" stop-color="#3253ad"/><stop offset="21.7%" stop-color="#3554ae"/><stop offset="26.1%" stop-color="#3957af"/><stop offset="30.4%" stop-color="#415bb1"/><stop offset="34.8%" stop-color="#4c5fb4"/><stop offset="39.1%" stop-color="#5764b6"/><stop offset="43.5%" stop-color="#6468b8"/><stop offset="47.8%" stop-color="#706aba"/><stop offset="52.2%" stop-color="#7b69ba"/><stop offset="56.5%" stop-color="#8668ba"/><stop offset="60.9%" stop-color="#9569ba"/><stop offset="65.2%" stop-color="#a268b9"/><stop offset="69.6%" stop-color="#ad66b7"/><stop offset="73.9%" stop-color="#b662b4"/><stop offset="78.3%" stop-color="#bc5caf"/><stop offset="82.6%" stop-color="#c553a8"/><stop offset="87%" stop-color="#d1469e"/><stop offset="91.3%" stop-color="#d93a95"/><stop offset="95.7%" stop-color="#dd308b"/><stop offset="100%" stop-color="#df2982"/></linearGradient><linearGradient id="g106" gradientUnits="userSpaceOnUse" x1="297.3" x2="532.4" y1="0" y2="0"><stop offset="0%" stop-color="#2c58ac"/><stop offset="4.5%" stop-color="#2c57ac"/><stop offset="9.1%" stop-color="#2d55ac"/><stop offset="13.6%" stop-color="#2f53ac"/><stop offset="18.2%" stop-color="#3153ac"/><stop offset="22.7%" stop-color="#3454ad"/><stop offset="27.3%" stop-color="#3957ae"/><stop offset="31.8%" stop-color="#405ab0"/><stop offset="36.4%" stop-color="#4a5eb2"/><stop offset="40.9%" stop-color="#5462b4"/><stop offset="45.5%" stop-color="#6165b6"/><stop offset="50%" stop-color="#6d66b7"/><stop offset="54.5%" stop-color="#7764b8"/><stop offset="59.1%" stop-color="#8363b7"/><stop offset="63.6%" stop-color="#9263b7"/><stop offset="68.2%" stop-color="#9f62b6"/><stop offset="72.7%" stop-color="#aa5fb3"/><stop offset="77.3%" stop-color="#b35aaf"/><stop offset="81.8%" stop-color="#bb54aa"/><stop offset="86.4%" stop-color="#c64aa2"/><stop offset="90.9%" stop-color="#d13e99"/><stop offset="95.5%" stop-color="#d73591"/><stop offset="100%" stop-color="#db2d88"/></linearGradient><linearGradient id="g107" gradientUnits="userSpaceOnUse" x1="298.8" x2="524.2" y1="0" y2="0"><stop offset="0%" stop-color="#2b57ac"/><stop offset="4.8%" stop-color="#2c56ab"/><stop offset="9.5%" stop-color="#2d54ab"/><stop offset="14.3%" stop-color="#2e53ab"/><stop offset="19%" stop-color="#3053ab"/><stop offset="23.8%" stop-color="#3354ac"/><stop offset="28.6%" stop-color="#3856ae"/><stop offset="33.3%" stop-color="#4059b0"/><stop offset="38.1%" stop-color="#485db1"/><stop offset="42.9%" stop-color="#525fb2"/><stop offset="47.6%" stop-color="#5e61b4"/><stop offset="52.4%" stop-color="#6a61b5"/><stop offset="57.1%" stop-color="#7460b5"/><stop offset="61.9%" stop-color="#805eb4"/><stop offset="66.7%" stop-color="#8f5eb4"/><stop offset="71.4%" stop-color="#9d5cb2"/><stop offset="76.2%" stop-color="#a858af"/><stop offset="81%" stop-color="#b253ab"/><stop offset="85.7%" stop-color="#bb4da5"/><stop offset="90.5%" stop-color="#c6439d"/><stop offset="95.2%" stop-color="#d03895"/><stop offset="100%" stop-color="#d5318e"/></linearGradient><linearGradient id="g108" gradientUnits="userSpaceOnUse" x1="300.3" x2="516" y1="0" y2="0"><stop offset="0%" stop-color="#2a57ab"/><stop offset="5%" stop-color="#2b55ab"/><stop offset="10%" stop-color="#2c54aa"/><stop offset="15%" stop-color="#2e53aa"/><stop offset="20%" stop-color="#3053ab"/><stop offset="25%" stop-color="#3254ac"/><stop offset="30%" stop-color="#3756ad"/><stop offset="35%" stop-color="#3f59af"/><stop offset="40%" stop-color="#475bb0"/><stop offset="45%" stop-color="#505cb0"/><stop offset="50%" stop-color="#5c5eb2"/><stop offset="55%" stop-color="#675eb3"/><stop offset="60%" stop-color="#715bb2"/><stop offset="65%" stop-color="#7e5ab2"/><stop offset="70%" stop-color="#8e59b1"/><stop offset="75%" stop-color="#9b55ae"/><stop offset="80%" stop-color="#a751ab"/><stop offset="85%" stop-color="#b14da7"/><stop offset="90%" stop-color="#bb46a1"/><stop offset="95%" stop-color="#c63c99"/><stop offset="100%" stop-color="#ce3492"/></linearGradient><linearGradient id="g109" gradientUnits="userSpaceOnUse" x1="301.9" x2="507.8" y1="0" y2="0"><stop offset="0%" stop-color="#2a56ab"/><stop offset="5.3%" stop-color="#2b55aa"/><stop offset="10.5%" stop-color="#2c53aa"/><stop offset="15.8%" stop-color="#2d53aa"/><stop offset="21.1%" stop-color="#2f53ab"/><stop offset="26.3%" stop-color="#3254ab"/><stop offset="31.6%" stop-color="#3756ad"/><stop offset="36.8%" stop-color="#3e58ae"/><stop offset="42.1%" stop-color="#4659ae"/><stop offset="47.4%" stop-color="#4e5aaf"/><stop offset="52.6%" stop-color="#5b5bb0"/><stop offset="57.9%" stop-color="#655ab1"/><stop offset="63.2%" stop-color="#6e56b0"/><stop offset="68.4%" stop-color="#7d56af"/><stop offset="73.7%" stop-color="#8d54ae"/><stop offset="78.9%" stop-color="#9a4fab"/><stop offset="84.2%" stop-color="#a54ba7"/><stop offset="89.5%" stop-color="#b047a3"/><stop offset="94.7%" stop-color="#bb409d"/><stop offset="100%" stop-color="#c53896"/></linearGradient><linearGradient id="g110" gradientUnits="userSpaceOnUse" x1="303.5" x2="499.6" y1="0" y2="0"><stop offset="0%" stop-color="#2a55aa"/><stop offset="5.6%" stop-color="#2b54aa"/><stop offset="11.1%" stop-color="#2c53a9"/><stop offset="16.7%" stop-color="#2d52a9"/><stop offset="22.2%" stop-color="#2f53aa"/><stop offset="27.8%" stop-color="#3254ab"/><stop offset="33.3%" stop-color="#3756ac"/><stop offset="38.9%" stop-color="#3e57ad"/><stop offset="44.4%" stop-color="#4558ad"/><stop offset="50%" stop-color="#4f59ae"/><stop offset="55.6%" stop-color="#5a59af"/><stop offset="61.1%" stop-color="#6356af"/><stop offset="66.7%" stop-color="#6e53ae"/><stop offset="72.2%" stop-color="#7d52ad"/><stop offset="77.8%" stop-color="#8c50ab"/><stop offset="83.3%" stop-color="#994aa7"/><stop offset="88.9%" stop-color="#a546a3"/><stop offset="94.4%" stop-color="#b0429f"/><stop offset="100%" stop-color="#ba3b9a"/></linearGradient><linearGradient id="g111" gradientUnits="userSpaceOnUse" x1="305.1" x2="491.4" y1="0" y2="0"><stop offset="0%" stop-color="#2955aa"/><stop offset="5.9%" stop-color="#2a54a9"/><stop offset="11.8%" stop-color="#2b53a9"/><stop offset="17.6%" stop-color="#2d52a9"/><stop offset="23.5%" stop-color="#2f53aa"/><stop offset="29.4%" stop-color="#3254ab"/><stop offset="35.3%" stop-color="#3755ab"/><stop offset="41.2%" stop-color="#3e56ac"/><stop offset="47.1%" stop-color="#4557ac"/><stop offset="52.9%" stop-color="#4f58ad"/><stop offset="58.8%" stop-color="#5956ad"/><stop offset="64.7%" stop-color="#6354ad"/><stop offset="70.6%" stop-color="#6e51ac"/><stop offset="76.5%" stop-color="#7e4fab"/><stop offset="82.4%" stop-color="#8c4ca8"/><stop offset="88.2%" stop-color="#9946a4"/><stop offset="94.1%" stop-color="#a541a0"/><stop offset="100%" stop-color="#af3d9c"/></linearGradient><linearGradient id="g112" gradientUnits="userSpaceOnUse" x1="306.8" x2="483.2" y1="0" y2="0"><stop offset="0%" stop-color="#2954a9"/><stop offset="5.9%" stop-color="#2a53a9"/><stop offset="11.8%" stop-color="#2b52a8"/><stop offset="17.6%" stop-color="#2c52a9"/><stop offset="23.5%" stop-color="#2e53a9"/><stop offset="29.4%" stop-color="#3153aa"/><stop offset="35.3%" stop-color="#3555ab"/><stop offset="41.2%" stop-color="#3b56ab"/><stop offset="47.1%" stop-color="#4256ac"/><stop offset="52.9%" stop-color="#4a56ac"/><stop offset="58.8%" stop-color="#5355ac"/><stop offset="64.7%" stop-color="#5c53ac"/><stop offset="70.6%" stop-color="#6650ab"/><stop offset="76.5%" stop-color="#734eaa"/><stop offset="82.4%" stop-color="#814ba8"/><stop offset="88.2%" stop-color="#8e47a5"/><stop offset="94.1%" stop-color="#9a42a1"/><stop offset="100%" stop-color="#a43e9d"/></linearGradient><linearGradient id="g113" gradientUnits="userSpaceOnUse" x1="308.6" x2="475" y1="0" y2="0"><stop offset="0%" stop-color="#2954a9"/><stop offset="6.3%" stop-color="#2a53a8"/><stop offset="12.5%" stop-color="#2b52a8"/><stop offset="18.8%" stop-color="#2c52a8"/><stop offset="25%" stop-color="#2e53a9"/><stop offset="31.3%" stop-color="#3153aa"/><stop offset="37.5%" stop-color="#3654aa"/><stop offset="43.8%" stop-color="#3b55ab"/><stop offset="50%" stop-color="#4256ab"/><stop offset="56.3%" stop-color="#4a55ab"/><stop offset="62.5%" stop-color="#5354ab"/><stop offset="68.7%" stop-color="#5c51ab"/><stop offset="75%" stop-color="#674eaa"/><stop offset="81.2%" stop-color="#744ba8"/><stop offset="87.5%" stop-color="#8149a6"/><stop offset="93.7%" stop-color="#8e44a3"/><stop offset="100%" stop-color="#993f9f"/></linearGradient><linearGradient id="g114" gradientUnits="userSpaceOnUse" x1="310.4" x2="466.8" y1="0" y2="0"><stop offset="0%" stop-color="#2953a8"/><stop offset="6.7%" stop-color="#2a52a8"/><stop offset="13.3%" stop-color="#2b52a8"/><stop offset="20%" stop-color="#2d52a8"/><stop offset="26.7%" stop-color="#2f53a9"/><stop offset="33.3%" stop-color="#3253a9"/><stop offset="40%" stop-color="#3654aa"/><stop offset="46.7%" stop-color="#3c55aa"/><stop offset="53.3%" stop-color="#4255aa"/><stop offset="60%" stop-color="#4a54aa"/><stop offset="66.7%" stop-color="#5352aa"/><stop offset="73.3%" stop-color="#5c4fa9"/><stop offset="80%" stop-color="#674ba8"/><stop offset="86.7%" stop-color="#7449a7"/><stop offset="93.3%" stop-color="#8246a4"/><stop offset="100%" stop-color="#8d41a1"/></linearGradient><linearGradient id="g115" gradientUnits="userSpaceOnUse" x1="312.3" x2="458.6" y1="0" y2="0"><stop offset="0%" stop-color="#2953a8"/><stop offset="7.1%" stop-color="#2b52a7"/><stop offset="14.3%" stop-color="#2b52a7"/><stop offset="21.4%" stop-color="#2d52a8"/><stop offset="28.6%" stop-color="#2f52a8"/><stop offset="35.7%" stop-color="#3253a9"/><stop offset="42.9%" stop-color="#3754a9"/><stop offset="50%" stop-color="#3c54aa"/><stop offset="57.1%" stop-color="#4355aa"/><stop offset="64.3%" stop-color="#4a53aa"/><stop offset="71.4%" stop-color="#5350a9"/><stop offset="78.6%" stop-color="#5d4da8"/><stop offset="85.7%" stop-color="#6849a7"/><stop offset="92.9%" stop-color="#7546a5"/><stop offset="100%" stop-color="#8243a2"/></linearGradient><linearGradient id="g116" gradientUnits="userSpaceOnUse" x1="314.2" x2="450.4" y1="0" y2="0"><stop offset="0%" stop-color="#2953a8"/><stop offset="7.7%" stop-color="#2a52a7"/><stop offset="15.4%" stop-color="#2b52a7"/><stop offset="23.1%" stop-color="#2d52a8"/><stop offset="30.8%" stop-color="#2f52a8"/><stop offset="38.5%" stop-color="#3353a9"/><stop offset="46.2%" stop-color="#3753a9"/><stop offset="53.8%" stop-color="#3c54a9"/><stop offset="61.5%" stop-color="#4354a9"/><stop offset="69.2%" stop-color="#4b52a9"/><stop offset="76.9%" stop-color="#544ea8"/><stop offset="84.6%" stop-color="#5e4ba7"/><stop offset="92.3%" stop-color="#6947a5"/><stop offset="100%" stop-color="#7644a3"/></linearGradient><linearGradient id="g117" gradientUnits="userSpaceOnUse" x1="316.2" x2="442.2" y1="0" y2="0"><stop offset="0%" stop-color="#2952a8"/><stop offset="8.3%" stop-color="#2a52a7"/><stop offset="16.7%" stop-color="#2c52a7"/><stop offset="25%" stop-color="#2d52a8"/><stop offset="33.3%" stop-color="#3052a8"/><stop offset="41.7%" stop-color="#3352a8"/><stop offset="50%" stop-color="#3853a8"/><stop offset="58.3%" stop-color="#3d53a9"/><stop offset="66.7%" stop-color="#4353a8"/><stop offset="75%" stop-color="#4b50a8"/><stop offset="83.3%" stop-color="#554da7"/><stop offset="91.7%" stop-color="#5f49a6"/><stop offset="100%" stop-color="#6b45a4"/></linearGradient><linearGradient id="g118" gradientUnits="userSpaceOnUse" x1="318.3" x2="434" y1="0" y2="0"><stop offset="0%" stop-color="#2952a7"/><stop offset="9.1%" stop-color="#2a52a7"/><stop offset="18.2%" stop-color="#2c52a7"/><stop offset="27.3%" stop-color="#2e52a8"/><stop offset="36.4%" stop-color="#3052a8"/><stop offset="45.5%" stop-color="#3452a8"/><stop offset="54.5%" stop-color="#3852a8"/><stop offset="63.6%" stop-color="#3d53a8"/><stop offset="72.7%" stop-color="#4352a8"/><stop offset="81.8%" stop-color="#4c4fa7"/><stop offset="90.9%" stop-color="#564ba6"/><stop offset="100%" stop-color="#6047a4"/></linearGradient><linearGradient id="g119" gradientUnits="userSpaceOnUse" x1="320.6" x2="425.8" y1="0" y2="0"><stop offset="0%" stop-color="#2952a7"/><stop offset="10%" stop-color="#2a52a7"/><stop offset="20%" stop-color="#2c52a7"/><stop offset="30%" stop-color="#2e52a7"/><stop offset="40%" stop-color="#3152a8"/><stop offset="50%" stop-color="#3552a8"/><stop offset="60%" stop-color="#3952a8"/><stop offset="70%" stop-color="#3e52a7"/><stop offset="80%" stop-color="#4451a7"/><stop offset="90%" stop-color="#4d4da6"/><stop offset="100%" stop-color="#5749a5"/></linearGradient><linearGradient id="g120" gradientUnits="userSpaceOnUse" x1="322.9" x2="417.6" y1="0" y2="0"><stop offset="0%" stop-color="#2952a7"/><stop offset="11.1%" stop-color="#2b52a7"/><stop offset="22.2%" stop-color="#2c52a7"/><stop offset="33.3%" stop-color="#2f52a7"/><stop offset="44.4%" stop-color="#3251a7"/><stop offset="55.6%" stop-color="#3651a7"/><stop offset="66.7%" stop-color="#3a51a7"/><stop offset="77.8%" stop-color="#3f51a7"/><stop offset="88.9%" stop-color="#464fa6"/><stop offset="100%" stop-color="#4f4ba5"/></linearGradient><linearGradient id="g121" gradientUnits="userSpaceOnUse" x1="325.3" x2="409.4" y1="0" y2="0"><stop offset="0%" stop-color="#2952a7"/><stop offset="12.5%" stop-color="#2b52a7"/><stop offset="25%" stop-color="#2d52a7"/><stop offset="37.5%" stop-color="#2f52a7"/><stop offset="50%" stop-color="#3251a7"/><stop offset="62.5%" stop-color="#3650a7"/><stop offset="75%" stop-color="#3b50a6"/><stop offset="87.5%" stop-color="#404fa6"/><stop offset="100%" stop-color="#484da5"/></linearGradient><linearGradient id="g122" gradientUnits="userSpaceOnUse" x1="327.9" x2="401.2" y1="0" y2="0"><stop offset="0%" stop-color="#2a52a7"/><stop offset="14.3%" stop-color="#2b52a7"/><stop offset="28.6%" stop-color="#2d52a7"/><stop offset="42.9%" stop-color="#3051a7"/><stop offset="57.1%" stop-color="#3350a7"/><stop offset="71.4%" stop-color="#3750a6"/><stop offset="85.7%" stop-color="#3c4fa6"/><stop offset="100%" stop-color="#424da5"/></linearGradient><linearGradient id="g123" gradientUnits="userSpaceOnUse" x1="330.6" x2="393" y1="0" y2="0"><stop offset="0%" stop-color="#2a51a7"/><stop offset="16.7%" stop-color="#2c52a7"/><stop offset="33.3%" stop-color="#2e52a7"/><stop offset="50%" stop-color="#3150a7"/><stop offset="66.7%" stop-color="#344fa6"/><stop offset="83.3%" stop-color="#394ea6"/><stop offset="100%" stop-color="#3d4da5"/></linearGradient><linearGradient id="g124" gradientUnits="userSpaceOnUse" x1="333.5" x2="384.8" y1="0" y2="0"><stop offset="0%" stop-color="#2b51a7"/><stop offset="20%" stop-color="#2c51a7"/><stop offset="40%" stop-color="#2f51a7"/><stop offset="60%" stop-color="#3250a6"/><stop offset="80%" stop-color="#354ea6"/><stop offset="100%" stop-color="#3a4da5"/></linearGradient><linearGradient id="g125" gradientUnits="userSpaceOnUse" x1="336.6" x2="376.6" y1="0" y2="0"><stop offset="0%" stop-color="#2b51a7"/><stop offset="25%" stop-color="#2d51a7"/><stop offset="50%" stop-color="#3050a6"/><stop offset="75%" stop-color="#334fa6"/><stop offset="100%" stop-color="#374da5"/></linearGradient><linearGradient id="g126" gradientUnits="userSpaceOnUse" x1="340" x2="368.4" y1="0" y2="0"><stop offset="0%" stop-color="#2c50a6"/><stop offset="33.3%" stop-color="#2e50a6"/><stop offset="66.7%" stop-color="#314fa6"/><stop offset="100%" stop-color="#344da5"/></linearGradient><linearGradient id="g127" gradientUnits="userSpaceOnUse" x1="343.6" x2="360.2" y1="0" y2="0"><stop offset="0%" stop-color="#2d4fa6"/><stop offset="50%" stop-color="#2f4fa6"/><stop offset="100%" stop-color="#314ea5"/></linearGradient>
</defs>
<g class="grid"><line x1="310.9" y1="44" x2="310.9" y2="556"/><line x1="255" y1="504.9" x2="758" y2="504.9"/><line x1="369.3" y1="44" x2="369.3" y2="556"/><line x1="255" y1="443.9" x2="758" y2="443.9"/><line x1="427.8" y1="44" x2="427.8" y2="556"/><line x1="255" y1="383" x2="758" y2="383"/><line x1="486.2" y1="44" x2="486.2" y2="556"/><line x1="255" y1="322.1" x2="758" y2="322.1"/><line x1="544.6" y1="44" x2="544.6" y2="556"/><line x1="255" y1="261.1" x2="758" y2="261.1"/><line x1="603.1" y1="44" x2="603.1" y2="556"/><line x1="255" y1="200.2" x2="758" y2="200.2"/><line x1="661.5" y1="44" x2="661.5" y2="556"/><line x1="255" y1="139.3" x2="758" y2="139.3"/><line x1="720" y1="44" x2="720" y2="556"/><line x1="255" y1="78.4" x2="758" y2="78.4"/></g>
<g clip-path="url(#locus)"><g filter="url(#soft)">
<rect x="240" y="40" width="460" height="540" fill="#6cb72e"/>
<rect x="286.9" y="45" width="23.9" height="12.6" fill="url(#g0)"/><rect x="278.1" y="57" width="45.2" height="4.6" fill="url(#g1)"/><rect x="272.8" y="61" width="59.2" height="4.6" fill="url(#g2)"/><rect x="268.9" y="65" width="70.5" height="4.6" fill="url(#g3)"/><rect x="265.7" y="69" width="80.4" height="4.6" fill="url(#g4)"/><rect x="263" y="73" width="89.2" height="4.6" fill="url(#g5)"/><rect x="260.8" y="77" width="97.1" height="4.6" fill="url(#g6)"/><rect x="258.9" y="81" width="104.5" height="4.6" fill="url(#g7)"/><rect x="257.4" y="85" width="111.4" height="4.6" fill="url(#g8)"/><rect x="256.1" y="89" width="117.9" height="4.6" fill="url(#g9)"/><rect x="254.9" y="93" width="124.1" height="4.6" fill="url(#g10)"/><rect x="254" y="97" width="130" height="4.6" fill="url(#g11)"/><rect x="253.2" y="101" width="135.6" height="4.6" fill="url(#g12)"/><rect x="252.5" y="105" width="141.1" height="4.6" fill="url(#g13)"/><rect x="251.9" y="109" width="146.4" height="4.6" fill="url(#g14)"/><rect x="251.4" y="113" width="151.5" height="4.6" fill="url(#g15)"/><rect x="250.9" y="117" width="156.5" height="4.6" fill="url(#g16)"/><rect x="250.5" y="121" width="161.3" height="4.6" fill="url(#g17)"/><rect x="250.1" y="125" width="166.1" height="4.6" fill="url(#g18)"/><rect x="249.7" y="129" width="170.8" height="4.6" fill="url(#g19)"/><rect x="249.4" y="133" width="175.4" height="4.6" fill="url(#g20)"/><rect x="249.1" y="137" width="179.9" height="4.6" fill="url(#g21)"/><rect x="248.8" y="141" width="184.4" height="4.6" fill="url(#g22)"/><rect x="248.6" y="145" width="188.8" height="4.6" fill="url(#g23)"/><rect x="248.4" y="149" width="193.1" height="4.6" fill="url(#g24)"/><rect x="248.3" y="153" width="197.3" height="4.6" fill="url(#g25)"/><rect x="248.1" y="157" width="201.5" height="4.6" fill="url(#g26)"/><rect x="248" y="161" width="205.6" height="4.6" fill="url(#g27)"/><rect x="248" y="165" width="209.6" height="4.6" fill="url(#g28)"/><rect x="247.9" y="169" width="213.6" height="4.6" fill="url(#g29)"/><rect x="247.9" y="173" width="217.6" height="4.6" fill="url(#g30)"/><rect x="247.9" y="177" width="221.5" height="4.6" fill="url(#g31)"/><rect x="247.9" y="181" width="225.4" height="4.6" fill="url(#g32)"/><rect x="247.9" y="185" width="229.3" height="4.6" fill="url(#g33)"/><rect x="248" y="189" width="233.1" height="4.6" fill="url(#g34)"/><rect x="248.1" y="193" width="236.9" height="4.6" fill="url(#g35)"/><rect x="248.2" y="197" width="240.7" height="4.6" fill="url(#g36)"/><rect x="248.4" y="201" width="244.4" height="4.6" fill="url(#g37)"/><rect x="248.6" y="205" width="248.1" height="4.6" fill="url(#g38)"/><rect x="248.8" y="209" width="251.8" height="4.6" fill="url(#g39)"/><rect x="249" y="213" width="255.5" height="4.6" fill="url(#g40)"/><rect x="249.2" y="217" width="259.1" height="4.6" fill="url(#g41)"/><rect x="249.5" y="221" width="262.7" height="4.6" fill="url(#g42)"/><rect x="249.8" y="225" width="266.3" height="4.6" fill="url(#g43)"/><rect x="250.1" y="229" width="269.9" height="4.6" fill="url(#g44)"/><rect x="250.4" y="233" width="273.5" height="4.6" fill="url(#g45)"/><rect x="250.7" y="237" width="277" height="4.6" fill="url(#g46)"/><rect x="251.1" y="241" width="280.5" height="4.6" fill="url(#g47)"/><rect x="251.5" y="245" width="284.1" height="4.6" fill="url(#g48)"/><rect x="251.9" y="249" width="287.5" height="4.6" fill="url(#g49)"/><rect x="252.3" y="253" width="291" height="4.6" fill="url(#g50)"/><rect x="252.8" y="257" width="294.5" height="4.6" fill="url(#g51)"/><rect x="253.2" y="261" width="297.9" height="4.6" fill="url(#g52)"/><rect x="253.7" y="265" width="301.4" height="4.6" fill="url(#g53)"/><rect x="254.2" y="269" width="304.8" height="4.6" fill="url(#g54)"/><rect x="254.7" y="273" width="308.2" height="4.6" fill="url(#g55)"/><rect x="255.2" y="277" width="311.6" height="4.6" fill="url(#g56)"/><rect x="255.7" y="281" width="314.9" height="4.6" fill="url(#g57)"/><rect x="256.2" y="285" width="318.3" height="4.6" fill="url(#g58)"/><rect x="256.8" y="289" width="321.7" height="4.6" fill="url(#g59)"/><rect x="257.3" y="293" width="325" height="4.6" fill="url(#g60)"/><rect x="257.9" y="297" width="328.3" height="4.6" fill="url(#g61)"/><rect x="258.5" y="301" width="331.7" height="4.6" fill="url(#g62)"/><rect x="259" y="305" width="335" height="4.6" fill="url(#g63)"/><rect x="259.6" y="309" width="338.3" height="4.6" fill="url(#g64)"/><rect x="260.2" y="313" width="341.6" height="4.6" fill="url(#g65)"/><rect x="260.8" y="317" width="344.9" height="4.6" fill="url(#g66)"/><rect x="261.4" y="321" width="348.2" height="4.6" fill="url(#g67)"/><rect x="262.1" y="325" width="351.5" height="4.6" fill="url(#g68)"/><rect x="262.7" y="329" width="354.8" height="4.6" fill="url(#g69)"/><rect x="263.3" y="333" width="358" height="4.6" fill="url(#g70)"/><rect x="264" y="337" width="361.3" height="4.6" fill="url(#g71)"/><rect x="264.6" y="341" width="364.6" height="4.6" fill="url(#g72)"/><rect x="265.2" y="345" width="367.8" height="4.6" fill="url(#g73)"/><rect x="265.9" y="349" width="371.1" height="4.6" fill="url(#g74)"/><rect x="266.6" y="353" width="374.3" height="4.6" fill="url(#g75)"/><rect x="267.3" y="357" width="377.5" height="4.6" fill="url(#g76)"/><rect x="268" y="361" width="380.7" height="4.6" fill="url(#g77)"/><rect x="268.7" y="365" width="383.9" height="4.6" fill="url(#g78)"/><rect x="269.4" y="369" width="387.1" height="4.6" fill="url(#g79)"/><rect x="270.1" y="373" width="390.2" height="4.6" fill="url(#g80)"/><rect x="270.9" y="377" width="393.4" height="4.6" fill="url(#g81)"/><rect x="271.7" y="381" width="396.5" height="4.6" fill="url(#g82)"/><rect x="272.4" y="385" width="399.6" height="4.6" fill="url(#g83)"/><rect x="273.2" y="389" width="402.7" height="4.6" fill="url(#g84)"/><rect x="274.1" y="393" width="405.8" height="4.6" fill="url(#g85)"/><rect x="274.9" y="397" width="408.4" height="4.6" fill="url(#g86)"/><rect x="275.8" y="401" width="408.4" height="4.6" fill="url(#g87)"/><rect x="276.7" y="405" width="403.4" height="4.6" fill="url(#g88)"/><rect x="277.6" y="409" width="394.3" height="4.6" fill="url(#g89)"/><rect x="278.5" y="413" width="385.2" height="4.6" fill="url(#g90)"/><rect x="279.4" y="417" width="376" height="4.6" fill="url(#g91)"/><rect x="280.4" y="421" width="366.9" height="4.6" fill="url(#g92)"/><rect x="281.4" y="425" width="357.6" height="4.6" fill="url(#g93)"/><rect x="282.5" y="429" width="348.4" height="4.6" fill="url(#g94)"/><rect x="283.5" y="433" width="339.2" height="4.6" fill="url(#g95)"/><rect x="284.6" y="437" width="329.9" height="4.6" fill="url(#g96)"/><rect x="285.7" y="441" width="320.5" height="4.6" fill="url(#g97)"/><rect x="286.9" y="445" width="311.2" height="4.6" fill="url(#g98)"/><rect x="288" y="449" width="301.8" height="4.6" fill="url(#g99)"/><rect x="289.3" y="453" width="292.4" height="4.6" fill="url(#g100)"/><rect x="290.5" y="457" width="282.9" height="4.6" fill="url(#g101)"/><rect x="291.8" y="461" width="273.5" height="4.6" fill="url(#g102)"/><rect x="293.1" y="465" width="263.9" height="4.6" fill="url(#g103)"/><rect x="294.5" y="469" width="254.4" height="4.6" fill="url(#g104)"/><rect x="295.9" y="473" width="244.8" height="4.6" fill="url(#g105)"/><rect x="297.3" y="477" width="235.1" height="4.6" fill="url(#g106)"/><rect x="298.8" y="481" width="225.5" height="4.6" fill="url(#g107)"/><rect x="300.3" y="485" width="215.7" height="4.6" fill="url(#g108)"/><rect x="301.9" y="489" width="206" height="4.6" fill="url(#g109)"/><rect x="303.5" y="493" width="196.2" height="4.6" fill="url(#g110)"/><rect x="305.1" y="497" width="186.3" height="4.6" fill="url(#g111)"/><rect x="306.8" y="501" width="176.4" height="4.6" fill="url(#g112)"/><rect x="308.6" y="505" width="166.4" height="4.6" fill="url(#g113)"/><rect x="310.4" y="509" width="156.4" height="4.6" fill="url(#g114)"/><rect x="312.3" y="513" width="146.3" height="4.6" fill="url(#g115)"/><rect x="314.2" y="517" width="136.2" height="4.6" fill="url(#g116)"/><rect x="316.2" y="521" width="126" height="4.6" fill="url(#g117)"/><rect x="318.3" y="525" width="115.7" height="4.6" fill="url(#g118)"/><rect x="320.6" y="529" width="105.2" height="4.6" fill="url(#g119)"/><rect x="322.9" y="533" width="94.7" height="4.6" fill="url(#g120)"/><rect x="325.3" y="537" width="84.1" height="4.6" fill="url(#g121)"/><rect x="327.9" y="541" width="73.3" height="4.6" fill="url(#g122)"/><rect x="330.6" y="545" width="62.4" height="4.6" fill="url(#g123)"/><rect x="333.5" y="549" width="51.3" height="4.6" fill="url(#g124)"/><rect x="336.6" y="553" width="39.9" height="4.6" fill="url(#g125)"/><rect x="340" y="557" width="28.4" height="4.6" fill="url(#g126)"/><rect x="343.6" y="561" width="16.6" height="14.6" fill="url(#g127)"/>
</g>
<g class="grid2" opacity=".13"><line x1="310.9" y1="44" x2="310.9" y2="556"/><line x1="255" y1="504.9" x2="758" y2="504.9"/><line x1="369.3" y1="44" x2="369.3" y2="556"/><line x1="255" y1="443.9" x2="758" y2="443.9"/><line x1="427.8" y1="44" x2="427.8" y2="556"/><line x1="255" y1="383" x2="758" y2="383"/><line x1="486.2" y1="44" x2="486.2" y2="556"/><line x1="255" y1="322.1" x2="758" y2="322.1"/><line x1="544.6" y1="44" x2="544.6" y2="556"/><line x1="255" y1="261.1" x2="758" y2="261.1"/><line x1="603.1" y1="44" x2="603.1" y2="556"/><line x1="255" y1="200.2" x2="758" y2="200.2"/><line x1="661.5" y1="44" x2="661.5" y2="556"/><line x1="255" y1="139.3" x2="758" y2="139.3"/><line x1="720" y1="44" x2="720" y2="556"/><line x1="255" y1="78.4" x2="758" y2="78.4"/></g>
</g>
<g class="ticks"><line x1="257.8" y1="106.8" x2="252.2" y2="106.0"/><line x1="272.4" y1="68.8" x2="268.4" y2="65.1"/><line x1="293.3" y1="55.2" x2="291.6" y2="44.2"/><line x1="316.2" y1="59.5" x2="319.4" y2="55.1"/><line x1="340.5" y1="71.6" x2="345.7" y2="64"/><line x1="362.7" y1="87.8" x2="365.6" y2="83.4"/><line x1="385.4" y1="104" x2="391.6" y2="97.1"/><line x1="406.2" y1="122.4" x2="409.8" y2="117.8"/><line x1="427" y1="141.3" x2="433.4" y2="134.9"/><line x1="448.4" y1="161.6" x2="452.4" y2="158"/><line x1="469.1" y1="183.5" x2="475.9" y2="176.2"/><line x1="489.5" y1="204.3" x2="493.5" y2="200.3"/><line x1="510.2" y1="226.2" x2="516.7" y2="218.9"/><line x1="530.8" y1="246.8" x2="534.8" y2="243.2"/><line x1="549.8" y1="268.3" x2="556.7" y2="261"/><line x1="569.5" y1="286.7" x2="573.5" y2="282.7"/><line x1="588.1" y1="305.7" x2="594.6" y2="298.4"/><line x1="601.9" y1="320.3" x2="605.9" y2="316.7"/><line x1="618.9" y1="336.5" x2="625.4" y2="330"/><line x1="630.2" y1="350.8" x2="634.3" y2="347"/><line x1="641.2" y1="359.4" x2="648.3" y2="353.6"/><line x1="650" y1="368.2" x2="653.7" y2="364.9"/><line x1="656" y1="375.1" x2="662.9" y2="369.4"/><line x1="668.3" y1="387.6" x2="672.2" y2="384.4"/><line x1="263.5" y1="313.3" x2="257.5" y2="313.9"/><line x1="303" y1="484.7" x2="294.4" y2="487.6"/><line x1="314.6" y1="510.2" x2="308.5" y2="513.9"/><line x1="323.1" y1="529.2" x2="314.6" y2="534"/><line x1="331.6" y1="539.9" x2="325.5" y2="543.8"/><line x1="332.8" y1="548.7" x2="325.5" y2="553.5"/><line x1="340.9" y1="556.9" x2="334" y2="562.5"/></g>
<g class="tri" fill="none" stroke-linejoin="miter">
<path d="M355.3,96.6 L329.1,539.4 L667.3,391.6 Z" stroke="#d71e0a" stroke-width="1.6" stroke-opacity=".68"/>
<path d="M412.5,161.8 L339.8,536.8 L655.3,378 Z" stroke="#ffaa5a" stroke-width="1.3" stroke-opacity=".8"/>
<path d="M433.4,215.6 L339.6,536.4 L630.8,372 Z" stroke="#ffffff" stroke-width="1.35" stroke-opacity=".86"/>
</g>
<g class="wl" opacity=".995"><text x="279.8" y="39.5" textLength="23.2" lengthAdjust="spacingAndGlyphs">520</text><text x="344" y="58.7" textLength="23.2" lengthAdjust="spacingAndGlyphs">530</text><text x="389" y="91.1" textLength="23.2" lengthAdjust="spacingAndGlyphs">540</text><text x="431.7" y="129" textLength="23.2" lengthAdjust="spacingAndGlyphs">550</text><text x="475.4" y="170.4" textLength="23.2" lengthAdjust="spacingAndGlyphs">560</text><text x="516.2" y="213.4" textLength="23.2" lengthAdjust="spacingAndGlyphs">570</text><text x="556.7" y="254.8" textLength="23.2" lengthAdjust="spacingAndGlyphs">580</text><text x="593.1" y="293" textLength="23.2" lengthAdjust="spacingAndGlyphs">590</text><text x="623.7" y="324.6" textLength="23.2" lengthAdjust="spacingAndGlyphs">600</text><text x="645.8" y="348.6" textLength="23.2" lengthAdjust="spacingAndGlyphs">610</text><text x="669.6" y="374.6" textLength="23.2" lengthAdjust="spacingAndGlyphs">620</text><text x="270.7" y="504.8" textLength="23.2" lengthAdjust="spacingAndGlyphs">480</text><text x="291.9" y="552.9" textLength="23.2" lengthAdjust="spacingAndGlyphs">470</text></g>
<g class="ax" opacity=".995"><text x="243.4" y="587.4" textLength="18.4" lengthAdjust="spacingAndGlyphs">0.0</text><text x="220.3" y="568.1" textLength="18.4" lengthAdjust="spacingAndGlyphs">0.0</text><text x="301.9" y="587.4" textLength="18.4" lengthAdjust="spacingAndGlyphs">0.1</text><text x="220.3" y="507.2" textLength="18.4" lengthAdjust="spacingAndGlyphs">0.1</text><text x="360.3" y="587.4" textLength="18.4" lengthAdjust="spacingAndGlyphs">0.2</text><text x="220.3" y="446.2" textLength="18.4" lengthAdjust="spacingAndGlyphs">0.2</text><text x="418.8" y="587.4" textLength="18.4" lengthAdjust="spacingAndGlyphs">0.3</text><text x="220.3" y="385.3" textLength="18.4" lengthAdjust="spacingAndGlyphs">0.3</text><text x="477.2" y="587.4" textLength="18.4" lengthAdjust="spacingAndGlyphs">0.4</text><text x="220.3" y="324.4" textLength="18.4" lengthAdjust="spacingAndGlyphs">0.4</text><text x="535.6" y="587.4" textLength="18.4" lengthAdjust="spacingAndGlyphs">0.5</text><text x="220.3" y="263.4" textLength="18.4" lengthAdjust="spacingAndGlyphs">0.5</text><text x="594.1" y="587.4" textLength="18.4" lengthAdjust="spacingAndGlyphs">0.6</text><text x="220.3" y="202.5" textLength="18.4" lengthAdjust="spacingAndGlyphs">0.6</text><text x="652.5" y="587.4" textLength="18.4" lengthAdjust="spacingAndGlyphs">0.7</text><text x="220.3" y="141.6" textLength="18.4" lengthAdjust="spacingAndGlyphs">0.7</text><text x="711" y="587.4" textLength="18.4" lengthAdjust="spacingAndGlyphs">0.8</text><text x="220.3" y="80.7" textLength="18.4" lengthAdjust="spacingAndGlyphs">0.8</text></g>
<g class="lg" opacity=".995">
<rect x="627.8" y="63.6" width="16.2" height="28.8" rx="5" fill="#f20d10"/>
<rect x="627.8" y="106.6" width="16.2" height="28.6" rx="5" fill="#f9a74e"/>
<rect x="628.4" y="148.6" width="15.2" height="28.6" rx="5" fill="#f4f4f4" stroke="#7c7f89" stroke-width="1.15"/>
<text x="655.3" y="85.9" textLength="98" lengthAdjust="spacingAndGlyphs">REC.2020</text>
<text x="655.3" y="128.3" textLength="73" lengthAdjust="spacingAndGlyphs">DCI-P3</text>
<text x="655.3" y="170.5" textLength="86.5" lengthAdjust="spacingAndGlyphs">REC.709</text>
</g>
</svg>
</div>
</body>
</html>
